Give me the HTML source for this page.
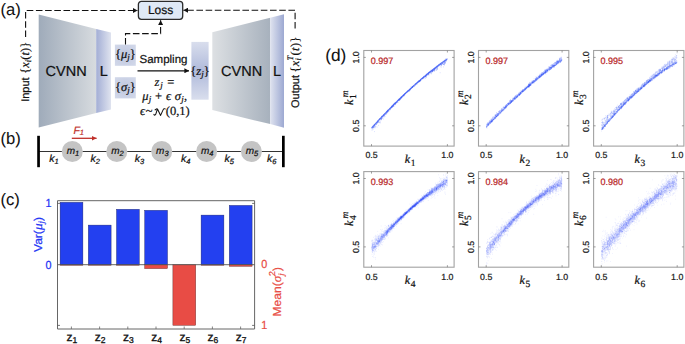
<!DOCTYPE html>
<html><head><meta charset="utf-8"><style>
html,body{margin:0;padding:0;background:#fff;}
svg{display:block;}
text{text-rendering:geometricPrecision;}
</style></head><body>
<svg width="685" height="344" viewBox="0 0 685 344"><g font-family='"Liberation Sans", sans-serif' fill="#111">
<text x="0.4" y="15.2" font-size="16.6" stroke="#111" stroke-width="0.08">(a)</text>
<defs>
<linearGradient id="gL" x1="0" x2="1" y1="0" y2="0"><stop offset="0" stop-color="#9fabba"/><stop offset="1" stop-color="#d7dbdf"/></linearGradient>
<linearGradient id="gR" x1="0" x2="1" y1="0" y2="0"><stop offset="0" stop-color="#dde0e3"/><stop offset="1" stop-color="#a7b1bd"/></linearGradient>
<linearGradient id="lL" x1="0" x2="1" y1="0" y2="0"><stop offset="0" stop-color="#a3aed5"/><stop offset="1" stop-color="#dfe3ef"/></linearGradient>
<linearGradient id="lR" x1="0" x2="1" y1="0" y2="0"><stop offset="0" stop-color="#dfe3ef"/><stop offset="1" stop-color="#9da9d2"/></linearGradient>
<radialGradient id="bx" cx="0.5" cy="0.5" r="0.7"><stop offset="0" stop-color="#bfc7df"/><stop offset="1" stop-color="#d3d9ea"/></radialGradient>
<linearGradient id="zb" x1="0" x2="0" y1="0" y2="1"><stop offset="0" stop-color="#d9deed"/><stop offset="0.5" stop-color="#b0badb"/><stop offset="1" stop-color="#d9deed"/></linearGradient>
<marker id="ah" viewBox="0 0 10 10" refX="10" refY="5" markerWidth="4.6" markerHeight="5" preserveAspectRatio="none" orient="auto" markerUnits="userSpaceOnUse"><path d="M0,0L10,5L0,10z" fill="#111"/></marker>
<marker id="ahr" viewBox="0 0 10 10" refX="10" refY="5" markerWidth="5" markerHeight="5" preserveAspectRatio="none" orient="auto" markerUnits="userSpaceOnUse"><path d="M0,0L10,5L0,10z" fill="#c0302a"/></marker>
</defs>
<polygon points="38.7,14.4 96.2,28.9 96.2,112.9 38.7,127.6" fill="url(#gL)"/>
<polygon points="96.2,28.9 111,32.4 111,109.4 96.2,112.9" fill="url(#lL)"/>
<polygon points="212.3,32.3 270.2,17.7 270.2,124.1 212.3,110.0" fill="url(#gR)"/>
<polygon points="270.2,17.7 284,14.2 284,127.7 270.2,124.1" fill="url(#lR)"/>
<text x="66.1" y="75.9" font-size="14.5" text-anchor="middle" stroke="#111" stroke-width="0.22">CVNN</text>
<text x="103.9" y="76.2" font-size="14.5" text-anchor="middle" stroke="#111" stroke-width="0.22">L</text>
<text x="241.6" y="75.9" font-size="14.5" text-anchor="middle" stroke="#111" stroke-width="0.22">CVNN</text>
<text x="277.1" y="76.2" font-size="14.5" text-anchor="middle" stroke="#111" stroke-width="0.22">L</text>
<rect x="114.9" y="44.6" width="20.9" height="21.2" fill="url(#bx)"/>
<rect x="114.9" y="77.2" width="20.9" height="21.2" fill="url(#bx)"/>
<rect x="191.4" y="41.9" width="17.2" height="57.8" fill="url(#zb)"/>
<text x="125.3" y="58.0" font-size="12.5" text-anchor="middle" font-family='"Liberation Serif", serif' stroke="#111" stroke-width="0.22">{<tspan font-style="italic">μ</tspan><tspan font-style="italic" font-size="9" dy="2.2">j</tspan><tspan dy="-2.2">}</tspan></text>
<text x="125.3" y="90.6" font-size="12.5" text-anchor="middle" font-family='"Liberation Serif", serif' stroke="#111" stroke-width="0.22">{<tspan font-style="italic">σ</tspan><tspan font-style="italic" font-size="9" dy="2.2">j</tspan><tspan dy="-2.2">}</tspan></text>
<text x="200" y="74.8" font-size="12.5" text-anchor="middle" font-family='"Liberation Serif", serif' stroke="#111" stroke-width="0.22">{<tspan font-style="italic">z</tspan><tspan font-style="italic" font-size="9" dy="2.2">j</tspan><tspan dy="-2.2">}</tspan></text>
<text x="163.5" y="62.7" font-size="11.5" text-anchor="middle" stroke="#111" stroke-width="0.22">Sampling</text>
<line x1="137.5" y1="70.8" x2="189" y2="70.8" stroke="#111" stroke-width="1.2" marker-end="url(#ah)"/>
<text x="154.6" y="85.7" font-size="12.5" textLength="19.6" lengthAdjust="spacing" font-family='"Liberation Serif", serif' stroke="#111" stroke-width="0.22"><tspan font-style="italic">z</tspan><tspan font-style="italic" font-size="9" dy="2.2">j</tspan><tspan dy="-2.2"> =</tspan></text>
<text x="142.2" y="99.8" font-size="12.5" textLength="45" lengthAdjust="spacing" font-family='"Liberation Serif", serif' stroke="#111" stroke-width="0.22"><tspan font-style="italic">μ</tspan><tspan font-style="italic" font-size="9" dy="2.2">j</tspan><tspan dy="-2.2"> + </tspan><tspan font-style="italic">ϵ σ</tspan><tspan font-style="italic" font-size="9" dy="2.2">j</tspan><tspan dy="-2.2">,</tspan></text>
<text x="140.0" y="115.4" font-size="12.5" textLength="12.6" lengthAdjust="spacing" font-family='"Liberation Serif", serif' stroke="#111" stroke-width="0.22"><tspan font-style="italic">ϵ</tspan>~</text>
<text x="165.8" y="115.4" font-size="12.5" font-family='"Liberation Serif", serif' stroke="#111" stroke-width="0.22">(0,1)</text>
<path transform="translate(0,0.5)" d="M153.9,113.9 C154.5,115.1 155.5,114.7 155.9,113.4 L157.3,108.8 M155.1,109.4 C155.9,108.3 157.0,108.1 157.6,108.7 L160.6,114.9 L163.2,109.1 C163.6,108.2 164.4,107.9 165.2,108.4" fill="none" stroke="#111" stroke-width="1.05" stroke-linecap="round" stroke-linejoin="round"/>
<rect x="138.4" y="1.3" width="44.3" height="18" rx="3" fill="#dfe9f6" stroke="#2b2b2b" stroke-width="1.3"/>
<text x="160.6" y="14.1" font-size="12" text-anchor="middle" stroke="#111" stroke-width="0.22">Loss</text>
<polyline points="25.6,37 25.6,10.5 137.5,10.5" stroke="#111" stroke-width="1.1" fill="none" stroke-dasharray="6.6 2.6" marker-end="url(#ah)"/>
<polyline points="295.1,28.5 295.1,10.2 183.4,10.2" stroke="#111" stroke-width="1.1" fill="none" stroke-dasharray="6.6 2.6" marker-end="url(#ah)"/>
<polyline points="125.5,44.6 125.5,33.6 160.6,33.6 160.6,20.3" stroke="#111" stroke-width="1.1" fill="none" stroke-dasharray="6.6 2.6" marker-end="url(#ah)"/>
<text transform="translate(28.8,101.8) rotate(-90)" font-size="11" stroke="#111" stroke-width="0.22">Input</text>
<text transform="translate(29.2,73.8) rotate(-90)" font-size="12.3" font-family='"Liberation Serif", serif' textLength="32" lengthAdjust="spacing" stroke="#111" stroke-width="0.22">{<tspan font-style="italic">x</tspan><tspan font-style="italic" font-size="8.5" dy="2">i</tspan><tspan dy="-2">(</tspan><tspan font-style="italic">t</tspan>)}</text>
<text transform="translate(298.7,108.0) rotate(-90)" font-size="11" stroke="#111" stroke-width="0.22">Output</text>
<text transform="translate(299.2,72.6) rotate(-90)" font-size="12.3" font-family='"Liberation Serif", serif' textLength="36" lengthAdjust="spacing" stroke="#111" stroke-width="0.22">{<tspan font-style="italic">x</tspan><tspan font-style="italic" font-size="8.5" dy="2">i</tspan><tspan font-style="italic" font-size="8.5" dx="-3" dy="-8">T</tspan><tspan dy="6">(</tspan><tspan font-style="italic">t</tspan>)}</text>
<text x="0.4" y="144.3" font-size="16.6" stroke="#111" stroke-width="0.08">(b)</text>
<line x1="39" y1="151.5" x2="283" y2="151.5" stroke="#333" stroke-width="1"/>
<rect x="37.2" y="135.8" width="2.7" height="31.4" fill="#000"/>
<rect x="282" y="135.8" width="2.7" height="31.4" fill="#000"/>
<circle cx="72.3" cy="151.5" r="10.5" fill="#c4c4c4"/>
<text x="72.9" y="154.2" font-size="10" font-style="italic" text-anchor="middle" stroke="#111" stroke-width="0.22">m<tspan font-size="7.5" dy="1.5">1</tspan></text>
<circle cx="116.8" cy="151.5" r="10.5" fill="#c4c4c4"/>
<text x="117.4" y="154.2" font-size="10" font-style="italic" text-anchor="middle" stroke="#111" stroke-width="0.22">m<tspan font-size="7.5" dy="1.5">2</tspan></text>
<circle cx="161.7" cy="151.5" r="10.5" fill="#c4c4c4"/>
<text x="162.3" y="154.2" font-size="10" font-style="italic" text-anchor="middle" stroke="#111" stroke-width="0.22">m<tspan font-size="7.5" dy="1.5">3</tspan></text>
<circle cx="206.6" cy="151.5" r="10.5" fill="#c4c4c4"/>
<text x="207.2" y="154.2" font-size="10" font-style="italic" text-anchor="middle" stroke="#111" stroke-width="0.22">m<tspan font-size="7.5" dy="1.5">4</tspan></text>
<circle cx="251.4" cy="151.5" r="10.5" fill="#c4c4c4"/>
<text x="252.0" y="154.2" font-size="10" font-style="italic" text-anchor="middle" stroke="#111" stroke-width="0.22">m<tspan font-size="7.5" dy="1.5">5</tspan></text>
<text x="49.3" y="162" font-size="10.5" font-style="italic" stroke="#111" stroke-width="0.22">k<tspan font-size="7.5" dy="1.5">1</tspan></text>
<text x="90.4" y="162" font-size="10.5" font-style="italic" stroke="#111" stroke-width="0.22">k<tspan font-size="7.5" dy="1.5">2</tspan></text>
<text x="134.7" y="162" font-size="10.5" font-style="italic" stroke="#111" stroke-width="0.22">k<tspan font-size="7.5" dy="1.5">3</tspan></text>
<text x="180.9" y="162" font-size="10.5" font-style="italic" stroke="#111" stroke-width="0.22">k<tspan font-size="7.5" dy="1.5">4</tspan></text>
<text x="224.6" y="162" font-size="10.5" font-style="italic" stroke="#111" stroke-width="0.22">k<tspan font-size="7.5" dy="1.5">5</tspan></text>
<text x="266.9" y="162" font-size="10.5" font-style="italic" stroke="#111" stroke-width="0.22">k<tspan font-size="7.5" dy="1.5">6</tspan></text>
<text x="73.4" y="133.6" font-size="10.5" font-style="italic" fill="#c0302a" stroke="#c0302a" stroke-width="0.22">F<tspan font-size="7.5" dy="1.5">1</tspan></text>
<line x1="71.8" y1="138.3" x2="96.6" y2="138.3" stroke="#c0302a" stroke-width="1.3" marker-end="url(#ahr)"/>
<text x="0.4" y="205.1" font-size="16.6" stroke="#111" stroke-width="0.08">(c)</text>
<rect x="60.1" y="264.7" width="22.8" height="0.5" fill="#e84c45" stroke="#5a2020" stroke-width="0.4"/>
<rect x="60.1" y="202.3" width="22.8" height="62.4" fill="#2340f0" stroke="#1a2060" stroke-width="0.4"/>
<rect x="88.3" y="264.7" width="22.8" height="0.5" fill="#e84c45" stroke="#5a2020" stroke-width="0.4"/>
<rect x="88.3" y="225.1" width="22.8" height="39.6" fill="#2340f0" stroke="#1a2060" stroke-width="0.4"/>
<rect x="116.5" y="264.7" width="22.8" height="0.5" fill="#e84c45" stroke="#5a2020" stroke-width="0.4"/>
<rect x="116.5" y="209.3" width="22.8" height="55.4" fill="#2340f0" stroke="#1a2060" stroke-width="0.4"/>
<rect x="144.7" y="264.7" width="22.8" height="3.9" fill="#e84c45" stroke="#5a2020" stroke-width="0.4"/>
<rect x="144.7" y="210.3" width="22.8" height="54.4" fill="#2340f0" stroke="#1a2060" stroke-width="0.4"/>
<rect x="172.9" y="264.7" width="22.8" height="60.6" fill="#e84c45" stroke="#5a2020" stroke-width="0.4"/>
<rect x="201.1" y="264.7" width="22.8" height="0.5" fill="#e84c45" stroke="#5a2020" stroke-width="0.4"/>
<rect x="201.1" y="215.1" width="22.8" height="49.6" fill="#2340f0" stroke="#1a2060" stroke-width="0.4"/>
<rect x="229.3" y="264.7" width="22.8" height="1.6" fill="#e84c45" stroke="#5a2020" stroke-width="0.4"/>
<rect x="229.3" y="205.4" width="22.8" height="59.3" fill="#2340f0" stroke="#1a2060" stroke-width="0.4"/>
<path d="M57.5,200.7 H254.6 V329 H57.5 Z" fill="none" stroke="#666" stroke-width="1"/>
<line x1="57.5" y1="264.7" x2="254.6" y2="264.7" stroke="#555" stroke-width="0.9"/>
<path d="M57.5,203.4h2.5M254.6,203.4h-2.5M57.5,325.4h2.5M254.6,325.4h-2.5" stroke="#555" stroke-width="0.8"/>
<line x1="71.4" y1="326.5" x2="71.4" y2="329" stroke="#666" stroke-width="0.8"/>
<text x="66.6" y="340.8" font-size="12" stroke="#111" stroke-width="0.32">z<tspan font-size="8.5" dy="2">1</tspan></text>
<line x1="99.6" y1="326.5" x2="99.6" y2="329" stroke="#666" stroke-width="0.8"/>
<text x="94.8" y="340.8" font-size="12" stroke="#111" stroke-width="0.32">z<tspan font-size="8.5" dy="2">2</tspan></text>
<line x1="127.8" y1="326.5" x2="127.8" y2="329" stroke="#666" stroke-width="0.8"/>
<text x="123.0" y="340.8" font-size="12" stroke="#111" stroke-width="0.32">z<tspan font-size="8.5" dy="2">3</tspan></text>
<line x1="156.0" y1="326.5" x2="156.0" y2="329" stroke="#666" stroke-width="0.8"/>
<text x="151.2" y="340.8" font-size="12" stroke="#111" stroke-width="0.32">z<tspan font-size="8.5" dy="2">4</tspan></text>
<line x1="184.2" y1="326.5" x2="184.2" y2="329" stroke="#666" stroke-width="0.8"/>
<text x="179.4" y="340.8" font-size="12" stroke="#111" stroke-width="0.32">z<tspan font-size="8.5" dy="2">5</tspan></text>
<line x1="212.4" y1="326.5" x2="212.4" y2="329" stroke="#666" stroke-width="0.8"/>
<text x="207.6" y="340.8" font-size="12" stroke="#111" stroke-width="0.32">z<tspan font-size="8.5" dy="2">6</tspan></text>
<line x1="240.6" y1="326.5" x2="240.6" y2="329" stroke="#666" stroke-width="0.8"/>
<text x="235.8" y="340.8" font-size="12" stroke="#111" stroke-width="0.32">z<tspan font-size="8.5" dy="2">7</tspan></text>
<text transform="translate(51.5,207.4) scale(1,1.08)" font-size="10.8" fill="#2233f5" text-anchor="end" stroke="#2233f5" stroke-width="0.22">1</text>
<text transform="translate(51.5,269.0) scale(1,1.08)" font-size="10.8" fill="#2233f5" text-anchor="end" stroke="#2233f5" stroke-width="0.22">0</text>
<text transform="translate(261.2,268.0) scale(1,1.08)" font-size="10.8" fill="#e84c45" stroke="#e84c45" stroke-width="0.22">0</text>
<text transform="translate(261.2,329.4) scale(1,1.08)" font-size="10.8" fill="#e84c45" stroke="#e84c45" stroke-width="0.22">1</text>
<text transform="translate(41.7,252) rotate(-90)" font-size="11.5" fill="#2233f5" textLength="35" lengthAdjust="spacingAndGlyphs" stroke="#2233f5" stroke-width="0.22">Var(<tspan font-style="italic" font-family='"Liberation Serif", serif' font-size="12.5">μ</tspan><tspan font-style="italic" font-family='"Liberation Serif", serif' font-size="8.5" dy="2">j</tspan><tspan dy="-2">)</tspan></text>
<text transform="translate(281.1,316.5) rotate(-90)" font-size="11.5" fill="#e84c45" textLength="49.5" lengthAdjust="spacingAndGlyphs" stroke="#e84c45" stroke-width="0.22">Mean(<tspan font-style="italic" font-family='"Liberation Serif", serif' font-size="12.5">σ</tspan><tspan font-style="italic" font-family='"Liberation Serif", serif' font-size="8.5" dy="2.5">j</tspan><tspan font-size="8.5" dx="-2.5" dy="-8.2">2</tspan><tspan dy="5.7">)</tspan></text>
<text x="325.2" y="60.5" font-size="17.3" stroke="#111" stroke-width="0.08">(d)</text>
<rect x="363.8" y="50.5" width="90.3" height="95.6" fill="none" stroke="#a2a2a2" stroke-width="1.1"/>
<path d="M371.5,146.1 v-2 M371.5,50.5 v2 M363.8,125.8 h2 M454.1,125.8 h-2" stroke="#777" stroke-width="0.7"/>
<path d="M447.4,146.1 v-2 M447.4,50.5 v2 M363.8,57.4 h2 M454.1,57.4 h-2" stroke="#777" stroke-width="0.7"/>
<text x="371.5" y="158.4" font-size="8.8" text-anchor="middle" fill="#222" stroke="#222" stroke-width="0.22">0.5</text>
<text x="447.4" y="158.4" font-size="8.8" text-anchor="middle" fill="#222" stroke="#222" stroke-width="0.22">1.0</text>
<text transform="translate(358.8,57.4) rotate(-90)" font-size="8.8" text-anchor="middle" fill="#222" stroke="#222" stroke-width="0.22">1.0</text>
<text transform="translate(358.8,125.8) rotate(-90)" font-size="8.8" text-anchor="middle" fill="#222" stroke="#222" stroke-width="0.22">0.5</text>
<text x="404.8" y="163.2" font-size="12" font-style="italic" font-family='"Liberation Serif", serif' stroke="#111" stroke-width="0.22">k<tspan font-style="normal" font-size="9.5" dx="0.6" dy="2.6">1</tspan></text>
<text transform="translate(352.8,105.0) rotate(-90)" font-size="12" font-style="italic" font-family='"Liberation Serif", serif' stroke="#111" stroke-width="0.22">k<tspan font-style="normal" font-size="9.5" dx="0.8" dy="3.1">1</tspan><tspan font-size="9.5" dx="-3.15" dy="-7.5">m</tspan></text>
<text transform="translate(370.7,63.8) scale(1,1.03)" font-size="9" fill="#b82828" stroke="#b82828" stroke-width="0.22">0.997</text>
<rect x="478.5" y="50.5" width="90.3" height="95.6" fill="none" stroke="#a2a2a2" stroke-width="1.1"/>
<path d="M486.2,146.1 v-2 M486.2,50.5 v2 M478.5,125.8 h2 M568.8,125.8 h-2" stroke="#777" stroke-width="0.7"/>
<path d="M562.1,146.1 v-2 M562.1,50.5 v2 M478.5,57.4 h2 M568.8,57.4 h-2" stroke="#777" stroke-width="0.7"/>
<text x="486.2" y="158.4" font-size="8.8" text-anchor="middle" fill="#222" stroke="#222" stroke-width="0.22">0.5</text>
<text x="562.1" y="158.4" font-size="8.8" text-anchor="middle" fill="#222" stroke="#222" stroke-width="0.22">1.0</text>
<text transform="translate(473.5,57.4) rotate(-90)" font-size="8.8" text-anchor="middle" fill="#222" stroke="#222" stroke-width="0.22">1.0</text>
<text transform="translate(473.5,125.8) rotate(-90)" font-size="8.8" text-anchor="middle" fill="#222" stroke="#222" stroke-width="0.22">0.5</text>
<text x="519.5" y="163.2" font-size="12" font-style="italic" font-family='"Liberation Serif", serif' stroke="#111" stroke-width="0.22">k<tspan font-style="normal" font-size="9.5" dx="0.6" dy="2.6">2</tspan></text>
<text transform="translate(467.5,105.0) rotate(-90)" font-size="12" font-style="italic" font-family='"Liberation Serif", serif' stroke="#111" stroke-width="0.22">k<tspan font-style="normal" font-size="9.5" dx="0.8" dy="3.1">2</tspan><tspan font-size="9.5" dx="-3.15" dy="-7.5">m</tspan></text>
<text transform="translate(485.4,63.8) scale(1,1.03)" font-size="9" fill="#b82828" stroke="#b82828" stroke-width="0.22">0.997</text>
<rect x="593.6" y="50.5" width="90.3" height="95.6" fill="none" stroke="#a2a2a2" stroke-width="1.1"/>
<path d="M601.3,146.1 v-2 M601.3,50.5 v2 M593.6,125.8 h2 M683.9,125.8 h-2" stroke="#777" stroke-width="0.7"/>
<path d="M677.2,146.1 v-2 M677.2,50.5 v2 M593.6,57.4 h2 M683.9,57.4 h-2" stroke="#777" stroke-width="0.7"/>
<text x="601.3" y="158.4" font-size="8.8" text-anchor="middle" fill="#222" stroke="#222" stroke-width="0.22">0.5</text>
<text x="677.2" y="158.4" font-size="8.8" text-anchor="middle" fill="#222" stroke="#222" stroke-width="0.22">1.0</text>
<text transform="translate(588.6,57.4) rotate(-90)" font-size="8.8" text-anchor="middle" fill="#222" stroke="#222" stroke-width="0.22">1.0</text>
<text transform="translate(588.6,125.8) rotate(-90)" font-size="8.8" text-anchor="middle" fill="#222" stroke="#222" stroke-width="0.22">0.5</text>
<text x="634.6" y="163.2" font-size="12" font-style="italic" font-family='"Liberation Serif", serif' stroke="#111" stroke-width="0.22">k<tspan font-style="normal" font-size="9.5" dx="0.6" dy="2.6">3</tspan></text>
<text transform="translate(582.6,105.0) rotate(-90)" font-size="12" font-style="italic" font-family='"Liberation Serif", serif' stroke="#111" stroke-width="0.22">k<tspan font-style="normal" font-size="9.5" dx="0.8" dy="3.1">3</tspan><tspan font-size="9.5" dx="-3.15" dy="-7.5">m</tspan></text>
<text transform="translate(600.5,63.8) scale(1,1.03)" font-size="9" fill="#b82828" stroke="#b82828" stroke-width="0.22">0.995</text>
<rect x="363.8" y="171.6" width="90.3" height="95.6" fill="none" stroke="#a2a2a2" stroke-width="1.1"/>
<path d="M371.5,267.2 v-2 M371.5,171.6 v2 M363.8,246.9 h2 M454.1,246.9 h-2" stroke="#777" stroke-width="0.7"/>
<path d="M447.4,267.2 v-2 M447.4,171.6 v2 M363.8,178.5 h2 M454.1,178.5 h-2" stroke="#777" stroke-width="0.7"/>
<text x="371.5" y="279.5" font-size="8.8" text-anchor="middle" fill="#222" stroke="#222" stroke-width="0.22">0.5</text>
<text x="447.4" y="279.5" font-size="8.8" text-anchor="middle" fill="#222" stroke="#222" stroke-width="0.22">1.0</text>
<text transform="translate(358.8,178.5) rotate(-90)" font-size="8.8" text-anchor="middle" fill="#222" stroke="#222" stroke-width="0.22">1.0</text>
<text transform="translate(358.8,246.9) rotate(-90)" font-size="8.8" text-anchor="middle" fill="#222" stroke="#222" stroke-width="0.22">0.5</text>
<text x="404.8" y="284.3" font-size="12" font-style="italic" font-family='"Liberation Serif", serif' stroke="#111" stroke-width="0.22">k<tspan font-style="normal" font-size="9.5" dx="0.6" dy="2.6">4</tspan></text>
<text transform="translate(352.8,226.1) rotate(-90)" font-size="12" font-style="italic" font-family='"Liberation Serif", serif' stroke="#111" stroke-width="0.22">k<tspan font-style="normal" font-size="9.5" dx="0.8" dy="3.1">4</tspan><tspan font-size="9.5" dx="-3.15" dy="-7.5">m</tspan></text>
<text transform="translate(370.7,184.9) scale(1,1.03)" font-size="9" fill="#b82828" stroke="#b82828" stroke-width="0.22">0.993</text>
<rect x="478.5" y="171.6" width="90.3" height="95.6" fill="none" stroke="#a2a2a2" stroke-width="1.1"/>
<path d="M486.2,267.2 v-2 M486.2,171.6 v2 M478.5,246.9 h2 M568.8,246.9 h-2" stroke="#777" stroke-width="0.7"/>
<path d="M562.1,267.2 v-2 M562.1,171.6 v2 M478.5,178.5 h2 M568.8,178.5 h-2" stroke="#777" stroke-width="0.7"/>
<text x="486.2" y="279.5" font-size="8.8" text-anchor="middle" fill="#222" stroke="#222" stroke-width="0.22">0.5</text>
<text x="562.1" y="279.5" font-size="8.8" text-anchor="middle" fill="#222" stroke="#222" stroke-width="0.22">1.0</text>
<text transform="translate(473.5,178.5) rotate(-90)" font-size="8.8" text-anchor="middle" fill="#222" stroke="#222" stroke-width="0.22">1.0</text>
<text transform="translate(473.5,246.9) rotate(-90)" font-size="8.8" text-anchor="middle" fill="#222" stroke="#222" stroke-width="0.22">0.5</text>
<text x="519.5" y="284.3" font-size="12" font-style="italic" font-family='"Liberation Serif", serif' stroke="#111" stroke-width="0.22">k<tspan font-style="normal" font-size="9.5" dx="0.6" dy="2.6">5</tspan></text>
<text transform="translate(467.5,226.1) rotate(-90)" font-size="12" font-style="italic" font-family='"Liberation Serif", serif' stroke="#111" stroke-width="0.22">k<tspan font-style="normal" font-size="9.5" dx="0.8" dy="3.1">5</tspan><tspan font-size="9.5" dx="-3.15" dy="-7.5">m</tspan></text>
<text transform="translate(485.4,184.9) scale(1,1.03)" font-size="9" fill="#b82828" stroke="#b82828" stroke-width="0.22">0.984</text>
<rect x="593.6" y="171.6" width="90.3" height="95.6" fill="none" stroke="#a2a2a2" stroke-width="1.1"/>
<path d="M601.3,267.2 v-2 M601.3,171.6 v2 M593.6,246.9 h2 M683.9,246.9 h-2" stroke="#777" stroke-width="0.7"/>
<path d="M677.2,267.2 v-2 M677.2,171.6 v2 M593.6,178.5 h2 M683.9,178.5 h-2" stroke="#777" stroke-width="0.7"/>
<text x="601.3" y="279.5" font-size="8.8" text-anchor="middle" fill="#222" stroke="#222" stroke-width="0.22">0.5</text>
<text x="677.2" y="279.5" font-size="8.8" text-anchor="middle" fill="#222" stroke="#222" stroke-width="0.22">1.0</text>
<text transform="translate(588.6,178.5) rotate(-90)" font-size="8.8" text-anchor="middle" fill="#222" stroke="#222" stroke-width="0.22">1.0</text>
<text transform="translate(588.6,246.9) rotate(-90)" font-size="8.8" text-anchor="middle" fill="#222" stroke="#222" stroke-width="0.22">0.5</text>
<text x="634.6" y="284.3" font-size="12" font-style="italic" font-family='"Liberation Serif", serif' stroke="#111" stroke-width="0.22">k<tspan font-style="normal" font-size="9.5" dx="0.6" dy="2.6">6</tspan></text>
<text transform="translate(582.6,226.1) rotate(-90)" font-size="12" font-style="italic" font-family='"Liberation Serif", serif' stroke="#111" stroke-width="0.22">k<tspan font-style="normal" font-size="9.5" dx="0.8" dy="3.1">6</tspan><tspan font-size="9.5" dx="-3.15" dy="-7.5">m</tspan></text>
<text transform="translate(600.5,184.9) scale(1,1.03)" font-size="9" fill="#b82828" stroke="#b82828" stroke-width="0.22">0.980</text>
<path transform="scale(.1)" d="M3716 1283h6m-6 -4h6m-5 23h6m-5 -17h6m-6 -6h6m-5 17h6m-5 -15h6m-5 -6h6m-6 1h6m-1 1h6m-5 -7h6m-6 -2h6m-4 0h6m-6 -1h6m-6 3h6m-5 7h6m-5 13h6m-5 -26h6m-6 -4h6m-5 13h6m-6 1h6m-5 -10h6m-5 10h6m-3 -16h6m-4 9h6m-6 -18h6m-6 67h6m-5 -61h6m-6 22h6m-6 -25h6m-5 4h6m-6 8h6m-5 -1h6m-6 -17h6m-6 6h6m-5 3h6m-4 15h6m-6 -26h6m-4 4h6m-6 30h6m-5 -22h6m-6 -12h6m-5 -1h6m-5 5h6m-4 -12h6m-6 -2h6m-5 33h6m-4 -2h6m-4 -35h6m-3 10h6m-6 -7h6m-6 13h6m-6 -5h6m-4 -13h6m-6 16h6m-5 -10h6m-4 -5h6m-6 -5h6m-4 47h6m-6 -53h6m-6 17h6m-5 -13h6m-5 1h6m-5 2h6m-6 3h6m-5 0h6m-6 -16h6m-5 0h6m-5 12h6m-4 -16h6m-6 5h6m-6 -6h6m-5 8h6m-6 2h6m-5 3h6m-4 3h6m-4 31h6m-5 -34h6m-5 -18h6m-6 15h6m-5 -6h6m-6 -1h6m-3 12h6m-6 -24h6m-6 -1h6m-4 30h6m-5 -30h6m-4 23h6m-5 -32h6m-5 9h6m-5 -2h6m-6 2h6m-5 7h6m-6 -16h6m-5 -2h6m-6 1h6m-4 42h6m-5 -44h6m-5 3h6m-6 1h6m-6 1h6m-5 28h6m-2 -31h6m-5 9h6m-5 -7h6m-6 -7h6m-5 -3h6m-6 8h6m-5 2h6m-6 -8h6m-4 7h6m-6 -4h6m-6 -23h6m-5 8h6m-6 24h6m-6 5h6m-5 -20h6m-6 -11h6m-6 4h6m-5 2h6m-4 -10h6m-6 8h6m-6 0h6m-6 -7h6m-3 19h6m-4 -14h6m-6 13h6m-4 -19h6m-6 0h6m-5 7h6m-6 -6h6m-5 -7h6m-5 -4h6m-6 16h6m-3 -7h6m-5 -8h6m-6 5h6m-5 -7h6m-6 -1h6m-5 39h6m-6 -41h6m-5 12h6m-6 -10h6m-4 2h6m-6 4h6m-6 -4h6m-5 17h6m-6 -19h6m-5 -6h6m-5 9h6m-6 -1h6m-5 -13h6m-6 2h6m-4 8h6m-3 -11h6m-6 25h6m-5 -4h6m-5 -19h6m-6 -3h6m-5 -4h6m-5 4h6m-5 -3h6m-3 10h6m-5 -3h6m-5 -2h6m-4 -10h6m-5 5h6m-6 -12h6m-6 17h6m-5 -2h6m-6 -10h6m-4 -6h6m-5 4h6m-6 -4h6m-6 -2h6m-4 12h6m-5 -19h6m-6 3h6m-6 11h6m-4 -5h6m-6 -9h6m-6 3h6m-4 6h6m-5 -1h6m-5 -13h6m-5 -1h6m-6 8h6m-5 -5h6m-6 2h6m-6 -9h6m-5 8h6m-6 12h6m-6 5h6m-5 -19h6m-5 3h6m-6 -4h6m-5 5h6m-6 -5h6m-6 -12h6m-6 17h6m-5 -9h6m-6 -1h6m-4 -2h6m-5 2h6m-3 12h6m-6 -18h6m-5 12h6m-3 -15h6m-5 -4h6m-5 9h6m-4 0h6m-6 -11h6m-4 12h6m-3 -17h6m-6 10h6m-6 -8h6m-5 3h6m-5 0h6m-3 9h6m-6 -14h6m-5 6h6m-6 1h6m-5 -12h6m-4 1h6m-5 -2h6m-5 -2h6m-4 -12h6m-6 19h6m-6 -10h6m-5 3h6m-6 3h6m-6 -7h6m-4 -9h6m-6 3h6m-6 4h6m-6 7h6m-5 -1h6m-6 -6h6m-5 1h6m-3 2h6m-6 -8h6m-6 -4h6m-5 5h6m-5 6h6m-6 -9h6m-6 7h6m-4 -6h6m-6 7h6m-6 -6h6m-5 -5h6m-6 8h6m-5 -10h6m-6 5h6m-5 -3h6m-5 -8h6m-5 14h6m-5 -14h6m-6 7h6m-5 -9h6m-6 5h6m-6 0h6m-6 -5h6m-5 9h6m-6 0h6m-5 7h6m-6 -23h6m-6 19h6m-6 -10h6m-6 1h6m-1 -2h6m-6 -11h6m-6 11h6m-5 -5h6m-5 16h6m-4 -25h6m-6 -3h6m-6 8h6m-4 -6h6m-6 10h6m-5 -3h6m-5 -12h6m-4 18h6m-6 -8h6m-5 1h6m-5 0h6m-5 -3h6m-6 -2h6m-6 -7h6m-5 2h6m-6 4h6m-5 1h6m-5 2h6m-6 5h6m-4 -15h6m-6 6h6m-6 -7h6m-5 0h6m-5 5h6m-2 -4h6m-6 1h6m-6 -2h6m-4 -1h6m-6 -2h6m-6 1h6m-4 -7h6m-5 4h6m-6 -7h6m-3 -1h6m-6 2h6m-5 2h6m-6 -12h6m-5 18h6m-5 -3h6m-6 -11h6m-5 6h6m-2 -10h6m-6 3h6m-5 15h6m-5 -21h6m-5 3h6m-5 -3h6m-4 -1h6m-5 -5h6m-5 9h6m-6 -5h6m-5 -6h6m-6 13h6m-6 -9h6m-5 -8h6m-5 12h6m-6 -5h6m-6 -6h6m-4 3h6m-5 2h6m-5 -9h6m-6 10h6m-6 -3h6m-6 3h6m-5 6h6m-6 -5h6m-5 -2h6m-6 0h6m-5 -8h6m-6 -3h6m-3 10h6m-6 -13h6m-6 4h6m-5 10h6m-3 -6h6m-6 0h6m-6 -1h6m-6 -2h6m-4 -3h6m-6 2h6m-6 -13h6m-4 8h6m-6 4h6m-6 -5h6m-6 1h6m-6 -1h6m-5 -2h6m-6 -9h6m-4 14h6m-6 -9h6m-6 -5h6m-5 5h6m-5 0h6m-6 -2h6m-5 1h6m-6 5h6m-5 -10h6m-5 -1h6m-6 8h6m-4 -8h6m-5 7h6m-6 1h6m-5 -3h6m-5 -9h6m-4 1h6m-5 0h6m-6 -5h6m-5 9h6m-2 -11h6m-6 0h6m-5 -5h6m-5 8h6m-4 -3h6m-6 0h6m-5 -1h6m-6 -9h6m-6 7h6m-5 1h6m-5 -4h6m-6 1h6m-6 2h6m-5 -5h6m-6 2h6m-6 2h6m-4 7h6m-4 -14h6m-5 1h6m-6 4h6m-5 3h6m-6 -11h6m-6 3h6m-5 -3h6m-5 -7h6m-5 9h6m-6 -8h6m-5 7h6m-5 -7h6m-5 8h6m-5 -9h6m-5 -3h6m-5 1h6m-5 -2h6m-6 1h6m-5 -2h6m-5 8h6m-5 -6h6m-5 -1h6m-4 -2h6m-4 -3h6m-6 1h6m-5 -6h6m-5 3h6m-5 -2h6m-4 0h6m-6 0h6m-4 -2h6m-5 -1h6m-5 -3h6m-4 -7h6m-6 8h6m-5 -7h6m-6 8h6m-5 -6h6m-4 5h6m-6 -3h6m-5 -3h6m-6 -4h6m-5 9h6m-3 -8h6m-6 -4h6m-5 3h6m-5 -4h6m-6 10h6m-6 -1h6m-5 -8h6m-5 -1h6m-2 -2h6m-6 6h6m-4 -8h6m-5 -2h6m-6 8h6m-5 -8h6m-6 5h6m-6 -6h6m-5 2h6m-5 -3h6m-5 -4h6m-6 21h6m-5 -23h6m-6 7h6m-4 -1h6m-4 6h6m-5 -17h6m-6 6h6m-5 -1h6m-6 -2h6m-5 1h6m-6 3h6m-5 -1h6m-5 -2h6m-5 6h6m-5 -28h6m-4 10h6m-5 4h6m-5 3h6m-5 -2h6m-6 3h6m-6 -1h6m-3 -8h6m-6 -4h6m-5 3h6m-5 -3h6m-5 -3h6m-5 -4h6m-4 0h6m-5 8h6m-6 4h6m-5 -10h6m-5 3h6m-6 2h6m-5 -6h6m-6 5h6m-6 0h6m-5 -4h6m-6 1h6m-6 1h6m-6 1h6m-6 0h6m-2 -12h6m-5 5h6m-3 -2h6m-5 2h6m-5 4h6m-6 -13h6m-4 1h6m-5 5h6m-5 -1h6m-6 -2h6m-6 5h6m-6 -12h6m0 7h6m-3 -24h6m-5 19h6m-6 -6h6m-5 3h6m-6 -2h6m-4 -5h6m-6 -5h6m-5 11h6m-5 -8h6m-4 1h6m-5 -4h6m-4 1h6m-5 4h6m-6 -8h6m-4 4h6m-4 -2h6m-6 3h6m-5 -6h6m-5 -2h6m-5 -5h6m-6 8h6m-4 -11h6m-5 4h6m-5 -3h6m-5 -8h6m-6 11h6m-5 12h6m-6 -19h6m-4 7h6m-5 -7h6m-5 4h6m-5 -1h6m-6 1h6m-4 -9h6m-3 5h6m-5 -14h6m-6 12h6m-5 -4h6m-6 1h6m-5 -1h6m-5 -9h6m-5 4h6m-6 2h6m-6 0h6m-3 8h6m-5 -8h6m-6 0h6m-6 0h6m-6 -2h6m-6 4h6m-5 1h6m-4 -5h6m-4 1h6m-6 -6h6m-5 1h6m-6 3h6m-5 -4h6m-6 -2h6m-6 6h6m-5 -9h6m-6 10h6m-4 -10h6m-6 0h6m-5 7h6m-5 -7h6m-5 0h6m-6 -6h6m-5 4h6m-5 0h6m-5 -14h6m-5 17h6m-3 -13h6m-5 1h6m-3 -1h6m-5 2h6m-6 -2h6m-2 -3h6m-5 -3h6m-5 9h6m-6 -6h6m-5 0h6m-6 -2h6m-5 -5h6m-6 2h6m-6 5h6m-3 -11h6m-5 5h6m-4 4h6m-6 -7h6m-5 -3h6m-5 9h6m-5 -19h6m-6 8h6m-5 4h6m-6 4h6m-4 -6h6m-6 15h6m-5 -17h6m-6 -3h6m-6 7h6m-4 -7h6m-4 1h6m-1 -8h6m-6 6h6m-5 0h6m-5 -3h6m-5 -2h6m-6 11h6m-4 -7h6m-6 -1h6m-6 -6h6m-6 25h6m-4 -22h6m-6 -1h6m-5 2h6m-5 -4h6m-6 -8h6m-4 6h6m-6 -3h6m-6 9h6m-6 -10h6m-6 1h6m-6 6h6m-3 8h6m-5 -18h6m-6 23h6m-6 -22h6m-5 -2h6m-6 -4h6m-6 10h6m-4 -6h6m-5 -9h6m-5 4h6m-5 6h6m-6 2h6m-5 -15h6m-5 9h6m-4 -4h6m-4 2h6m-5 -4h6m-6 10h6m-3 -9h6m-6 6h6m-4 -5h6m-5 -18h6m-6 21h6m-6 -10h6m-4 4h6m-6 -2h6m-5 -2h6m-6 -3h6m-6 8h6m-5 -7h6m-6 -4h6m-6 11h6m-5 -16h6m-6 28h6m-5 -23h6m-6 14h6m-5 -14h6m-5 -2h6m-6 -5h6m-4 6h6m-6 0h6m-2 -1h6m-6 -8h6m-6 7h6m-5 1h6m-5 -10h6m-6 5h6m-4 -3h6m-5 -16h6m-5 13h6m-6 14h6m-5 -7h6m-5 6h6m-5 -12h6m-4 1h6m-4 -1h6m-5 21h6m-6 -25h6m-6 5h6m-5 18h6m-6 -24h6m-4 11h6m-6 -11h6m-6 -4h6m-6 -5h6m-5 9h6m-5 13h6m-4 -17h6m-4 -1h6m-5 -9h6m-6 15h6m-5 -10h6m-6 15h6m-5 -4h6m-6 -12h6m-5 4h6m-6 13h6m-5 -6h6m-6 2h6m-6 -6h6m-6 2h6m-6 -2h6m-5 -3h6m-6 4h6m-6 -6h6m-3 -2h6m-5 2h6m-6 -1h6m-5 -2h6m-6 0h6m-2 -4h6m-5 4h6m-6 -10h6m-5 8h6m-6 5h6m-6 5h6m-6 2h6m-5 -19h6m-5 -3h6m-5 18h6m-5 -13h6m-6 5h6m-6 0h6m-6 0h6m-5 -11h6m-6 6h6m-6 -2h6m-4 -5h6m-6 25h6m-6 -13h6m-4 -14h6m-6 5h6m-5 2h6m-5 -8h6m-6 23h6m-6 -4h6m-5 -20h6m-6 4h6m-6 3h6m-5 -10h6m-5 0h6m-6 9h6m-5 -4h6m-3 -7h6m-5 -1h6m-4 11h6m-6 -9h6m-4 12h6m-5 -20h6m-5 33h6m-5 -31h6m-6 -11h6m-6 17h6m-4 -9h6m-5 9h6m-5 21h6m-6 -25h6m-6 4h6m-6 3h6m-5 -12h6m-6 -3h6m-6 28h6m-5 -33h6m-4 27h6m-5 -10h6m-6 -15h6m-6 19h6m-5 -14h6m-5 -1h6m-6 -9h6m-5 5h6m-6 30h6m-6 -18h6m-5 -13h6m-5 17h6m-4 -15h6m-2 -8h6m-4 -9h6m-6 6h6m-6 11h6m-4 -15h6m-6 11h6m-6 -9h6m-5 -1h6m-4 -3h6m-6 2h6m-6 5h6m-4 -3h6m-6 -1h6m0 3h6m-5 -11h6m-5 84h6m-6 -64h6m-5 -24h6m-6 5h6m-4 -1h6m-3 -5h6m-6 7h6m-5 -4h6m-5 6h6m-6 3h6m-6 -9h6m-5 6h6m-5 26h6m-6 -34h6m-5 20h6m-4 -21h6m-6 18h6m-4 -6h6m-6 -8h6m-5 2h6m-6 -14h6m-5 17h6m-6 -6h6m-4 -7h6m-6 1h6m-5 -3h6m-5 1h6m-5 9h6m-6 -10h6m-6 2h6m-5 -4h6m-6 -5h6m-3 3h6m-5 8h6m-3 -14h6m-6 21h6m-5 -22h6m-6 3h6m-5 22h6m-6 -26h6m-6 -4h6m-5 16h6m-5 -13h6m-5 50h6m-5 -25h6m-6 -16h6m-5 14h6m-4 -25h6m-5 28h6m-6 -6h6m-5 -3h6m-5 -4h6m-5 -16h6m-6 12h6m-5 -8h6m-6 -9h6m-6 36h6m-5 -27h6m-6 30h6m-6 -20h6m-5 -28h6m-6 20h6m-6 -6h6m-6 -1h6m-5 -8h6m-4 24h6m-5 -10h6m-5 -17h6m-6 1h6m-6 6h6m-6 23h6m-6 -6h6m-5 -8h6m-6 6h6m-5 -21h6m-6 12h6m-4 -6h6m-4 -2h6m-6 -22h6m-5 17h6m-4 -2h6m-4 1h6m-5 -3h6m-6 -11h6m-3 13h6m-6 11h6m-5 -12h6m-4 -7h6m-4 -2h6m-6 -5h6m-6 3h6" stroke="#3050f5" stroke-width="6" stroke-opacity="0.45" fill="none"/>
<polyline points="371.6,127.8 373.5,125.7 375.5,123.6 377.4,121.5 379.3,119.4 381.2,117.3 383.2,115.3 385.1,113.3 387.0,111.3 389.0,109.3 390.9,107.3 392.8,105.4 394.7,103.5 396.7,101.6 398.6,99.7 400.5,97.8 402.5,96.0 404.4,94.1 406.3,92.3 408.2,90.6 410.2,88.8 412.1,87.1 414.0,85.3 415.9,83.6 417.9,82.0 419.8,80.3 421.7,78.7 423.7,77.0 425.6,75.4 427.5,73.8 429.4,72.3 431.4,70.7 433.3,69.2 435.2,67.7 437.2,66.2 439.1,64.8 441.0,63.3 442.9,61.9 444.9,60.5 446.8,59.1" fill="none" stroke="#3a5af5" stroke-width="1.1" stroke-opacity="0.75"/>
<path transform="scale(.1)" d="M4861 1249h6m-5 22h6m-6 3h6m-5 -22h6m-6 19h6m-6 -4h6m-6 -3h6m-6 1h6m-5 1h6m-5 -25h6m-4 40h6m-6 -31h6m-6 8h6m-5 -17h6m-5 27h6m-6 -16h6m-6 -1h6m-4 8h6m-6 -19h6m-6 20h6m-5 -26h6m-5 18h6m-6 -13h6m-6 25h6m-6 -16h6m-5 -23h6m-6 29h6m-4 -11h6m-6 -4h6m-6 4h6m-4 7h6m-6 -2h6m-6 -6h6m-6 2h6m-5 1h6m-5 -9h6m-5 14h6m-5 6h6m-6 -2h6m-6 -9h6m-6 -2h6m-5 11h6m-6 -25h6m-6 17h6m-5 -11h6m-6 3h6m-6 -17h6m-5 13h6m-6 -2h6m-5 15h6m-6 -1h6m-5 -20h6m-6 8h6m-5 5h6m-5 6h6m-5 -22h6m-6 -18h6m-6 13h6m-5 15h6m-5 -17h6m-6 12h6m-5 2h6m-6 -18h6m-6 16h6m-6 10h6m-5 -6h6m-6 -8h6m-5 4h6m-3 -10h6m-5 16h6m-6 -25h6m-4 23h6m-6 -22h6m-5 8h6m-6 18h6m-6 -9h6m-6 -2h6m-5 -7h6m-6 12h6m-6 -7h6m-5 -8h6m-6 14h6m-5 -30h6m-5 25h6m-6 -4h6m-6 -4h6m-6 -5h6m-5 -6h6m-6 -6h6m-5 18h6m-6 -1h6m-5 -31h6m-6 36h6m-6 -6h6m-5 -3h6m-6 -18h6m-5 21h6m-5 -6h6m-5 10h6m-6 -5h6m-6 -3h6m-6 5h6m-6 9h6m-6 -7h6m-5 -2h6m-6 -15h6m-5 7h6m-6 -8h6m-6 2h6m-6 4h6m-6 -9h6m-6 13h6m-5 4h6m-5 5h6m-6 -1h6m-5 -9h6m-6 -12h6m-6 16h6m-6 -12h6m-5 15h6m-6 -7h6m-6 -2h6m-6 -6h6m-5 1h6m-5 9h6m-6 -9h6m-6 -32h6m-5 38h6m-6 -28h6m-5 0h6m-6 25h6m-5 -9h6m-6 10h6m-6 -18h6m-5 20h6m-6 -7h6m-5 7h6m-5 -13h6m-6 -6h6m-6 -10h6m-5 13h6m-5 0h6m-4 2h6m-5 0h6m-5 3h6m-5 -29h6m-6 33h6m-6 -8h6m-6 5h6m-6 -3h6m-5 -8h6m-5 8h6m-6 -7h6m-6 -19h6m-6 9h6m-6 0h6m-4 16h6m-5 -12h6m-6 -3h6m-5 9h6m-6 -2h6m-5 -10h6m-4 -2h6m-5 15h6m-6 -11h6m-6 -3h6m-6 8h6m-5 0h6m-6 4h6m-5 -38h6m-6 13h6m-5 -2h6m-6 27h6m-6 -18h6m-5 -9h6m-6 10h6m-5 5h6m-5 3h6m-6 -9h6m-6 11h6m-5 -22h6m-5 21h6m-6 -25h6m-6 20h6m-6 -29h6m-6 36h6m-6 -18h6m-5 16h6m-5 -23h6m-6 16h6m-5 -16h6m-6 5h6m-6 23h6m-5 -7h6m-5 -22h6m-6 2h6m-6 10h6m-5 -19h6m-6 -4h6m-6 12h6m-6 18h6m-5 -30h6m-6 20h6m-5 3h6m-6 -1h6m-6 1h6m-6 -2h6m-5 0h6m-6 -15h6m-5 15h6m-6 -33h6m-6 31h6m-6 -36h6m-5 35h6m-4 2h6m-6 3h6m-5 -15h6m-6 10h6m-6 3h6m-6 -2h6m-5 -4h6m-6 -19h6m-6 5h6m-4 12h6m-6 -10h6m-6 12h6m-4 -5h6m-6 -2h6m-6 -14h6m-5 -3h6m-6 8h6m-5 14h6m-5 -2h6m-6 -11h6m-6 4h6m-6 -14h6m-5 20h6m-6 -21h6m-5 24h6m-6 -5h6m-5 -1h6m-5 0h6m-6 1h6m-6 1h6m-6 -4h6m-5 -9h6m-6 6h6m-6 7h6m-5 -37h6m-5 24h6m-6 3h6m-5 -26h6m-5 25h6m-6 -2h6m-6 -4h6m-5 -1h6m-6 7h6m-5 -17h6m-6 16h6m-5 -3h6m-6 -2h6m-5 -10h6m-6 -7h6m-5 18h6m-4 -7h6m-5 13h6m-6 -18h6m-5 9h6m-6 -26h6m-6 30h6m-5 -16h6m-6 7h6m-5 -17h6m-5 9h6m-5 7h6m-6 -16h6m-6 1h6m-5 -3h6m-6 5h6m-5 22h6m-5 -14h6m-5 -4h6m-6 12h6m-6 0h6m-6 -5h6m-5 -1h6m-6 3h6m-5 0h6m-5 -19h6m-3 1h6m-6 -11h6m-6 33h6m-5 -7h6m-6 -14h6m-5 8h6m-6 -10h6m-5 -5h6m-6 2h6m-5 5h6m-5 9h6m-6 -8h6m-6 1h6m-6 -19h6m-5 25h6m-6 -22h6m-6 -10h6m-5 29h6m-6 -3h6m-4 -27h6m-5 23h6m-6 -14h6m-6 18h6m-5 -10h6m-6 -2h6m-5 9h6m-6 -4h6m-5 -2h6m-6 -5h6m-5 1h6m-6 7h6m-6 -23h6m-5 28h6m-6 -16h6m-5 4h6m-5 -10h6m-5 13h6m-5 4h6m-4 -34h6m-6 28h6m-6 -2h6m-6 2h6m-4 6h6m-6 -28h6m-5 16h6m-6 5h6m-5 -11h6m-6 7h6m-5 -2h6m-6 -16h6m-4 3h6m-6 15h6m-5 -4h6m-6 -26h6m-5 37h6m-5 -29h6m-6 7h6m-5 1h6m-6 -10h6m-5 22h6m-6 -25h6m-5 9h6m-6 -3h6m-5 8h6m-6 -1h6m-4 -10h6m-6 19h6m-6 -16h6m-5 8h6m-6 4h6m-5 3h6m-5 -9h6m-6 2h6m-6 -3h6m-5 -5h6m-5 -20h6m-5 26h6m-6 -7h6m-6 -3h6m-5 -5h6m-6 0h6m-5 8h6m-6 2h6m-6 7h6m-5 -4h6m-6 -18h6m-5 14h6m-5 -7h6m-6 -3h6m-6 -2h6m-5 13h6m-6 -20h6m-6 18h6m-5 -7h6m-6 1h6m-6 -7h6m-6 19h6m-5 -26h6m-6 20h6m-6 -14h6m-6 19h6m-6 -29h6m-6 13h6m-4 4h6m-5 -3h6m-6 6h6m-6 -19h6m-5 12h6m-6 -15h6m-5 24h6m-5 -4h6m-6 -5h6m-6 -10h6m-6 15h6m-4 -9h6m-6 2h6m-6 -11h6m-6 1h6m-6 -3h6m-5 18h6m-6 -19h6m-5 5h6m-5 5h6m-4 -4h6m-6 -2h6m-5 -16h6m-6 21h6m-5 -3h6m-5 -14h6m-6 10h6m-5 11h6m-5 -7h6m-6 -15h6m-6 6h6m-5 -3h6m-6 -8h6m-4 1h6m-6 3h6m-4 12h6m-5 -5h6m-6 -10h6m-5 7h6m-6 -15h6m-6 13h6m-5 6h6m-6 -18h6m-5 11h6m-6 -3h6m-5 7h6m-6 -7h6m-6 10h6m-6 -8h6m-5 10h6m-6 1h6m-6 -4h6m-6 -9h6m-6 11h6m-5 -10h6m-4 -3h6m-5 -11h6m-6 22h6m-5 -10h6m-6 -17h6m-5 15h6m-5 -5h6m-6 -15h6m-5 18h6m-5 3h6m-6 -6h6m-6 -21h6m-5 8h6m-5 20h6m-6 1h6m-6 1h6m-5 -4h6m-6 4h6m-6 -30h6m-6 29h6m-5 -8h6m-6 -15h6m-5 15h6m-6 7h6m-6 -12h6m-4 2h6m-6 -13h6m-6 15h6m-6 -15h6m-5 25h6m-6 -19h6m-5 -22h6m-6 13h6m-6 13h6m-6 1h6m-6 1h6m-5 4h6m-6 -7h6m-6 8h6m-6 -19h6m-6 13h6m-5 -21h6m-6 7h6m-4 12h6m-5 5h6m-5 -11h6m-6 -3h6m-6 14h6m-5 -9h6m-5 2h6m-6 4h6m-6 -15h6m-5 18h6m-6 -11h6m-6 -9h6m-5 5h6m-6 12h6m-6 -4h6m-6 -8h6m-6 2h6m-6 2h6m-6 6h6m-5 -2h6m-5 -7h6m-6 3h6m-6 -1h6m-5 4h6m-6 -10h6m-6 5h6m-4 -2h6m-6 4h6m-6 -5h6m-6 -4h6m-4 -18h6m-6 17h6m-5 3h6m-6 1h6m-6 -17h6m-6 8h6m-4 15h6m-5 -17h6m-6 2h6m-6 -18h6m-6 25h6m-4 0h6m-6 9h6m-6 -16h6m-5 5h6m-5 -1h6m-6 -3h6m-6 3h6m-5 -19h6m-6 12h6m-5 -5h6m-6 -12h6m-4 21h6m-6 -20h6m-5 8h6m-6 -1h6m-5 22h6m-6 -20h6m-4 -4h6m-6 6h6m-5 -1h6m-6 8h6m-5 -7h6m-5 -3h6m-6 -5h6m-5 11h6m-6 -22h6m-6 20h6m-6 -15h6m-5 1h6m-6 4h6m-6 5h6m-5 -10h6m-6 4h6m-6 4h6m-6 0h6m-5 2h6m-6 -20h6m-5 25h6m-6 -16h6m-5 6h6m-5 -13h6m-6 21h6m-5 -5h6m-6 6h6m-6 -23h6m-6 9h6m-5 -19h6m-5 28h6m-6 6h6m-6 -3h6m-3 -22h6m-6 -9h6m-6 12h6m-6 -5h6m-5 14h6m-6 5h6m-6 -9h6m-6 6h6m-5 2h6m-5 -26h6m-6 6h6m-5 16h6m-6 -2h6m-5 -2h6m-6 -5h6m-5 12h6m-6 -4h6m-6 -20h6m-5 15h6m-6 -13h6m-4 17h6m-6 -5h6m-6 -9h6m-6 8h6m-6 -24h6m-5 17h6m-6 5h6m-5 6h6m-5 -9h6m-6 4h6m-5 5h6m-6 -13h6m-5 3h6m-6 11h6m-6 -6h6m-5 -2h6m-5 -17h6m-6 6h6m-6 -2h6m-5 12h6m-6 -7h6m-5 0h6m-6 6h6m-6 2h6m-5 -3h6m-5 0h6m-6 1h6m-6 -9h6m-5 3h6m-6 -9h6m-5 16h6m-6 -14h6m-5 15h6m-6 -15h6m-6 -8h6m-4 2h6m-6 8h6m-3 7h6m-5 -11h6m-6 0h6m-5 3h6m-6 -13h6m-5 4h6m-6 -4h6m-6 -8h6m-5 9h6m-5 8h6m-6 4h6m-6 -23h6m-5 12h6m-6 9h6m-6 -9h6m-5 12h6m-6 -5h6m-6 4h6m-6 -9h6m-5 1h6m-6 -11h6m-5 10h6m-6 0h6m-5 9h6m-6 -6h6m-5 4h6m-6 -21h6m-6 9h6m-5 4h6m-6 -2h6m-6 3h6m-5 -4h6m-5 -15h6m-6 24h6m-5 -30h6m-6 21h6m-6 -2h6m-6 4h6m-5 1h6m-6 -3h6m-6 -13h6m-5 4h6m-5 8h6m-6 3h6m-6 -14h6m-5 4h6m-6 2h6m-5 4h6m-6 -9h6m-6 -1h6m-6 2h6m-5 7h6m-6 4h6m-6 -5h6m-5 -9h6m-5 -5h6m-6 1h6m-6 -13h6m-5 18h6m-6 -4h6m-5 2h6m-6 5h6m-6 1h6m-6 0h6m-4 -10h6m-5 -11h6m-6 16h6m-6 -11h6m-5 10h6m-5 8h6m-6 -1h6m-3 -16h6m-5 -8h6m-6 3h6m-6 6h6m-5 0h6m-6 -10h6m-6 8h6m-5 -9h6m-6 11h6m-6 4h6m-6 -7h6m-5 2h6m-5 2h6m-6 2h6m-5 -7h6m-6 0h6m-5 2h6m-6 -8h6m-5 6h6m-6 -14h6m-5 16h6m-6 -8h6m-6 -2h6m-6 7h6m-6 -14h6m-6 9h6m-5 -7h6m-6 14h6m-6 -10h6m-5 -7h6m-6 3h6m-5 11h6m-5 5h6m-5 -6h6m-5 -15h6m-6 17h6m-5 1h6m-6 -18h6m-6 8h6m-6 10h6m-5 -9h6m-6 -6h6m-4 4h6m-6 7h6m-5 -4h6m-6 -11h6m-5 8h6m-6 3h6m-6 3h6m-5 -14h6m-5 11h6m-5 -13h6m-5 12h6m-6 -7h6m-5 -5h6m-6 0h6m-5 -11h6m-5 21h6m-6 -8h6m-4 10h6m-6 -12h6m-6 -2h6m-5 9h6m-6 1h6m-6 0h6m-6 -13h6m-5 -6h6m-6 8h6m-5 5h6m-5 -23h6m-6 7h6m-6 13h6m-5 0h6m-6 -5h6m-6 0h6m-5 4h6m-6 -11h6m-6 -10h6m-6 17h6m-5 10h6m-6 -2h6m-5 -10h6m-6 3h6m-4 -1h6m-5 3h6m-6 -3h6m-6 -7h6m-6 5h6m-6 -1h6m-5 2h6m-5 10h6m-5 -23h6m-5 10h6m-6 -7h6m-5 -3h6m-6 5h6m-6 -8h6m-6 3h6m-5 8h6m-6 0h6m-5 -2h6m-6 1h6m-6 -3h6m-5 -2h6m-6 6h6m-4 -2h6m-6 -13h6m-5 -4h6m-6 16h6m-4 -4h6m-5 5h6m-5 -9h6m-6 -7h6m-6 6h6m-5 0h6m-6 -2h6m-6 -6h6m-5 2h6m-6 -5h6m-4 15h6m-5 -6h6m-6 5h6m-6 -1h6m-5 -7h6m-6 2h6m-5 -8h6m-5 14h6m-5 -12h6m-6 2h6m-6 3h6m-5 0h6m-6 4h6m-6 -5h6m-5 -1h6m-6 -5h6m-6 -3h6m-6 -14h6m-6 6h6m-6 17h6m-6 -15h6m-5 13h6m-6 -5h6m-6 9h6m-5 1h6m-6 -1h6m-5 1h6m-6 -20h6m-6 4h6m-6 -10h6m-5 13h6m-6 -6h6m-6 6h6m-6 10h6m-5 -8h6m-5 -12h6m-6 26h6m-6 -26h6m-6 16h6m-6 -18h6m-6 30h6m-5 -12h6m-6 -2h6m-6 -22h6m-6 5h6m-6 16h6m-5 5h6m-6 -7h6m-6 -12h6m-6 17h6m-5 1h6m-6 -5h6m-6 -2h6m-6 -14h6m-6 14h6m-5 2h6m-5 -4h6m-6 14h6m-5 -43h6m-6 28h6m-5 1h6m-6 -3h6m-6 -5h6m-6 12h6m-5 2h6m-6 -8h6m-6 -2h6m-6 -11h6m-6 15h6m-5 -13h6m-6 -11h6m-5 13h6m-6 4h6m-6 5h6m-6 -3h6m-6 7h6m-6 -13h6m-6 5h6m-5 9h6m-6 -26h6m-6 18h6m-6 -4h6m-5 -4h6m-6 14h6m-5 -3h6m-6 -8h6m-4 12h6m-6 -2h6m-6 0h6m-5 -17h6m-6 5h6m-6 -12h6m-5 9h6m-6 5h6m-6 4h6m-5 -2h6m-5 6h6m-6 -19h6m-5 6h6m-5 12h6m-6 -5h6m-6 -22h6m-5 10h6m-5 14h6m-4 -29h6m-6 20h6m-4 -3h6m-6 -3h6m-5 -21h6m-5 18h6m-6 8h6m-6 -14h6m-5 3h6m-6 1h6m-6 5h6m-6 -3h6m-6 -4h6m-5 1h6m-4 7h6m-5 -4h6m-5 -13h6m-6 15h6m-6 -4h6m-6 -2h6m-5 -4h6m-6 -9h6m-6 13h6m-6 2h6m-5 -9h6m-6 -8h6m-5 19h6m-5 -2h6m-6 -7h6m-6 3h6m-6 -5h6m-6 -6h6m-5 7h6m-5 6h6m-5 -7h6m-6 12h6m-6 -20h6m-5 8h6m-6 6h6m-6 5h6m-6 -6h6m-5 -17h6m-5 5h6m-6 6h6m-6 -9h6m-5 17h6m-6 -5h6m-5 -16h6m-5 12h6m-6 -3h6m-5 7h6m-5 -5h6m-6 -6h6m-5 10h6m-6 12h6m-6 -24h6m-6 -1h6m-6 -18h6m-4 27h6m-5 -1h6m-5 7h6m-6 -12h6m-6 -2h6m-5 11h6m-6 -15h6m-6 15h6m-6 -9h6m-5 -5h6m-5 12h6m-4 -1h6m-6 -7h6m-5 -4h6m-5 11h6m-6 -23h6m-6 7h6m-4 13h6m-6 -15h6m-5 7h6m-6 -16h6m-6 10h6m-5 0h6m-6 -4h6m-6 4h6m-5 -1h6m-6 8h6m-5 6h6m-6 -9h6m-5 1h6m-6 -22h6m-6 6h6m-6 22h6m-6 -23h6m-5 -1h6m-6 15h6m-6 -32h6m-6 27h6m-5 -4h6m-5 10h6m-5 -15h6m-5 16h6m-6 -26h6m-6 -2h6m-5 31h6m-6 -7h6m-6 3h6m-5 -6h6m-6 -13h6m-5 4h6m-6 11h6m-6 -6h6m-5 -3h6m-6 7h6m-6 -14h6m-5 14h6m-6 -21h6m-6 20h6m-5 -7h6m-6 2h6m-5 9h6m-6 1h6m-5 -18h6m-4 12h6m-6 -12h6m-6 8h6m-5 -6h6m-6 -1h6m-5 6h6m-5 -7h6m-6 8h6m-6 -11h6m-4 5h6m-6 -3h6m-5 6h6m-6 -26h6m-5 19h6m-6 -13h6m-4 14h6m-6 -8h6m-4 19h6m-5 -9h6m-6 -14h6m-6 16h6m-6 -15h6m-5 6h6m-5 1h6m-6 -8h6m-5 15h6m-6 -21h6m-5 2h6m-5 4h6m-6 0h6m-6 6h6m-6 -6h6m-5 6h6m-6 5h6m-6 -21h6m-4 15h6m-6 -13h6m-5 17h6m-6 -10h6m-6 1h6m-5 3h6m-6 6h6m-6 -6h6m-5 3h6m-5 -26h6m-6 8h6m-6 -5h6m-6 7h6m-5 4h6m-6 11h6m-6 -19h6m-6 19h6m-6 -7h6m-5 -10h6m-6 10h6m-5 -26h6m-6 13h6m-6 18h6m-6 -6h6m-6 -1h6m-6 -1h6m-5 -1h6m-6 5h6m-6 -3h6m-6 8h6m-5 -6h6m-5 -9h6m-5 -9h6m-5 19h6m-5 -1h6m-6 -7h6m-6 -7h6m-5 14h6m-6 -13h6m-5 -14h6m-4 14h6m-6 -1h6m-6 -9h6m-5 1h6m-6 15h6m-6 4h6m-6 -8h6m-6 1h6m-5 -5h6m-6 -21h6m-6 28h6m-6 -6h6m-5 9h6m-6 -25h6m-6 15h6m-5 -7h6m-5 7h6m-6 13h6m-5 -13h6m-6 -2h6m-5 1h6m-6 -3h6m-6 -8h6m-6 10h6m-6 -23h6m-5 17h6m-6 10h6m-6 -4h6m-5 -6h6m-6 -6h6m-6 10h6m-5 3h6m-6 -3h6m-5 -6h6m-5 8h6m-6 3h6m-6 -13h6m-6 11h6m-5 -7h6m-6 -8h6m-3 17h6m-6 -6h6m-6 -20h6m-6 1h6m-5 15h6m-6 2h6m-6 -6h6m-6 -9h6m-5 8h6m-6 10h6m-6 -4h6m-5 -15h6m-5 11h6m-5 -6h6m-6 15h6m-5 -5h6m-6 -6h6m-5 9h6m-6 -6h6m-6 5h6m-5 -24h6m-6 13h6m-6 -1h6m-5 4h6m-6 1h6m-6 -1h6m-6 -1h6m-5 2h6m-5 -20h6m-6 12h6m-5 -14h6m-6 19h6m-6 -2h6m-5 -8h6m-5 4h6m-6 4h6m-5 -9h6m-6 7h6m-6 -2h6m-5 3h6m-5 -23h6m-5 16h6m-6 15h6m-6 -7h6m-5 -18h6m-5 -4h6m-6 12h6m-5 -22h6m-6 23h6m-5 3h6m-6 3h6m-6 -1h6m-5 -25h6m-6 23h6m-6 8h6m-5 -18h6m-6 -8h6m-6 19h6m-5 1h6m-6 -22h6m-6 -11h6m-5 24h6m-6 2h6m-6 -4h6m-5 8h6m-6 0h6m-6 2h6m-6 0h6m-6 -5h6m-5 -2h6m-6 5h6m-5 -13h6m-6 2h6m-6 0h6m-6 3h6m-6 -16h6m-5 6h6m-6 20h6m-6 -27h6m-6 25h6m-5 -10h6m-6 -4h6m-6 -5h6m-6 14h6m-5 -6h6m-6 25h6m-5 -36h6m-6 4h6m-5 7h6m-5 10h6m-6 -14h6m-6 8h6m-5 -15h6m-6 19h6m-4 -2h6m-5 -2h6m-6 -28h6m-6 28h6m-5 -6h6m-6 -17h6m-6 14h6m-6 -14h6m-6 9h6m-4 4h6m-6 -7h6m-6 6h6m-6 0h6m-6 -10h6m-4 -5h6m-6 13h6m-6 1h6m-6 12h6m-6 -17h6m-4 0h6m-6 -10h6m-6 28h6m-5 -4h6m-6 -12h6m-5 -20h6m-6 21h6m-5 -4h6m-6 -1h6m-5 6h6m-6 -4h6m-6 11h6m-6 -9h6m-5 -4h6m-6 10h6m-6 -5h6m-5 9h6m-6 -19h6m-5 2h6m-6 9h6m-5 -7h6m-5 8h6m-5 -20h6m-5 -3h6m-5 4h6m-6 -21h6m-5 28h6m-6 -4h6m-6 5h6m-3 -21h6m-4 -1h6m-6 23h6m-6 -6h6m-5 -9h6m-6 13h6m-6 3h6m-6 -25h6m-6 23h6m-6 4h6m-5 -11h6m-6 -24h6m-6 36h6m-6 -24h6m-5 8h6m-6 5h6m-6 3h6m-6 6h6m-5 -21h6m-4 9h6m-6 -14h6m-5 19h6m-5 -9h6m-6 1h6m-5 -9h6m-5 -3h6m-6 3h6m-6 21h6m-6 -11h6m-5 1h6m-6 -16h6m-5 24h6m-6 1h6m-5 0h6m-6 -8h6m-6 -13h6m-4 13h6m-5 -8h6m-6 -7h6m-6 4h6m-6 -2h6m-5 10h6m-5 -29h6m-6 16h6m-5 16h6m-6 5h6m-6 -14h6m-6 -7h6m-5 -18h6m-6 22h6m-6 -21h6m-6 23h6m-6 4h6m-6 -4h6m-6 1h6m-6 4h6m-5 -30h6m-6 34h6m-4 -15h6m-6 9h6m-5 -7h6m-6 9h6m-5 -23h6m-6 27h6m-5 -20h6m-6 4h6m-6 11h6m-5 -34h6m-6 24h6m-5 7h6m-5 -7h6m-6 5h6m-6 2h6m-5 -24h6m-6 -10h6m-5 25h6m-6 -6h6m-6 11h6m-4 -18h6m-5 -12h6m-6 22h6m-6 -8h6m-6 -8h6m-5 4h6m-6 -3h6m-6 24h6m-5 -14h6m-6 3h6m-6 -6h6m-5 5h6m-6 4h6m-5 -1h6m-5 0h6m-6 -8h6m-5 5h6m-6 3h6m-5 -12h6m-5 12h6m-6 -14h6m-5 16h6m-5 -11h6m-6 1h6m-5 11h6m-6 -11h6m-5 -20h6m-6 18h6m-6 -19h6m-6 28h6m-5 -12h6m-6 -4h6m-6 6h6m-6 6h6m-5 -8h6m-6 19h6m-5 1h6m-6 -22h6m-5 0h6m-6 6h6m-6 13h6m-6 -26h6m-6 10h6m-6 11h6m-6 -6h6m-5 -12h6m-6 10h6m-5 -2h6m-6 4h6m-5 2h6m-6 -2h6m-5 -24h6m-5 23h6m-6 0h6m-5 -20h6m-6 15h6m-4 2h6m-6 0h6m-6 -29h6m-6 23h6m-5 4h6m-6 -24h6m-6 -2h6m-5 18h6m-6 12h6m-6 -25h6m-6 -8h6m-5 12h6m-6 10h6m-5 4h6m-6 3h6m-5 1h6m-6 -2h6m-5 -24h6m-6 9h6m-4 16h6m-6 -4h6m-4 -27h6m-5 3h6m-6 14h6m-5 -11h6m-5 11h6m-6 -3h6m-6 3h6m-6 -1h6m-5 -22h6m-6 28h6m-6 -3h6m-5 -2h6m-5 12h6m-6 -12h6m-5 0h6m-6 4h6m-6 -20h6m-6 -16h6m-5 20h6m-6 -9h6m-5 11h6m-6 16h6m-6 3h6m-6 -12h6m-6 -14h6m-5 10h6m-6 -13h6m-6 21h6m-5 -21h6m-5 -6h6m-5 0h6m-6 7h6m-6 10h6m-4 2h6m-6 8h6m-5 -26h6m-6 16h6m-6 -13h6m-6 -8h6m-6 27h6m-6 -2h6m-5 -19h6m-6 0h6m-6 17h6m-6 -23h6m-5 18h6m-6 -5h6m-6 5h6m-5 8h6m-6 -10h6m-6 -23h6m-5 21h6m-5 -12h6m-6 7h6m-5 4h6m-6 5h6m-5 1h6m-6 -5h6m-5 -11h6m-6 25h6m-5 -14h6m-6 -10h6m-5 -5h6m-6 22h6m-6 -17h6m-5 9h6m-6 9h6m-5 -9h6m-6 -10h6m-5 9h6m-6 -3h6m-5 -1h6m-5 -8h6m-6 15h6m-6 -2h6m-6 -6h6m-4 -24h6m-6 25h6m-6 -10h6m-6 -1h6m-5 15h6m-5 -36h6m-5 9h6m-6 14h6m-6 20h6m-5 -36h6m-6 10h6m-5 11h6m-6 -14h6m-6 -9h6m-5 19h6m-5 -14h6m-6 21h6m-5 -4h6m-6 -34h6m-6 11h6m-5 19h6m-6 -4h6m-6 8h6m-5 3h6m-6 -6h6m-6 4h6m-6 -31h6m-5 41h6m-6 -15h6m-6 -15h6m-5 23h6m-5 -4h6m-6 -1h6m-6 12h6m-5 -34h6m-5 35h6m-5 -24h6m-6 12h6m-5 -8h6m-6 -7h6m-6 -17h6m-6 20h6m-6 -16h6m-4 -14h6m-5 12h6m-4 -6h6m-5 22h6m-5 6h6m-6 -4h6m-6 6h6m-6 -19h6m-5 6h6m-6 18h6m-6 -1h6m-6 -1h6m-5 -3h6m-5 -7h6m-6 4h6m-5 -10h6" stroke="#3050f5" stroke-width="6" stroke-opacity="0.42" fill="none"/>
<path transform="scale(.1)" d="M6012 1276h6m-5 -49h6m-6 24h6m-6 -50h6m-5 109h6m-6 -15h6m-6 -38h6m-6 38h6m-5 -48h6m-6 33h6m-6 11h6m-6 -3h6m-5 5h6m-5 -68h6m-6 64h6m-4 -2h6m-6 -14h6m-6 -47h6m-6 45h6m-6 -77h6m-6 54h6m-6 42h6m-6 -5h6m-5 -2h6m-6 -64h6m-6 70h6m-6 -70h6m-6 50h6m-5 -3h6m-5 -29h6m-6 -36h6m-6 59h6m-6 33h6m-6 -1h6m-6 0h6m-6 -16h6m-5 -86h6m-6 97h6m-6 3h6m-5 -36h6m-6 -24h6m-6 61h6m-5 -6h6m-6 -58h6m-6 48h6m-6 9h6m-5 -30h6m-6 24h6m-6 1h6m-6 3h6m-5 -2h6m-6 -58h6m-6 21h6m-6 45h6m-6 -6h6m-6 -2h6m-5 -5h6m-6 1h6m-6 0h6m-5 14h6m-6 -8h6m-6 -1h6m-6 -47h6m-6 19h6m-5 10h6m-6 12h6m-5 -2h6m-6 -9h6m-5 10h6m-5 -84h6m-5 71h6m-6 9h6m-5 -25h6m-6 25h6m-6 -22h6m-6 -65h6m-6 60h6m-6 -17h6m-6 21h6m-5 20h6m-6 -37h6m-5 39h6m-6 -3h6m-6 -45h6m-5 42h6m-5 -1h6m-6 -16h6m-5 -45h6m-6 57h6m-6 1h6m-6 6h6m-5 -3h6m-6 -8h6m-6 -66h6m-6 1h6m-6 93h6m-6 -98h6m-5 76h6m-5 -6h6m-6 12h6m-6 -10h6m-6 1h6m-6 -25h6m-6 28h6m-5 0h6m-5 -8h6m-6 -9h6m-5 6h6m-6 -64h6m-5 -9h6m-6 52h6m-6 25h6m-6 -1h6m-5 -7h6m-6 9h6m-6 13h6m-6 -11h6m-6 4h6m-6 3h6m-5 -10h6m-6 -3h6m-6 -29h6m-6 7h6m-6 25h6m-6 -76h6m-5 85h6m-6 -36h6m-6 -14h6m-5 53h6m-5 -19h6m-6 -88h6m-6 53h6m-5 52h6m-6 -23h6m-5 -2h6m-6 18h6m-5 -11h6m-6 -2h6m-6 -67h6m-6 28h6m-6 43h6m-5 -44h6m-6 38h6m-5 -3h6m-5 -50h6m-6 26h6m-5 27h6m-6 -6h6m-4 2h6m-6 -10h6m-6 -13h6m-6 24h6m-5 7h6m-6 0h6m-5 -4h6m-6 -47h6m-5 47h6m-6 -68h6m-5 65h6m-6 -71h6m-6 48h6m-6 9h6m-6 -25h6m-5 28h6m-6 -2h6m-6 -17h6m-6 24h6m-6 -4h6m-6 -5h6m-5 -35h6m-6 -3h6m-6 49h6m-5 -28h6m-6 -37h6m-6 -13h6m-6 47h6m-6 -13h6m-5 20h6m-6 22h6m-6 5h6m-6 -23h6m-5 21h6m-6 -9h6m-5 -67h6m-6 12h6m-6 62h6m-6 -8h6m-5 -50h6m-6 53h6m-6 -6h6m-6 -1h6m-6 -48h6m-6 -12h6m-5 17h6m-6 37h6m-6 12h6m-5 -7h6m-6 0h6m-6 -1h6m-6 6h6m-6 -29h6m-6 -18h6m-6 -14h6m-6 17h6m-5 38h6m-6 -12h6m-6 -53h6m-6 82h6m-6 -66h6m-6 -13h6m-5 22h6m-6 18h6m-6 0h6m-6 19h6m-5 5h6m-6 -69h6m-6 7h6m-5 55h6m-5 -25h6m-6 -17h6m-4 42h6m-6 2h6m-6 -3h6m-6 5h6m-5 -5h6m-6 -1h6m-6 0h6m-6 -6h6m-5 -11h6m-5 5h6m-6 11h6m-5 -15h6m-6 10h6m-6 -53h6m-5 61h6m-6 -4h6m-6 -3h6m-4 -1h6m-6 -68h6m-6 5h6m-6 65h6m-6 5h6m-6 2h6m-5 -25h6m-6 2h6m-6 16h6m-6 -11h6m-5 -10h6m-6 15h6m-6 -7h6m-6 11h6m-6 2h6m-3 -2h6m-6 1h6m-5 -56h6m-4 52h6m-6 -18h6m-5 11h6m-6 -46h6m-6 35h6m-5 17h6m-6 -5h6m-5 -37h6m-6 36h6m-6 -30h6m-6 22h6m-6 5h6m-5 0h6m-6 -55h6m-6 -1h6m-6 62h6m-6 -1h6m-6 -7h6m-3 -6h6m-6 -8h6m-6 -21h6m-6 -17h6m-5 43h6m-5 -18h6m-5 -31h6m-5 48h6m-6 -37h6m-6 31h6m-5 -34h6m-6 -23h6m-6 60h6m-6 -51h6m-6 60h6m-6 -26h6m-6 27h6m-5 -64h6m-6 37h6m-6 -1h6m-6 28h6m-6 -10h6m-5 6h6m-6 -73h6m-6 11h6m-5 62h6m-6 -24h6m-4 24h6m-6 -64h6m-6 55h6m-6 -39h6m-5 43h6m-6 5h6m-6 -10h6m-5 -49h6m-6 62h6m-6 -21h6m-5 6h6m-6 -15h6m-6 16h6m-6 8h6m-6 -9h6m-5 -1h6m-5 0h6m-5 2h6m-6 6h6m-6 -38h6m-6 -17h6m-6 11h6m-5 37h6m-6 -1h6m-6 -14h6m-6 17h6m-5 2h6m-6 -5h6m-6 -16h6m-6 12h6m-5 6h6m-6 -14h6m-6 -1h6m-5 15h6m-6 -3h6m-5 -5h6m-6 0h6m-5 8h6m-6 -60h6m-6 56h6m-6 -4h6m-6 -31h6m-5 31h6m-6 -30h6m-6 -3h6m-5 39h6m-6 -3h6m-6 -46h6m-6 27h6m-6 13h6m-5 -6h6m-5 -17h6m-5 -34h6m-5 44h6m-6 -6h6m-6 -7h6m-6 14h6m-6 12h6m-6 3h6m-6 -3h6m-6 -3h6m-5 -37h6m-6 18h6m-6 -19h6m-6 32h6m-6 -19h6m-6 -20h6m-6 52h6m-5 -63h6m-6 25h6m-6 30h6m-6 0h6m-5 5h6m-6 0h6m-5 -46h6m-6 35h6m-5 -40h6m-6 38h6m-5 1h6m-6 -4h6m-6 -5h6m-6 7h6m-5 -7h6m-6 -5h6m-6 -6h6m-5 -32h6m-6 17h6m-6 0h6m-5 15h6m-6 -30h6m-6 34h6m-5 -49h6m-6 32h6m-6 15h6m-5 14h6m-6 4h6m-6 -10h6m-5 -21h6m-6 28h6m-6 2h6m-6 -4h6m-6 4h6m-5 -27h6m-6 27h6m-6 -2h6m-6 -39h6m-6 31h6m-5 10h6m-6 -7h6m-6 2h6m-6 -2h6m-6 -27h6m-6 13h6m-5 10h6m-6 -6h6m-6 21h6m-5 -48h6m-6 33h6m-6 -33h6m-5 11h6m-6 16h6m-6 5h6m-6 8h6m-6 -12h6m-5 4h6m-6 -46h6m-6 45h6m-5 -19h6m-6 -17h6m-5 -5h6m-6 50h6m-5 -16h6m-6 -55h6m-6 63h6m-6 1h6m-5 -9h6m-6 1h6m-6 3h6m-4 -20h6m-5 23h6m-5 -41h6m-5 32h6m-6 -53h6m-6 59h6m-6 -3h6m-6 2h6m-6 -43h6m-5 41h6m-6 -46h6m-6 29h6m-6 22h6m-6 -37h6m-5 -26h6m-6 47h6m-5 -2h6m-6 5h6m-6 -35h6m-5 -15h6m-5 9h6m-6 38h6m-6 -25h6m-5 25h6m-5 -1h6m-6 2h6m-5 -3h6m-6 -45h6m-6 50h6m-6 -10h6m-6 1h6m-5 -16h6m-6 -35h6m-6 13h6m-6 37h6m-5 -20h6m-6 -4h6m-6 -6h6m-6 -7h6m-4 29h6m-6 15h6m-6 -2h6m-6 2h6m-6 2h6m-5 -16h6m-6 3h6m-6 -3h6m-5 -13h6m-6 24h6m-6 1h6m-5 -5h6m-5 -2h6m-5 -15h6m-6 -6h6m-6 -39h6m-5 42h6m-6 8h6m-5 8h6m-6 -31h6m-6 -8h6m-6 9h6m-5 15h6m-6 12h6m-6 0h6m-6 0h6m-5 -7h6m-5 -30h6m-6 -6h6m-6 14h6m-5 29h6m-6 -3h6m-5 6h6m-6 -40h6m-6 19h6m-5 14h6m-6 -40h6m-5 11h6m-6 24h6m-6 -29h6m-5 30h6m-6 -7h6m-6 11h6m-5 -6h6m-6 -25h6m-6 -6h6m-5 34h6m-5 -11h6m-6 -13h6m-6 22h6m-6 -1h6m-6 -32h6m-5 34h6m-6 -5h6m-6 -18h6m-6 -11h6m-5 22h6m-6 10h6m-6 -43h6m-6 5h6m-6 12h6m-6 33h6m-6 -21h6m-6 8h6m-5 -35h6m-6 39h6m-5 -40h6m-6 40h6m-5 -20h6m-6 6h6m-5 15h6m-6 -5h6m-5 4h6m-6 -36h6m-6 17h6m-5 13h6m-5 2h6m-5 -6h6m-5 -4h6m-6 -1h6m-6 5h6m-6 2h6m-4 -45h6m-6 3h6m-5 3h6m-6 15h6m-5 -23h6m-5 45h6m-6 -31h6m-6 -15h6m-6 2h6m-6 -6h6m-6 40h6m-5 0h6m-6 2h6m-6 -6h6m-6 3h6m-6 15h6m-6 -6h6m-5 -17h6m-6 16h6m-6 2h6m-6 -40h6m-6 4h6m-6 34h6m-5 -11h6m-6 -10h6m-6 -17h6m-6 17h6m-6 9h6m-6 9h6m-5 -41h6m-6 5h6m-6 48h6m-5 -8h6m-6 -10h6m-6 -3h6m-5 14h6m-6 -5h6m-6 -1h6m-6 -35h6m-6 27h6m-6 -17h6m-6 26h6m-5 -9h6m-6 -1h6m-6 -27h6m-6 23h6m-6 -28h6m-5 7h6m-6 32h6m-6 -12h6m-6 -24h6m-5 -13h6m-6 24h6m-6 19h6m-6 -5h6m-6 7h6m-5 -35h6m-6 44h6m-5 -25h6m-6 4h6m-6 19h6m-6 -10h6m-5 -1h6m-6 4h6m-6 4h6m-5 -1h6m-6 -12h6m-6 -23h6m-6 24h6m-5 -29h6m-6 14h6m-5 19h6m-6 -2h6m-6 -8h6m-6 -28h6m-6 20h6m-4 19h6m-6 -8h6m-5 -5h6m-6 -33h6m-6 43h6m-6 -13h6m-6 13h6m-5 4h6m-4 -5h6m-6 -4h6m-6 -21h6m-5 19h6m-6 -36h6m-5 38h6m-6 -24h6m-6 13h6m-6 0h6m-6 -2h6m-5 15h6m-6 -14h6m-6 5h6m-5 2h6m-6 -14h6m-6 -24h6m-6 3h6m-6 28h6m-5 -18h6m-6 16h6m-6 5h6m-6 -33h6m-6 33h6m-5 -15h6m-5 10h6m-6 -18h6m-6 25h6m-5 -24h6m-6 27h6m-6 -5h6m-6 -10h6m-5 11h6m-6 -23h6m-6 -1h6m-5 13h6m-6 3h6m-6 7h6m-5 -34h6m-6 28h6m-5 -11h6m-6 11h6m-6 -2h6m-5 -36h6m-6 25h6m-6 9h6m-6 -11h6m-6 -3h6m-6 9h6m-5 -3h6m-6 16h6m-6 -36h6m-5 11h6m-6 -17h6m-6 9h6m-5 -11h6m-6 39h6m-6 -8h6m-6 -19h6m-5 16h6m-6 0h6m-5 -29h6m-6 34h6m-6 0h6m-6 5h6m-5 3h6m-5 -1h6m-6 -19h6m-6 1h6m-6 -1h6m-6 8h6m-5 5h6m-6 2h6m-5 -3h6m-6 -2h6m-6 3h6m-6 -3h6m-5 -5h6m-6 -35h6m-5 26h6m-6 19h6m-5 -6h6m-6 3h6m-6 -39h6m-5 33h6m-6 -10h6m-6 20h6m-5 -4h6m-5 -7h6m-6 -10h6m-6 -24h6m-6 29h6m-6 2h6m-5 -21h6m-6 0h6m-6 -15h6m-6 33h6m-5 -6h6m-5 14h6m-6 -9h6m-6 -6h6m-6 -18h6m-6 18h6m-6 7h6m-5 0h6m-5 -22h6m-6 27h6m-6 -31h6m-6 22h6m-5 -3h6m-5 2h6m-6 -26h6m-5 -8h6m-6 31h6m-6 0h6m-6 -20h6m-6 -14h6m-6 23h6m-5 -1h6m-5 15h6m-6 -4h6m-6 4h6m-5 -16h6m-6 26h6m-5 -50h6m-6 42h6m-6 -27h6m-6 15h6m-4 -5h6m-5 -24h6m-6 4h6m-5 -2h6m-5 28h6m-5 -4h6m-6 0h6m-5 -16h6m-6 -3h6m-6 24h6m-6 -22h6m-6 15h6m-6 -31h6m-5 9h6m-6 15h6m-5 -21h6m-6 24h6m-5 10h6m-6 -16h6m-6 -9h6m-5 -4h6m-6 8h6m-6 6h6m-6 -14h6m-5 -9h6m-6 33h6m-6 2h6m-6 1h6m-6 1h6m-6 -4h6m-5 -20h6m-6 20h6m-6 4h6m-6 -14h6m-6 4h6m-5 4h6m-5 1h6m-6 -10h6m-6 10h6m-6 -18h6m-5 6h6m-6 13h6m-5 -33h6m-6 33h6m-6 -14h6m-6 0h6m-6 9h6m-5 -7h6m-6 6h6m-6 9h6m-6 -12h6m-5 -11h6m-6 -5h6m-5 15h6m-6 1h6m-5 -15h6m-6 25h6m-6 -4h6m-5 -7h6m-6 -31h6m-6 30h6m-5 -1h6m-6 -3h6m-6 7h6m-5 -7h6m-6 -27h6m-6 35h6m-6 -2h6m-5 -5h6m-6 -20h6m-5 8h6m-6 -8h6m-5 17h6m-6 4h6m-6 -23h6m-5 -3h6m-6 10h6m-6 8h6m-6 9h6m-6 -15h6m-5 8h6m-6 -1h6m-5 -6h6m-6 3h6m-6 11h6m-5 -18h6m-6 2h6m-6 -1h6m-5 -5h6m-6 -25h6m-6 32h6m-6 -16h6m-6 22h6m-6 -22h6m-5 8h6m-6 6h6m-6 -13h6m-5 5h6m-5 -16h6m-6 36h6m-6 -4h6m-5 -12h6m-5 -1h6m-6 0h6m-5 -12h6m-6 21h6m-6 5h6m-5 -9h6m-6 -2h6m-6 -3h6m-5 5h6m-6 -14h6m-6 17h6m-6 -14h6m-5 17h6m-6 -20h6m-6 -1h6m-4 7h6m-6 5h6m-6 -5h6m-6 11h6m-5 -38h6m-6 13h6m-6 23h6m-5 4h6m-5 -13h6m-6 3h6m-6 -22h6m-5 11h6m-6 4h6m-5 -12h6m-6 29h6m-6 -7h6m-6 -4h6m-6 -21h6m-6 22h6m-6 -1h6m-6 1h6m-5 5h6m-6 -8h6m-6 -24h6m-5 20h6m-6 9h6m-5 -32h6m-6 29h6m-6 -4h6m-5 0h6m-6 0h6m-6 -6h6m-6 -9h6m-5 14h6m-6 4h6m-6 -33h6m-5 6h6m-6 19h6m-6 -9h6m-6 17h6m-6 -1h6m-5 -14h6m-5 15h6m-5 -14h6m-6 13h6m-6 1h6m-6 -3h6m-5 -15h6m-6 -3h6m-6 15h6m-5 -24h6m-5 10h6m-6 12h6m-6 -23h6m-5 25h6m-6 -9h6m-6 -14h6m-6 -4h6m-6 26h6m-5 -32h6m-5 16h6m-6 9h6m-5 -4h6m-5 -37h6m-6 3h6m-6 49h6m-5 -12h6m-6 -15h6m-6 -2h6m-6 -12h6m-5 29h6m-6 -3h6m-6 -9h6m-6 15h6m-5 -13h6m-6 -6h6m-6 13h6m-5 3h6m-6 1h6m-6 3h6m-6 -6h6m-5 -3h6m-6 -30h6m-5 11h6m-6 18h6m-5 -19h6m-6 23h6m-4 -31h6m-6 8h6m-6 12h6m-6 2h6m-5 0h6m-6 -15h6m-6 9h6m-6 -2h6m-6 7h6m-5 7h6m-6 -5h6m-6 -8h6m-6 14h6m-5 -28h6m-6 -2h6m-5 18h6m-6 -15h6m-6 4h6m-6 12h6m-6 -24h6m-6 18h6m-5 14h6m-6 2h6m-5 -22h6m-6 10h6m-5 -16h6m-6 19h6m-6 -2h6m-5 2h6m-6 -23h6m-6 16h6m-6 17h6m-5 -40h6m-6 21h6m-6 -25h6m-6 26h6m-6 12h6m-4 -10h6m-6 1h6m-6 -26h6m-6 25h6m-6 -1h6m-6 -7h6m-6 -11h6m-4 -17h6m-6 10h6m-6 2h6m-6 20h6m-6 -9h6m-5 -15h6m-6 3h6m-5 -6h6m-6 4h6m-5 23h6m-6 1h6m-5 1h6m-6 -12h6m-6 9h6m-5 -15h6m-6 1h6m-6 16h6m-6 -26h6m-5 13h6m-5 -13h6m-5 6h6m-6 20h6m-5 -2h6m-6 -34h6m-6 23h6m-6 11h6m-5 -13h6m-6 12h6m-5 -14h6m-6 14h6m-5 1h6m-6 -4h6m-6 -7h6m-6 -10h6m-6 -4h6m-5 19h6m-6 -2h6m-6 -3h6m-6 -24h6m-5 -8h6m-5 26h6m-6 -23h6m-5 33h6m-6 -15h6m-6 -7h6m-6 25h6m-6 -12h6m-5 0h6m-5 8h6m-6 -11h6m-5 6h6m-6 3h6m-6 -2h6m-6 9h6m-6 -12h6m-5 1h6m-6 7h6m-6 -24h6m-6 -17h6m-6 34h6m-5 -9h6m-6 -1h6m-5 -10h6m-6 5h6m-6 15h6m-6 -9h6m-5 -1h6m-6 9h6m-5 -19h6m-6 21h6m-6 -29h6m-5 4h6m-5 -8h6m-6 33h6m-6 -5h6m-6 3h6m-5 -1h6m-6 -24h6m-5 6h6m-6 -3h6m-6 19h6m-4 0h6m-6 -9h6m-6 -22h6m-6 12h6m-5 17h6m-6 3h6m-6 -10h6m-6 4h6m-6 3h6m-6 -13h6m-5 17h6m-6 -35h6m-6 31h6m-6 -18h6m-6 -6h6m-6 6h6m-6 10h6m-5 -22h6m-5 10h6m-6 16h6m-6 -16h6m-6 17h6m-5 -14h6m-6 13h6m-6 0h6m-5 3h6m-6 6h6m-6 -15h6m-6 6h6m-6 1h6m-5 -14h6m-5 8h6m-6 -17h6m-6 11h6m-5 3h6m-5 -2h6m-5 -14h6m-6 -9h6m-5 19h6m-4 -1h6m-6 4h6m-6 -7h6m-6 -6h6m-5 13h6m-6 0h6m-5 5h6m-5 2h6m-6 -12h6m-6 -15h6m-6 18h6m-5 -2h6m-5 -23h6m-5 23h6m-6 -7h6m-6 5h6m-5 7h6m-6 -14h6m-5 -9h6m-5 20h6m-6 -17h6m-6 12h6m-5 1h6m-6 -3h6m-6 -7h6m-6 9h6m-6 -9h6m-5 8h6m-6 -8h6m-6 -13h6m-6 23h6m-6 -14h6m-6 11h6m-5 -8h6m-6 0h6m-6 -23h6m-6 28h6m-6 4h6m-6 4h6m-5 -8h6m-6 1h6m-6 3h6m-5 -29h6m-6 15h6m-5 11h6m-6 0h6m-5 -8h6m-6 -11h6m-5 -4h6m-6 -14h6m-6 35h6m-6 -4h6m-6 6h6m-6 -12h6m-5 9h6m-6 0h6m-5 -14h6m-6 -7h6m-5 25h6m-5 -34h6m-6 20h6m-6 0h6m-5 10h6m-6 -23h6m-6 15h6m-6 7h6m-5 -4h6m-6 -2h6m-6 -16h6m-6 -12h6m-5 34h6m-6 -14h6m-4 -19h6m-6 28h6m-4 -33h6m-5 26h6m-6 4h6m-6 -19h6m-5 11h6m-6 -24h6m-6 21h6m-5 -11h6m-6 -16h6m-6 25h6m-6 -20h6m-5 11h6m-6 20h6m-6 -9h6m-6 -2h6m-5 4h6m-5 -3h6m-6 2h6m-6 8h6m-6 -8h6m-5 5h6m-6 -18h6m-6 -15h6m-6 22h6m-5 5h6m-6 1h6m-6 -11h6m-5 15h6m-6 -6h6m-5 -16h6m-6 20h6m-5 -8h6m-6 -4h6m-6 10h6m-5 -3h6m-6 -1h6m-4 9h6m-6 -18h6m-6 9h6m-6 -22h6m-6 24h6m-6 -9h6m-6 1h6m-6 5h6m-5 10h6m-6 -12h6m-6 7h6m-6 3h6m-5 -39h6m-6 40h6m-6 -11h6m-6 4h6m-5 -6h6m-6 -8h6m-6 18h6m-6 -15h6m-6 -17h6m-5 3h6m-6 17h6m-6 -18h6m-6 -2h6m-5 24h6m-6 -8h6m-6 3h6m-6 -5h6m-6 3h6m-6 -24h6m-5 9h6m-6 13h6m-5 4h6m-6 -18h6m-6 18h6m-6 9h6m-5 -14h6m-5 5h6m-6 5h6m-6 -13h6m-5 9h6m-6 -21h6m-5 27h6m-6 -11h6m-6 -2h6m-6 8h6m-6 -24h6m-5 31h6m-5 -30h6m-6 8h6m-6 3h6m-5 -16h6m-6 25h6m-5 -3h6m-5 0h6m-6 -7h6m-5 -25h6m-6 25h6m-6 7h6m-6 -2h6m-5 -13h6m-6 13h6m-6 2h6m-6 -8h6m-5 -10h6m-6 11h6m-5 -14h6m-5 -17h6m-6 39h6m-5 -28h6m-6 22h6m-5 -29h6m-6 29h6m-5 2h6m-6 1h6m-5 -12h6m-6 0h6m-6 -21h6m-6 21h6m-6 -6h6m-6 -7h6m-6 -13h6m-5 35h6m-5 -8h6m-6 0h6m-6 5h6m-6 -18h6m-6 14h6m-5 -30h6m-5 17h6m-6 -7h6m-6 -2h6m-6 -1h6m-5 18h6m-6 -6h6m-6 9h6m-6 -6h6m-6 -5h6m-5 6h6m-6 3h6m-5 2h6m-6 -25h6m-6 24h6m-5 3h6m-6 -30h6m-5 3h6m-5 18h6m-6 -19h6m-5 18h6m-6 6h6m-6 5h6m-5 -21h6m-6 4h6m-6 4h6m-5 -1h6m-6 5h6m-5 -32h6m-6 35h6m-6 -34h6m-5 20h6m-6 3h6m-6 25h6m-6 -40h6m-6 27h6m-6 -36h6m-6 27h6m-5 0h6m-6 3h6m-6 -23h6m-6 18h6m-5 4h6m-6 -6h6m-5 -3h6m-5 13h6m-6 -14h6m-5 -2h6m-6 13h6m-6 3h6m-6 -12h6m-6 1h6m-5 -3h6m-6 -11h6m-6 22h6m-6 -28h6m-5 27h6m-6 -2h6m-6 0h6m-6 -8h6m-6 12h6m-5 -11h6m-6 -6h6m-6 13h6m-6 -6h6m-5 1h6m-6 0h6m-6 4h6m-6 -10h6m-3 4h6m-6 -35h6m-6 34h6m-6 -2h6m-5 -23h6m-6 12h6m-6 -20h6m-5 22h6m-6 -1h6m-6 3h6m-5 17h6m-6 -12h6m-6 0h6m-5 -12h6m-6 13h6m-5 2h6m-6 -7h6m-6 -2h6m-6 1h6m-6 -1h6m-6 4h6m-6 12h6m-5 -10h6m-6 -11h6m-6 11h6m-6 0h6m-6 3h6m-6 6h6m-5 -13h6m-6 -6h6m-6 -27h6m-6 20h6m-5 12h6m-6 0h6m-6 -6h6m-5 4h6m-6 6h6m-6 1h6m-6 -11h6m-5 -6h6m-6 19h6m-6 -11h6m-5 4h6m-6 2h6m-6 -4h6m-5 11h6m-6 -2h6m-5 -24h6m-6 24h6m-6 -5h6m-6 2h6m-6 -40h6m-4 15h6m-5 15h6m-6 -11h6m-6 3h6m-5 -7h6m-6 7h6m-6 -32h6m-5 21h6m-6 10h6m-6 9h6m-6 12h6m-6 -15h6m-5 3h6m-6 -16h6m-5 19h6m-6 -18h6m-5 14h6m-5 8h6m-6 -36h6m-5 29h6m-6 9h6m-6 -39h6m-6 21h6m-5 -24h6m-6 21h6m-6 4h6m-5 14h6m-6 -13h6m-6 9h6m-5 -8h6m-6 -3h6m-6 -18h6m-5 -15h6m-5 23h6m-6 -29h6m-6 42h6m-5 5h6m-6 -8h6m-5 3h6m-6 -2h6m-6 -7h6m-5 21h6m-6 -33h6m-6 0h6m-5 7h6m-6 9h6m-5 -19h6m-6 -18h6m-6 12h6m-6 11h6m-6 7h6m-5 -26h6m-6 33h6m-5 14h6m-2 -27h6m-5 15h6m-6 -7h6m-5 1h6m-6 8h6m-6 -13h6m-6 4h6m-5 4h6m-6 -8h6m-5 -33h6m-6 3h6m-6 34h6m-5 -42h6m-6 34h6m-5 4h6m-6 -12h6m-6 -4h6m-6 -5h6m-6 16h6m-6 -9h6m-5 16h6m-6 -29h6m-6 22h6m-5 -17h6m-6 26h6m-6 -18h6m-5 -17h6m-6 29h6m-6 9h6m-6 -20h6m-5 -24h6m-6 28h6m-6 -11h6m-5 -5h6m-6 -12h6m-6 49h6m-6 -13h6m-6 4h6m-5 -28h6m-4 0h6m-6 19h6m-5 2h6m-6 -6h6m-6 4h6m-6 1h6m-6 5h6m-5 -10h6m-6 0h6m-6 -5h6m-6 -14h6m-5 -17h6m-6 31h6m-4 -10h6m-6 21h6m-6 -7h6m-5 5h6m-6 -10h6m-6 19h6m-5 -22h6m-6 -25h6m-6 34h6m-6 3h6m-5 -16h6m-6 15h6m-6 -7h6m-5 -12h6m-6 -27h6m-6 35h6m-6 -4h6m-6 -16h6m-5 6h6m-6 27h6m-6 -27h6m-6 7h6m-5 13h6m-6 -12h6m-5 20h6m-5 -50h6m-6 32h6m-6 5h6m-6 -4h6m-6 10h6m-6 -47h6m-6 37h6m-6 -19h6m-6 20h6m-5 5h6m-6 3h6m-5 -6h6m-6 -35h6m-6 34h6m-6 -7h6m-5 11h6m-6 9h6m-5 -45h6m-6 28h6m-6 1h6m-5 2h6m-6 4h6m-6 -5h6m-6 1h6m-5 -4h6m-6 -5h6m-6 -2h6m-6 13h6m-5 -2h6m-6 7h6m-6 -46h6m-5 30h6m-5 11h6m-6 3h6m-6 -7h6m-6 -39h6m-4 37h6m-6 -5h6m-5 -13h6m-6 13h6m-6 12h6m-6 0h6m-6 -10h6m-6 4h6m-5 -35h6m-6 24h6m-6 -19h6m-6 28h6m-6 -20h6m-5 14h6m-6 6h6m-6 -31h6m-5 16h6m-6 28h6m-6 -31h6m-5 27h6m-5 -9h6m-6 3h6m-6 1h6m-5 -4h6m-5 -14h6m-6 4h6m-6 7h6m-6 0h6m-5 4h6m-6 -40h6m-6 38h6m-5 -1h6m-6 -41h6m-5 32h6m-5 14h6m-6 -9h6m-6 -4h6m-6 -3h6m-5 11h6m-6 -9h6m-6 -24h6m-5 7h6m-6 28h6m-6 -16h6m-5 5h6m-6 3h6m-6 -8h6m-5 -4h6m-6 -27h6m-6 31h6m-6 0h6m-6 13h6m-6 -7h6m-5 8h6m-5 -43h6m-5 23h6m-6 3h6m-5 -38h6m-6 1h6m-6 24h6m-5 15h6m-6 -40h6m-6 48h6m-5 -23h6m-6 -9h6m-5 24h6m-6 -21h6m-6 22h6m-6 -27h6m-5 42h6m-6 -13h6m-6 -32h6m-6 35h6m-5 -24h6m-6 20h6m-6 -1h6m-6 -4h6m-5 2h6m-6 -26h6m-6 28h6m-6 -35h6m-5 37h6m-6 3h6m-5 -9h6m-6 0h6m-6 -6h6m-6 0h6m-6 -1h6m-6 -23h6m-5 -11h6m-6 33h6m-6 -28h6m-6 29h6m-6 -16h6m-5 -16h6m-6 47h6m-6 -29h6m-5 15h6m-5 -33h6m-6 18h6m-6 -4h6m-6 29h6m-6 -11h6m-5 -13h6m-5 11h6m-6 0h6m-5 3h6m-6 -21h6m-6 1h6m-6 -8h6m-6 -3h6m-5 34h6m-6 -1h6m-6 -10h6m-5 -20h6m-6 4h6m-5 7h6m-6 -10h6m-5 33h6m-5 -3h6m-6 -2h6m-6 -2h6m-6 4h6m-5 -20h6m-6 11h6m-5 6h6m-6 5h6m-6 -4h6m-6 -42h6m-5 29h6m-5 9h6m-5 5h6m-6 -23h6m-6 -20h6m-6 -14h6m-5 47h6m-6 -2h6m-6 -1h6m-6 14h6m-6 -8h6m-5 6h6m-5 4h6m-5 -10h6m-6 -5h6m-6 10h6m-6 -7h6m-6 -41h6m-6 35h6m-6 13h6m-5 -18h6m-6 4h6m-6 15h6m-5 -12h6m-6 -10h6m-6 0h6m-5 14h6m-6 -24h6m-6 18h6m-6 -9h6m-6 -22h6m-6 4h6m-5 17h6m-5 4h6m-6 -15h6m-6 -28h6m-5 27h6m-6 0h6m-5 31h6m-6 -16h6m-5 -32h6m-6 32h6m-6 15h6m-6 -12h6m-6 12h6m-5 -30h6m-6 14h6m-6 3h6m-6 -29h6m-6 9h6m-5 -13h6m-6 44h6m-6 -15h6m-6 -3h6m-6 16h6m-4 -35h6m-6 20h6m-5 0h6m-6 7h6m-4 -34h6m-5 41h6m-6 -42h6m-6 18h6m-5 -5h6m-5 -20h6m-5 31h6m-6 10h6m-6 -38h6m-6 32h6m-5 -43h6m-6 21h6m-6 28h6m-5 -44h6m-6 30h6m-6 8h6m-6 4h6m-5 -13h6m-6 -26h6m-6 4h6m-6 -19h6m-5 38h6m-6 22h6m-6 -21h6m-5 2h6m-6 20h6m-6 -11h6m-5 -1h6m-6 -5h6m-6 -11h6m-6 -13h6m-6 30h6m-6 -2h6m-6 -42h6m-6 42h6m-5 8h6m-6 -6h6m-6 -6h6m-6 -4h6m-5 7h6m-6 -55h6m-6 5h6m-6 27h6m-6 20h6m-5 -33h6m-6 42h6m-6 0h6m-6 -8h6m-5 -6h6m-6 2h6m-6 -7h6m-6 6h6m-6 4h6m-4 -4h6m-5 -28h6m-6 31h6m-5 -47h6m-6 36h6m-6 8h6m-4 -30h6m-6 2h6m-5 -11h6m-6 -11h6m-6 58h6m-5 -8h6m-6 -35h6m-5 5h6m-6 6h6m-5 19h6m-6 7h6m-6 -40h6m-5 36h6m-6 -6h6m-6 10h6m-6 -4h6m-5 -3h6m-5 10h6m-6 -10h6m-6 1h6m-5 -5h6m-6 3h6m-6 9h6m-5 -10h6m-6 10h6m-6 -17h6m-5 16h6m-6 -10h6m-5 -5h6m-6 0h6m-6 -35h6m-5 30h6m-6 5h6m-6 7h6m-5 -27h6m-6 23h6m-6 -36h6m-6 51h6m-5 -2h6m-6 -52h6m-6 46h6m-6 -10h6m-5 -20h6m-6 9h6m-5 -14h6m-6 24h6m-5 12h6m-6 -2h6m-6 -11h6m-6 -6h6m-6 -19h6m-5 29h6m-6 -1h6m-5 -48h6m-6 56h6m-6 -44h6m-6 25h6m-6 -46h6m-6 71h6m-5 -10h6m-6 5h6m-5 -45h6m-6 19h6m-6 15h6m-6 4h6m-6 -47h6m-6 37h6m-5 8h6m-6 2h6m-6 -13h6m-6 16h6m-5 -7h6m-5 -23h6m-6 -36h6m-6 60h6m-5 -13h6m-6 -26h6m-5 49h6m-6 -10h6m-6 -10h6m-6 -3h6m-6 -33h6m-5 -6h6m-6 18h6m-4 37h6m-6 1h6m-5 -16h6m-6 -38h6m-6 55h6m-6 -40h6m-6 34h6m-5 -16h6m-5 10h6m-6 4h6m-5 -8h6m-6 1h6m-5 -9h6m-6 -42h6m-6 46h6m-6 -29h6m-5 43h6m-6 -18h6m-6 18h6m-5 -14h6m-6 -2h6m-6 0h6m-5 -39h6m-6 16h6m-6 -27h6m-5 55h6m-5 -36h6m-6 20h6m-6 11h6m-6 11h6m-5 -26h6m-6 25h6m-6 -60h6m-6 30h6m-5 16h6m-5 -4h6m-6 19h6m-6 -48h6m-6 9h6m-6 49h6m-6 -26h6m-5 -40h6m-5 8h6m-6 41h6m-6 -50h6m-6 28h6m-6 9h6m-6 -16h6m-5 31h6m-6 13h6m-6 -71h6m-6 55h6m-5 -19h6m-6 -9h6m-6 25h6m-6 -39h6m-5 40h6m-6 13h6m-6 0h6m-5 -27h6m-6 11h6m-6 -5h6m-6 2h6m-5 1h6m-6 5h6m-2 -28h6m-6 22h6m-6 -34h6m-5 41h6m-6 -46h6m-6 20h6m-6 30h6m-5 -11h6m-6 -55h6m-6 59h6m-6 -7h6m-5 0h6m-6 1h6m-6 -43h6m-5 49h6m-6 -9h6m-5 9h6m-6 -53h6m-5 12h6m-6 -29h6m-6 53h6m-4 -10h6m-6 -10h6m-6 26h6m-6 -52h6m-5 51h6m-6 -35h6m-6 41h6m-6 -56h6m-6 63h6m-5 -44h6m-5 42h6m-6 -7h6m-6 -29h6m-5 33h6m-6 -3h6m-6 -33h6m-6 11h6m-6 17h6m-4 13h6m-6 -41h6m-6 45h6m-5 -69h6m-6 -3h6m-6 20h6m-5 17h6m-6 -5h6m-6 -2h6m-6 -26h6m-6 48h6m-5 -40h6m-6 30h6m-6 30h6m-5 -13h6m-6 -51h6m-6 -20h6m-5 81h6m-6 -16h6m-6 -31h6m-6 29h6m-6 -8h6m-5 9h6m-6 -52h6m-6 51h6m-5 -5h6m-6 18h6m-6 3h6m-6 -15h6m-6 -30h6m-6 33h6m-5 -21h6m-5 15h6m-6 -54h6m-6 50h6m-6 -61h6m-6 61h6m-5 1h6m-6 1h6m-5 3h6m-6 8h6m-6 -53h6m-6 48h6m-5 -64h6m-6 65h6m-6 -48h6m-6 43h6m-3 -2h6m-6 -3h6m-5 -49h6m-6 -9h6m-6 60h6m-5 -5h6m-6 6h6m-6 -10h6m-6 16h6m-6 -28h6m-5 6h6m-6 22h6m-5 -23h6m-6 19h6m-6 -46h6m-5 32h6m-6 5h6m-6 24h6m-6 -67h6m-5 35h6m-5 -43h6m-6 63h6m-6 -17h6m-6 -27h6m-6 7h6m-5 -21h6m-6 51h6m-6 7h6m-6 -10h6m-5 -1h6m-5 10h6m-5 -45h6m-5 25h6m-6 14h6m-6 -45h6m-6 -23h6m-5 40h6m-6 5h6m-5 10h6m-6 -13h6m-6 -13h6m-6 -36h6m-5 61h6m-6 9h6m-6 -21h6m-6 19h6m-5 3h6m-5 -10h6m-6 -32h6m-6 44h6m-5 0h6m-5 -2h6m-6 -7h6m-6 -80h6m-5 85h6m-6 -59h6m-6 17h6m-6 -20h6m-6 33h6m-5 26h6m-5 -3h6m-6 11h6m-6 -3h6m-6 0h6m-6 -44h6m-6 24h6m-5 13h6m-6 -32h6m-5 22h6m-6 16h6m-5 -25h6m-5 18h6m-6 -7h6m-5 6h6m-6 -49h6m-5 51h6m-6 -50h6m-6 52h6m-6 -67h6m-4 43h6m-6 20h6m-6 -67h6m-6 73h6m-5 0h6m-6 -50h6m-5 -27h6m-6 3h6m-6 65h6m-5 -14h6m-5 -32h6m-5 -44h6m-6 86h6m-6 8h6" stroke="#3050f5" stroke-width="6" stroke-opacity="0.33" fill="none"/>
<path transform="scale(.1)" d="M3714 2476h6m-5 5h6m-6 -18h6m-6 -14h6m-6 32h6m-6 -78h6m-6 69h6m-5 21h6m-6 -81h6m-6 81h6m-6 -20h6m-5 44h6m-6 -46h6m-6 72h6m-6 -127h6m-6 22h6m-6 -6h6m-6 29h6m-5 30h6m-6 -33h6m-6 23h6m-6 -74h6m-6 97h6m-6 -6h6m-5 -19h6m-6 6h6m-6 28h6m-6 -31h6m-6 -47h6m-6 55h6m-5 -65h6m-6 140h6m-6 -117h6m-5 16h6m-6 -9h6m-6 0h6m-5 13h6m-6 -22h6m-6 -4h6m-6 15h6m-6 28h6m-6 -81h6m-6 122h6m-6 -68h6m-6 64h6m-5 -74h6m-6 23h6m-6 -14h6m-6 -16h6m-6 64h6m-6 -31h6m-6 -2h6m-6 25h6m-5 -34h6m-6 38h6m-6 6h6m-6 -39h6m-6 -67h6m-5 42h6m-6 24h6m-6 27h6m-6 -50h6m-6 -6h6m-6 44h6m-5 23h6m-6 -64h6m-6 52h6m-6 9h6m-6 -83h6m-5 96h6m-6 -88h6m-6 95h6m-5 -27h6m-6 13h6m-6 -33h6m-5 8h6m-6 -19h6m-5 8h6m-6 -26h6m-6 52h6m-6 -64h6m-6 38h6m-6 9h6m-6 25h6m-5 -3h6m-6 -38h6m-6 0h6m-6 95h6m-6 -121h6m-6 16h6m-6 84h6m-6 -59h6m-5 -12h6m-6 -22h6m-5 35h6m-6 -107h6m-6 75h6m-5 35h6m-6 -54h6m-6 -7h6m-5 2h6m-6 -16h6m-6 71h6m-5 3h6m-6 -43h6m-6 43h6m-6 92h6m-6 -103h6m-6 17h6m-6 15h6m-5 -42h6m-6 -14h6m-6 3h6m-6 23h6m-6 -27h6m-6 24h6m-6 13h6m-5 -17h6m-6 -18h6m-6 62h6m-6 -114h6m-6 71h6m-5 0h6m-6 -17h6m-6 23h6m-5 -4h6m-6 49h6m-6 -84h6m-6 36h6m-6 -24h6m-6 -12h6m-6 23h6m-5 51h6m-6 -19h6m-6 -12h6m-6 -12h6m-6 65h6m-6 -59h6m-6 3h6m-5 -49h6m-6 0h6m-6 19h6m-6 -52h6m-5 73h6m-6 -2h6m-6 -30h6m-5 15h6m-6 14h6m-6 -25h6m-6 105h6m-5 -128h6m-6 48h6m-6 1h6m-6 28h6m-6 -27h6m-6 -40h6m-6 -3h6m-6 60h6m-6 10h6m-5 -53h6m-6 13h6m-6 23h6m-6 -93h6m-5 23h6m-6 -41h6m-5 92h6m-5 60h6m-6 -39h6m-6 -11h6m-5 -103h6m-6 12h6m-6 89h6m-6 28h6m-6 -47h6m-6 -44h6m-6 99h6m-6 -72h6m-6 164h6m-6 -204h6m-6 81h6m-5 4h6m-6 -71h6m-6 60h6m-6 -9h6m-6 -4h6m-6 -60h6m-6 45h6m-6 67h6m-5 -38h6m-6 -39h6m-6 151h6m-6 -96h6m-6 -126h6m-6 63h6m-6 12h6m-5 65h6m-6 -26h6m-6 -79h6m-5 86h6m-6 -4h6m-5 -1h6m-6 -7h6m-6 -50h6m-6 40h6m-6 -18h6m-5 -39h6m-6 71h6m-6 -7h6m-6 -50h6m-6 41h6m-6 -3h6m-6 55h6m-5 -42h6m-6 -34h6m-5 28h6m-6 -52h6m-6 85h6m-6 -50h6m-6 1h6m-6 -45h6m-5 7h6m-6 26h6m-6 19h6m-6 -86h6m-6 107h6m-5 -26h6m-6 32h6m-6 -37h6m-6 -41h6m-5 12h6m-6 23h6m-6 35h6m-6 -35h6m-6 8h6m-6 -15h6m-6 -18h6m-6 81h6m-5 30h6m-6 -48h6m-5 -59h6m-6 32h6m-6 44h6m-6 -38h6m-5 -68h6m-6 -11h6m-6 30h6m-6 -13h6m-5 6h6m-6 80h6m-5 -37h6m-6 -41h6m-6 46h6m-6 -12h6m-5 4h6m-6 4h6m-6 9h6m-5 -14h6m-6 8h6m-6 16h6m-6 -16h6m-6 -33h6m-5 18h6m-6 5h6m-5 36h6m-6 -27h6m-6 3h6m-6 -33h6m-6 60h6m-6 -20h6m-5 -40h6m-6 -2h6m-6 1h6m-6 40h6m-5 -25h6m-6 23h6m-6 -33h6m-6 6h6m-5 20h6m-6 -20h6m-6 2h6m-6 9h6m-6 -32h6m-6 37h6m-6 -17h6m-6 -25h6m-5 -17h6m-6 34h6m-6 -39h6m-6 -20h6m-6 85h6m-5 -119h6m-5 106h6m-6 3h6m-6 -39h6m-6 -22h6m-6 80h6m-5 -32h6m-6 -21h6m-5 14h6m-6 13h6m-6 31h6m-6 -36h6m-6 7h6m-6 36h6m-6 -76h6m-5 7h6m-6 44h6m-6 -45h6m-6 69h6m-6 17h6m-6 -19h6m-5 -16h6m-6 -82h6m-6 17h6m-6 15h6m-6 29h6m-5 -4h6m-6 -40h6m-6 59h6m-6 -49h6m-6 48h6m-6 14h6m-6 -13h6m-5 -10h6m-6 -26h6m-6 25h6m-6 -10h6m-6 31h6m-6 -20h6m-6 44h6m-5 -59h6m-6 18h6m-6 -31h6m-6 102h6m-5 -56h6m-6 14h6m-5 -46h6m-6 12h6m-6 -58h6m-6 64h6m-6 -4h6m-6 -12h6m-6 20h6m-6 -32h6m-6 20h6m-6 -34h6m-5 24h6m-6 25h6m-6 -66h6m-6 5h6m-6 70h6m-6 -51h6m-6 10h6m-6 14h6m-5 -7h6m-6 -38h6m-6 35h6m-6 1h6m-6 -13h6m-5 -13h6m-6 37h6m-6 17h6m-6 -28h6m-6 -40h6m-6 77h6m-6 -21h6m-6 1h6m-5 -9h6m-6 -1h6m-6 42h6m-6 -38h6m-5 -28h6m-6 -29h6m-6 52h6m-5 42h6m-6 -112h6m-6 76h6m-6 -8h6m-6 -53h6m-6 45h6m-6 18h6m-5 -3h6m-6 1h6m-6 -27h6m-5 9h6m-6 11h6m-5 -28h6m-6 38h6m-6 -6h6m-6 -7h6m-6 44h6m-5 -19h6m-6 -64h6m-6 59h6m-6 -12h6m-5 -14h6m-6 12h6m-6 12h6m-6 -22h6m-6 -7h6m-6 0h6m-5 15h6m-6 19h6m-6 -53h6m-5 20h6m-6 21h6m-6 -34h6m-6 31h6m-6 -65h6m-5 60h6m-6 53h6m-6 -54h6m-6 -4h6m-6 -17h6m-6 9h6m-5 -44h6m-5 70h6m-6 20h6m-6 -50h6m-6 -31h6m-6 20h6m-5 9h6m-6 39h6m-5 -54h6m-6 -78h6m-5 140h6m-6 -24h6m-6 -17h6m-6 -10h6m-6 0h6m-5 -5h6m-6 7h6m-6 9h6m-6 -17h6m-6 0h6m-6 20h6m-6 -36h6m-5 23h6m-6 -18h6m-6 -1h6m-6 -2h6m-6 -28h6m-6 32h6m-6 5h6m-6 -42h6m-6 69h6m-6 22h6m-5 -20h6m-6 2h6m-5 15h6m-6 -8h6m-6 -12h6m-6 6h6m-6 -146h6m-5 111h6m-6 -22h6m-6 29h6m-6 -39h6m-5 -21h6m-6 63h6m-6 27h6m-6 -12h6m-6 1h6m-6 14h6m-5 -44h6m-6 10h6m-6 -6h6m-6 15h6m-6 8h6m-6 -6h6m-6 -25h6m-6 -2h6m-6 1h6m-6 -60h6m-6 138h6m-5 -43h6m-6 -17h6m-6 7h6m-6 -44h6m-5 20h6m-6 4h6m-6 -23h6m-6 46h6m-5 -24h6m-6 45h6m-6 -49h6m-6 29h6m-6 8h6m-5 -47h6m-6 -2h6m-6 -11h6m-6 13h6m-6 94h6m-6 -87h6m-5 17h6m-6 49h6m-6 -62h6m-6 16h6m-6 -12h6m-5 -13h6m-6 21h6m-5 -5h6m-6 -7h6m-6 11h6m-6 10h6m-6 -25h6m-6 19h6m-6 -27h6m-5 39h6m-6 -2h6m-5 -21h6m-6 -9h6m-6 -65h6m-6 78h6m-6 -24h6m-6 60h6m-6 42h6m-6 -112h6m-6 57h6m-5 -48h6m-6 46h6m-6 -6h6m-6 -41h6m-5 53h6m-6 -7h6m-6 -20h6m-5 11h6m-6 -2h6m-6 -17h6m-5 -50h6m-6 58h6m-6 -13h6m-6 3h6m-5 12h6m-6 -33h6m-6 18h6m-6 5h6m-6 60h6m-6 -46h6m-5 -9h6m-6 -26h6m-6 25h6m-6 27h6m-5 -56h6m-6 36h6m-6 -1h6m-6 -20h6m-6 1h6m-5 26h6m-6 14h6m-5 -1h6m-6 -21h6m-6 -10h6m-6 -14h6m-6 22h6m-5 -12h6m-6 -10h6m-6 32h6m-6 -26h6m-6 5h6m-6 -10h6m-5 -7h6m-6 16h6m-6 58h6m-6 -58h6m-6 -11h6m-5 -32h6m-6 50h6m-5 -16h6m-6 -8h6m-6 49h6m-5 -29h6m-6 -1h6m-5 -19h6m-6 11h6m-6 2h6m-6 21h6m-6 -52h6m-6 56h6m-6 -42h6m-5 29h6m-6 7h6m-6 -43h6m-6 -5h6m-6 54h6m-5 -5h6m-6 -31h6m-6 14h6m-6 -7h6m-5 -39h6m-6 35h6m-6 9h6m-6 -5h6m-6 -5h6m-5 -5h6m-6 -32h6m-6 56h6m-5 -22h6m-6 11h6m-6 -5h6m-5 49h6m-6 -24h6m-6 -11h6m-5 -10h6m-6 27h6m-6 -19h6m-6 2h6m-6 -11h6m-5 -16h6m-6 -5h6m-6 32h6m-6 1h6m-5 -25h6m-6 -9h6m-6 8h6m-5 25h6m-6 -61h6m-6 60h6m-6 11h6m-6 -90h6m-6 106h6m-6 -69h6m-6 0h6m-6 17h6m-5 21h6m-6 -30h6m-6 20h6m-5 47h6m-6 -20h6m-5 -19h6m-6 -37h6m-6 -13h6m-6 24h6m-6 -74h6m-6 126h6m-5 -30h6m-6 -6h6m-5 -16h6m-6 57h6m-6 -56h6m-5 -18h6m-6 40h6m-6 -23h6m-6 0h6m-6 -11h6m-4 -9h6m-6 21h6m-6 -28h6m-6 25h6m-6 22h6m-6 -42h6m-5 29h6m-6 -2h6m-6 15h6m-6 -25h6m-6 -3h6m-5 26h6m-6 5h6m-6 -5h6m-6 10h6m-5 -3h6m-6 -32h6m-6 -44h6m-6 51h6m-6 13h6m-6 -1h6m-5 -28h6m-6 18h6m-5 33h6m-6 -35h6m-6 8h6m-6 4h6m-6 -25h6m-6 3h6m-6 26h6m-5 10h6m-6 -10h6m-6 -42h6m-6 34h6m-6 -66h6m-5 64h6m-6 -31h6m-6 12h6m-6 49h6m-5 -44h6m-6 -16h6m-6 33h6m-6 -13h6m-6 8h6m-6 19h6m-5 -50h6m-6 32h6m-6 -5h6m-6 3h6m-6 -18h6m-6 31h6m-6 -10h6m-6 -18h6m-6 12h6m-6 15h6m-6 -15h6m-5 18h6m-6 6h6m-6 -26h6m-6 -6h6m-6 19h6m-6 -1h6m-6 -21h6m-6 9h6m-6 22h6m-6 -19h6m-5 13h6m-6 -25h6m-6 -31h6m-6 28h6m-6 7h6m-6 -4h6m-6 -9h6m-5 2h6m-6 -45h6m-6 51h6m-6 -9h6m-6 6h6m-6 5h6m-6 10h6m-5 20h6m-6 -4h6m-5 -4h6m-6 -55h6m-6 13h6m-5 3h6m-6 -4h6m-6 32h6m-6 24h6m-6 -25h6m-6 35h6m-5 -43h6m-6 37h6m-6 -38h6m-5 25h6m-6 -35h6m-6 3h6m-6 -16h6m-6 22h6m-6 11h6m-5 -14h6m-6 -5h6m-6 42h6m-6 -33h6m-6 -22h6m-6 12h6m-6 0h6m-6 -37h6m-5 43h6m-6 1h6m-6 2h6m-6 20h6m-6 -19h6m-6 4h6m-6 -27h6m-6 11h6m-6 -8h6m-5 6h6m-6 24h6m-6 3h6m-6 -18h6m-6 7h6m-6 -1h6m-6 8h6m-6 -6h6m-6 -1h6m-6 -20h6m-5 23h6m-6 9h6m-6 -12h6m-6 14h6m-6 -32h6m-6 4h6m-6 -22h6m-6 50h6m-6 -14h6m-6 1h6m-5 -23h6m-6 3h6m-6 23h6m-5 -5h6m-6 -16h6m-6 2h6m-5 5h6m-6 3h6m-6 27h6m-6 -9h6m-5 -19h6m-6 -10h6m-6 -22h6m-6 29h6m-6 -5h6m-6 47h6m-6 -52h6m-6 -3h6m-5 -12h6m-6 -32h6m-6 66h6m-6 -62h6m-6 120h6m-6 -47h6m-5 -13h6m-6 3h6m-6 -3h6m-6 -48h6m-6 18h6m-6 13h6m-6 1h6m-6 2h6m-5 -10h6m-6 22h6m-5 -24h6m-6 -39h6m-6 39h6m-6 -35h6m-6 49h6m-6 8h6m-6 -23h6m-5 10h6m-6 -35h6m-5 43h6m-6 18h6m-6 -73h6m-6 32h6m-6 -23h6m-6 44h6m-6 -9h6m-5 16h6m-5 -10h6m-6 9h6m-6 -30h6m-6 29h6m-6 -31h6m-6 7h6m-6 6h6m-5 20h6m-6 -24h6m-6 -1h6m-6 2h6m-5 3h6m-6 -12h6m-6 35h6m-6 -25h6m-6 19h6m-6 -14h6m-6 0h6m-6 -1h6m-5 -6h6m-6 35h6m-6 -6h6m-6 -22h6m-5 -36h6m-6 11h6m-6 19h6m-6 -7h6m-5 26h6m-6 -35h6m-6 14h6m-6 0h6m-5 -5h6m-6 -1h6m-6 13h6m-6 -9h6m-6 8h6m-5 9h6m-6 -18h6m-6 20h6m-6 -8h6m-5 14h6m-6 -14h6m-5 -22h6m-6 13h6m-6 18h6m-6 -41h6m-6 20h6m-5 -11h6m-6 13h6m-6 -14h6m-5 32h6m-6 -14h6m-6 -10h6m-6 42h6m-6 -73h6m-5 19h6m-6 11h6m-6 14h6m-6 -17h6m-6 36h6m-6 -35h6m-6 43h6m-5 -33h6m-6 -2h6m-6 -13h6m-6 21h6m-6 -12h6m-5 9h6m-6 3h6m-6 1h6m-5 -17h6m-6 18h6m-5 -22h6m-6 -11h6m-6 34h6m-6 -34h6m-6 15h6m-5 18h6m-6 -23h6m-6 26h6m-6 3h6m-6 -45h6m-6 24h6m-5 -2h6m-6 6h6m-6 -12h6m-6 3h6m-6 -12h6m-5 13h6m-6 -34h6m-6 46h6m-6 -3h6m-6 -31h6m-6 19h6m-5 15h6m-6 -19h6m-6 6h6m-6 -6h6m-6 18h6m-6 -34h6m-6 44h6m-6 -20h6m-6 26h6m-6 -11h6m-5 -20h6m-6 42h6m-6 -33h6m-6 -23h6m-5 5h6m-6 3h6m-6 -24h6m-6 0h6m-6 36h6m-5 -10h6m-6 20h6m-6 -20h6m-6 5h6m-6 -43h6m-6 44h6m-5 -3h6m-6 13h6m-6 -9h6m-6 -12h6m-6 36h6m-6 -16h6m-6 -33h6m-5 39h6m-6 -19h6m-6 -11h6m-6 25h6m-6 0h6m-6 11h6m-6 -16h6m-5 -25h6m-6 27h6m-6 4h6m-6 3h6m-6 -22h6m-5 27h6m-6 -15h6m-6 -18h6m-6 -1h6m-6 19h6m-6 -31h6m-6 7h6m-6 13h6m-6 -3h6m-5 15h6m-6 -31h6m-6 14h6m-6 -14h6m-6 0h6m-6 33h6m-5 -30h6m-6 -20h6m-6 43h6m-6 12h6m-6 -38h6m-5 27h6m-6 -2h6m-6 -29h6m-6 22h6m-6 7h6m-6 -18h6m-6 9h6m-6 -1h6m-5 -1h6m-6 7h6m-6 -33h6m-6 36h6m-6 -14h6m-6 -12h6m-5 16h6m-6 -5h6m-6 24h6m-6 -31h6m-5 17h6m-6 11h6m-6 -17h6m-6 -9h6m-5 -41h6m-6 65h6m-6 11h6m-6 -31h6m-5 50h6m-6 -36h6m-6 15h6m-6 -17h6m-6 4h6m-5 -4h6m-6 -17h6m-6 7h6m-6 5h6m-6 -4h6m-5 5h6m-6 8h6m-6 15h6m-6 -4h6m-6 -27h6m-6 5h6m-5 -9h6m-6 8h6m-6 -26h6m-6 33h6m-6 -14h6m-5 8h6m-6 -15h6m-6 27h6m-6 -21h6m-6 1h6m-6 0h6m-6 8h6m-5 -1h6m-6 -19h6m-6 10h6m-6 -1h6m-6 5h6m-5 -4h6m-6 -2h6m-6 -6h6m-6 20h6m-6 9h6m-6 -23h6m-6 24h6m-5 -13h6m-6 8h6m-6 -22h6m-6 13h6m-6 6h6m-6 -9h6m-5 -5h6m-6 19h6m-6 -17h6m-6 5h6m-6 -18h6m-5 3h6m-6 -6h6m-6 18h6m-6 10h6m-5 -44h6m-6 32h6m-6 7h6m-6 -17h6m-6 30h6m-6 -13h6m-5 -19h6m-6 23h6m-6 -3h6m-6 -21h6m-6 22h6m-6 -31h6m-6 30h6m-6 -56h6m-6 54h6m-6 3h6m-5 17h6m-6 -28h6m-6 -11h6m-6 3h6m-6 21h6m-6 -23h6m-6 -20h6m-5 61h6m-6 -26h6m-6 -27h6m-6 18h6m-6 16h6m-6 -8h6m-6 6h6m-5 -11h6m-6 -14h6m-5 5h6m-6 13h6m-6 -20h6m-6 1h6m-5 30h6m-6 -25h6m-6 -2h6m-5 -3h6m-6 13h6m-6 -6h6m-6 21h6m-6 -21h6m-6 3h6m-5 -6h6m-6 9h6m-6 -5h6m-6 41h6m-5 -23h6m-6 -21h6m-6 9h6m-6 0h6m-6 -6h6m-6 -1h6m-6 12h6m-5 -17h6m-6 1h6m-6 15h6m-6 -23h6m-5 35h6m-6 -3h6m-6 -25h6m-6 -4h6m-6 10h6m-6 -13h6m-6 10h6m-6 6h6m-6 -2h6m-5 4h6m-6 -7h6m-6 21h6m-5 -12h6m-6 -14h6m-6 -11h6m-6 16h6m-6 -3h6m-5 -7h6m-6 28h6m-6 -46h6m-6 8h6m-6 22h6m-6 -6h6m-5 13h6m-6 -22h6m-5 -7h6m-5 10h6m-6 3h6m-6 -36h6m-6 38h6m-5 15h6m-6 -15h6m-6 12h6m-6 -26h6m-6 4h6m-6 -15h6m-6 40h6m-5 -16h6m-6 2h6m-6 -11h6m-5 -3h6m-6 4h6m-6 20h6m-5 -33h6m-6 21h6m-6 -11h6m-6 -6h6m-5 13h6m-6 -8h6m-6 14h6m-6 -5h6m-6 -16h6m-6 21h6m-6 -9h6m-6 -3h6m-5 -11h6m-6 12h6m-6 -2h6m-5 -3h6m-6 6h6m-5 5h6m-6 -3h6m-6 -3h6m-6 -11h6m-6 -13h6m-6 13h6m-6 19h6m-5 -30h6m-6 10h6m-6 11h6m-6 -9h6m-6 7h6m-6 -6h6m-6 3h6m-5 16h6m-6 1h6m-6 -9h6m-6 -19h6m-6 -13h6m-5 51h6m-6 -16h6m-6 -7h6m-6 17h6m-5 -22h6m-6 -16h6m-5 22h6m-6 37h6m-6 -41h6m-6 -8h6m-6 -2h6m-4 12h6m-6 -4h6m-6 -5h6m-6 26h6m-6 -40h6m-5 41h6m-6 -40h6m-6 29h6m-6 0h6m-6 -16h6m-6 -7h6m-6 20h6m-6 -4h6m-5 -14h6m-6 -5h6m-6 32h6m-6 -7h6m-6 -8h6m-6 -3h6m-6 2h6m-5 -1h6m-6 -3h6m-6 -2h6m-5 0h6m-6 -25h6m-6 -15h6m-5 52h6m-6 -6h6m-6 -12h6m-6 16h6m-5 -20h6m-6 9h6m-6 -10h6m-6 5h6m-6 8h6m-6 0h6m-6 3h6m-6 -31h6m-5 36h6m-6 -13h6m-6 -13h6m-6 9h6m-6 2h6m-6 7h6m-6 -12h6m-5 8h6m-6 2h6m-5 -5h6m-6 5h6m-6 23h6m-6 -14h6m-6 -32h6m-5 37h6m-6 -11h6m-6 10h6m-6 -36h6m-6 23h6m-6 -2h6m-6 -2h6m-6 0h6m-5 -4h6m-6 -16h6m-6 26h6m-6 -34h6m-5 21h6m-6 35h6m-6 -26h6m-6 -13h6m-5 1h6m-6 17h6m-6 -2h6m-6 -19h6m-6 3h6m-5 -7h6m-6 -11h6m-6 38h6m-6 -12h6m-6 -7h6m-6 2h6m-6 4h6m-6 -24h6m-6 13h6m-5 -11h6m-6 22h6m-6 6h6m-6 -12h6m-5 11h6m-6 2h6m-6 -19h6m-6 23h6m-6 -6h6m-6 -24h6m-6 1h6m-6 20h6m-5 -15h6m-6 6h6m-6 -10h6m-6 18h6m-6 -13h6m-6 11h6m-5 -2h6m-6 -13h6m-6 0h6m-6 15h6m-6 -25h6m-5 9h6m-6 14h6m-6 12h6m-6 1h6m-6 -20h6m-6 -22h6m-4 16h6m-6 -1h6m-6 16h6m-6 -6h6m-6 3h6m-6 7h6m-6 -11h6m-6 2h6m-6 8h6m-6 25h6m-5 -39h6m-6 0h6m-5 -4h6m-6 6h6m-6 0h6m-6 -13h6m-6 -8h6m-5 24h6m-6 0h6m-6 -5h6m-6 8h6m-6 -12h6m-5 7h6m-6 -3h6m-6 4h6m-6 -12h6m-5 17h6m-6 -26h6m-6 -3h6m-5 12h6m-6 23h6m-6 -11h6m-6 -1h6m-6 1h6m-5 -27h6m-6 30h6m-6 -11h6m-6 1h6m-6 23h6m-6 -18h6m-6 -8h6m-6 -4h6m-6 3h6m-5 17h6m-6 -11h6m-6 -7h6m-5 5h6m-6 8h6m-6 -18h6m-6 2h6m-6 10h6m-6 -21h6m-5 17h6m-6 2h6m-6 5h6m-6 -2h6m-6 -3h6m-5 4h6m-6 3h6m-6 -20h6m-6 18h6m-6 -7h6m-6 -4h6m-6 1h6m-5 -8h6m-6 -1h6m-6 7h6m-5 6h6m-6 5h6m-6 -15h6m-6 -4h6m-6 7h6m-6 -17h6m-5 4h6m-6 17h6m-6 -2h6m-6 20h6m-6 -22h6m-6 9h6m-6 -21h6m-5 -6h6m-6 15h6m-6 -4h6m-6 14h6m-6 -7h6m-6 11h6m-6 -15h6m-6 -17h6m-5 -3h6m-6 31h6m-6 -14h6m-6 -7h6m-6 6h6m-6 9h6m-6 -2h6m-5 13h6m-6 -9h6m-6 -3h6m-6 -12h6m-5 9h6m-6 5h6m-6 -1h6m-6 -4h6m-6 -11h6m-5 13h6m-6 -3h6m-6 -1h6m-6 -11h6m-6 4h6m-6 7h6m-5 4h6m-6 1h6m-6 -3h6m-6 -21h6m-6 21h6m-6 -2h6m-6 -15h6m-6 8h6m-5 35h6m-6 -33h6m-6 20h6m-6 -20h6m-5 -14h6m-6 20h6m-6 -19h6m-6 6h6m-6 9h6m-5 7h6m-6 -6h6m-6 -5h6m-6 17h6m-5 -24h6m-6 -1h6m-6 5h6m-6 12h6m-6 1h6m-6 -10h6m-6 64h6m-6 -61h6m-6 -4h6m-6 18h6m-6 -14h6m-6 10h6m-6 -11h6m-5 22h6m-6 -8h6m-6 13h6m-6 -27h6m-6 9h6m-6 -15h6m-6 -9h6m-6 12h6m-6 3h6m-6 -4h6m-5 -17h6m-6 39h6m-6 -4h6m-5 -10h6m-6 -16h6m-6 29h6m-6 -22h6m-6 3h6m-6 8h6m-5 -13h6m-6 2h6m-6 6h6m-6 13h6m-5 -24h6m-6 9h6m-6 -12h6m-6 2h6m-6 9h6m-6 -3h6m-6 -5h6m-6 25h6m-5 -18h6m-6 -2h6m-6 17h6m-6 -16h6m-6 9h6m-6 -6h6m-6 -2h6m-5 7h6m-6 9h6m-6 -20h6m-6 5h6m-6 2h6m-6 -6h6m-6 0h6m-5 -18h6m-6 19h6m-6 -5h6m-5 -8h6m-6 13h6m-6 0h6m-6 -1h6m-6 1h6m-6 -6h6m-6 16h6m-6 -10h6m-6 -9h6m-5 4h6m-6 13h6m-6 -9h6m-6 5h6m-5 -4h6m-6 7h6m-6 0h6m-6 -14h6m-6 3h6m-6 -3h6m-5 20h6m-6 -23h6m-6 7h6m-6 13h6m-5 -14h6m-6 -2h6m-5 2h6m-6 -15h6m-6 19h6m-6 11h6m-6 -4h6m-6 -18h6m-6 7h6m-6 -2h6m-6 1h6m-6 9h6m-5 -30h6m-6 20h6m-6 -6h6m-6 4h6m-3 8h6m-6 -8h6m-6 2h6m-6 -14h6m-6 7h6m-6 0h6m-6 1h6m-5 0h6m-6 -9h6m-6 13h6m-5 6h6m-6 3h6m-6 -15h6m-6 -2h6m-6 -9h6m-6 5h6m-6 8h6m-5 -6h6m-6 19h6m-6 -18h6m-6 -13h6m-6 -1h6m-5 28h6m-6 10h6m-6 -39h6m-5 10h6m-6 9h6m-6 1h6m-6 13h6m-6 -37h6m-6 21h6m-6 -18h6m-5 25h6m-6 -9h6m-6 19h6m-6 -6h6m-5 -3h6m-6 -15h6m-6 10h6m-6 23h6m-6 -37h6m-6 18h6m-6 -13h6m-5 28h6m-6 -22h6m-6 -10h6m-6 9h6m-6 2h6m-6 -2h6m-5 4h6m-6 -10h6m-6 18h6m-6 -22h6m-5 0h6m-6 3h6m-6 11h6m-6 -7h6m-6 3h6m-6 -2h6m-6 7h6m-6 -17h6m-5 8h6m-6 5h6m-5 -2h6m-6 -5h6m-6 15h6m-6 -9h6m-6 -4h6m-5 0h6m-6 -1h6m-6 -7h6m-6 10h6m-5 -3h6m-6 2h6m-6 -7h6m-5 -7h6m-6 11h6m-5 -2h6m-6 25h6m-6 -22h6m-6 -8h6m-6 9h6m-6 -7h6m-6 2h6m-5 -1h6m-6 2h6m-6 -5h6m-6 4h6m-6 -21h6m-5 6h6m-6 24h6m-6 -19h6m-6 17h6m-6 -24h6m-6 6h6m-6 4h6m-6 8h6m-5 -11h6m-6 -11h6m-6 21h6m-6 23h6m-6 -45h6m-6 10h6m-6 13h6m-5 -14h6m-6 14h6m-6 -4h6m-6 -1h6m-6 11h6m-5 -4h6m-6 -10h6m-6 -6h6m-6 12h6m-6 -15h6m-6 -2h6m-5 17h6m-6 5h6m-6 -15h6m-6 10h6m-6 -4h6m-6 0h6m-6 -10h6m-5 1h6m-6 4h6m-6 -8h6m-5 10h6m-6 5h6m-6 0h6m-6 -20h6m-6 17h6m-6 -8h6m-6 10h6m-6 -8h6m-5 4h6m-6 9h6m-6 -11h6m-6 13h6m-6 -19h6m-5 4h6m-6 -2h6m-6 7h6m-6 -1h6m-6 -1h6m-6 15h6m-6 -15h6m-6 -6h6m-5 -4h6m-6 6h6m-6 5h6m-6 -8h6m-6 5h6m-6 -1h6m-5 0h6m-6 12h6m-6 -22h6m-6 3h6m-6 13h6m-6 -9h6m-5 9h6m-6 -4h6m-6 -22h6m-6 27h6m-6 -7h6m-6 3h6m-6 4h6m-5 -5h6m-6 -33h6m-6 27h6m-5 9h6m-6 -21h6m-6 6h6m-6 13h6m-6 3h6m-5 -7h6m-6 3h6m-6 -11h6m-6 10h6m-6 3h6m-6 -7h6m-6 -6h6m-6 0h6m-5 -2h6m-6 14h6m-6 -6h6m-6 -7h6m-5 6h6m-6 3h6m-6 -9h6m-6 0h6m-6 -2h6m-6 5h6m-5 2h6m-6 1h6m-6 1h6m-6 -5h6m-6 1h6m-6 8h6m-6 -8h6m-6 -15h6m-6 19h6m-6 -9h6m-6 12h6m-4 6h6m-6 -6h6m-6 4h6m-6 -16h6m-6 -8h6m-6 4h6m-6 9h6m-6 7h6m-5 1h6m-6 -1h6m-6 -4h6m-5 -4h6m-6 -1h6m-5 -2h6m-6 -1h6m-5 2h6m-6 -4h6m-6 1h6m-6 3h6m-6 0h6m-6 -25h6m-6 36h6m-6 -17h6m-5 13h6m-6 -14h6m-6 5h6m-6 7h6m-6 -13h6m-6 3h6m-6 -4h6m-5 1h6m-6 8h6m-6 -5h6m-6 13h6m-6 -17h6m-6 6h6m-6 -9h6m-6 9h6m-6 -6h6m-5 -1h6m-6 7h6m-6 2h6m-5 -3h6m-6 -1h6m-6 1h6m-6 1h6m-5 2h6m-6 3h6m-6 -8h6m-6 -10h6m-6 33h6m-5 -37h6m-6 23h6m-6 -19h6m-5 11h6m-6 -7h6m-5 6h6m-6 -8h6m-5 -15h6m-6 34h6m-6 -24h6m-6 12h6m-5 -10h6m-6 -3h6m-6 28h6m-4 -23h6m-6 9h6m-6 -18h6m-6 -1h6m-5 10h6m-6 4h6m-6 -5h6m-6 5h6m-6 -1h6m-6 -3h6m-6 -12h6m-5 12h6m-6 14h6m-6 -17h6m-6 18h6m-5 -10h6m-6 -10h6m-6 -1h6m-6 -3h6m-5 12h6m-6 -9h6m-6 -1h6m-6 -14h6m-5 14h6m-6 21h6m-6 -13h6m-6 0h6m-6 -9h6m-6 20h6m-6 -20h6m-5 5h6m-5 -2h6m-6 -1h6m-6 1h6m-6 14h6m-6 -23h6m-6 18h6m-5 -3h6m-6 -22h6m-6 16h6m-6 4h6m-6 8h6m-5 -12h6m-6 -3h6m-6 -4h6m-6 -1h6m-5 -2h6m-6 -8h6m-5 5h6m-6 15h6m-6 6h6m-6 -9h6m-6 -2h6m-6 8h6m-6 -9h6m-6 4h6m-5 3h6m-6 4h6m-6 -20h6m-6 27h6m-5 -15h6m-6 11h6m-6 -20h6m-6 23h6m-6 -26h6m-5 24h6m-6 -1h6m-6 -15h6m-6 0h6m-6 -10h6m-6 11h6m-5 2h6m-6 0h6m-6 -2h6m-6 3h6m-6 -1h6m-6 25h6m-6 -30h6m-5 -8h6m-6 3h6m-6 2h6m-6 3h6m-6 -12h6m-6 5h6m-5 -48h6m-6 55h6m-6 -10h6m-6 -12h6m-5 16h6m-6 -1h6m-6 -10h6m-6 6h6m-5 6h6m-6 0h6m-6 -2h6m-5 6h6m-6 -1h6m-6 -8h6m-6 8h6m-6 20h6m-5 -22h6m-6 -7h6m-6 13h6m-6 -12h6m-5 10h6m-6 -9h6m-6 5h6m-6 -2h6m-5 -5h6m-6 -2h6m-6 5h6m-6 7h6m-6 -1h6m-6 -3h6m-6 -16h6m-6 7h6m-6 3h6m-6 17h6m-6 -17h6m-5 4h6m-6 -4h6m-6 -11h6m-6 17h6m-6 11h6m-6 -8h6m-5 11h6m-6 -15h6m-6 7h6m-6 -17h6m-5 0h6m-6 12h6m-6 -11h6m-6 0h6m-6 6h6m-6 -2h6m-6 -2h6m-6 -22h6m-6 23h6m-6 8h6m-5 4h6m-6 -24h6m-6 21h6m-6 -17h6m-6 15h6m-6 -9h6m-6 -5h6m-6 17h6m-5 -5h6m-6 -5h6m-6 -1h6m-6 -9h6m-6 7h6m-6 1h6m-6 1h6m-5 10h6m-6 -5h6m-6 -11h6m-6 24h6m-6 -9h6m-6 2h6m-5 -21h6m-6 4h6m-6 -9h6m-6 -9h6m-5 21h6m-6 6h6m-6 3h6m-6 -9h6m-6 2h6m-6 11h6m-5 -21h6m-6 7h6m-6 -12h6m-6 3h6m-5 11h6m-6 -4h6m-6 10h6m-6 -6h6m-5 18h6m-5 -15h6m-6 0h6m-6 -39h6m-6 26h6m-6 18h6m-5 -17h6m-6 13h6m-6 -3h6m-6 -18h6m-5 28h6m-6 -18h6m-6 2h6m-5 0h6m-6 2h6m-6 -9h6m-6 5h6m-6 15h6m-6 -13h6m-6 9h6m-6 7h6m-5 -22h6m-6 -5h6m-6 17h6m-6 -28h6m-6 22h6m-6 11h6m-6 -4h6m-6 -17h6m-5 6h6m-6 -1h6m-6 0h6m-6 -11h6m-6 -4h6m-6 39h6m-6 -14h6m-6 9h6m-6 -21h6m-5 13h6m-6 -16h6m-6 10h6m-6 4h6m-5 -10h6m-6 2h6m-6 0h6m-6 2h6m-6 15h6m-6 -20h6m-5 6h6m-6 -16h6m-6 8h6m-6 0h6m-6 -8h6m-5 17h6m-6 -3h6m-6 -9h6m-6 8h6m-6 -36h6m-5 32h6m-6 1h6m-6 4h6m-6 -7h6m-5 -12h6m-6 22h6m-5 -14h6m-6 6h6m-6 -11h6m-6 1h6m-6 5h6m-6 -6h6m-6 9h6m-6 -3h6m-6 6h6m-5 9h6m-6 -15h6m-6 6h6m-6 10h6m-6 -19h6m-6 6h6m-5 3h6m-6 -4h6m-6 1h6m-6 2h6m-6 -11h6m-6 16h6m-6 -23h6m-6 16h6m-6 10h6m-5 -8h6m-6 -7h6m-6 5h6m-5 1h6m-6 -3h6m-6 3h6m-6 -12h6m-5 10h6m-6 -19h6m-6 -8h6m-6 23h6m-6 -1h6m-6 -2h6m-5 -11h6m-6 3h6m-5 15h6m-6 -4h6m-6 13h6m-6 -15h6m-6 10h6m-5 -9h6m-6 -8h6m-6 13h6m-6 -4h6m-6 4h6m-6 -4h6m-6 6h6m-5 -3h6m-6 -5h6m-6 -9h6m-6 6h6m-6 15h6m-6 -5h6m-6 7h6m-5 -26h6m-6 10h6m-6 11h6m-6 -10h6m-6 5h6m-6 -5h6m-6 -7h6m-6 6h6m-5 9h6m-6 7h6m-6 -14h6m-6 0h6m-5 -12h6m-6 9h6m-6 -26h6m-5 28h6m-6 10h6m-6 5h6m-6 -11h6m-6 -8h6m-5 10h6m-6 -3h6m-6 1h6m-6 -4h6m-6 7h6m-6 -7h6m-5 -1h6m-6 -3h6m-6 -3h6m-6 -8h6m-6 17h6m-6 -21h6m-6 15h6m-5 -1h6m-6 8h6m-6 -3h6m-6 -2h6m-6 -10h6m-6 6h6m-6 10h6m-6 -30h6m-6 34h6m-5 1h6m-6 -17h6m-6 6h6m-6 -8h6m-5 6h6m-6 -9h6m-6 17h6m-6 1h6m-6 -9h6m-6 14h6m-6 -3h6m-6 -3h6m-5 -14h6m-6 14h6m-6 -3h6m-6 -9h6m-6 -1h6m-6 5h6m-5 -1h6m-6 7h6m-6 -12h6m-6 11h6m-6 -29h6m-5 33h6m-6 -17h6m-6 -7h6m-6 4h6m-5 -2h6m-6 -7h6m-6 12h6m-6 -4h6m-6 13h6m-6 -5h6m-5 0h6m-6 -4h6m-6 6h6m-6 -10h6m-6 7h6m-6 -28h6m-6 38h6m-6 -19h6m-6 8h6m-6 12h6m-5 3h6m-6 -5h6m-6 -16h6m-5 8h6m-6 7h6m-6 -25h6m-6 7h6m-5 29h6m-6 -15h6m-6 -16h6m-6 30h6m-6 -16h6m-6 -2h6m-5 9h6m-6 -9h6m-6 2h6m-5 5h6m-6 7h6m-6 -6h6m-6 5h6m-6 -32h6m-6 21h6m-6 7h6m-6 -9h6m-6 -8h6m-6 7h6m-6 -6h6m-6 -1h6m-5 -2h6m-6 -2h6m-6 6h6m-6 10h6m-5 -15h6m-6 8h6m-6 -6h6m-6 -7h6m-6 16h6m-6 -7h6m-5 2h6m-6 3h6m-6 1h6m-6 -7h6m-6 12h6m-6 -2h6m-5 -11h6m-6 -14h6m-6 15h6m-6 -2h6m-6 -21h6m-6 28h6m-6 -5h6m-6 -2h6m-6 10h6m-6 -13h6m-5 34h6m-6 -34h6m-6 -10h6m-6 13h6m-6 9h6m-6 -1h6m-6 -8h6m-5 9h6m-6 -12h6m-6 4h6m-6 -3h6m-5 7h6m-6 3h6m-6 -19h6m-6 11h6m-5 5h6m-6 0h6m-6 -15h6m-6 -10h6m-5 35h6m-6 -4h6m-6 -26h6m-5 20h6m-6 -2h6m-6 -6h6m-6 -24h6m-6 30h6m-6 -13h6m-6 10h6m-6 0h6m-5 -3h6m-6 -10h6m-6 8h6m-6 -6h6m-6 19h6m-6 -16h6m-5 11h6m-6 -23h6m-6 10h6m-6 9h6m-6 -6h6m-6 -19h6m-6 14h6m-5 -2h6m-6 5h6m-6 3h6m-6 -4h6m-6 -1h6m-6 20h6m-6 -20h6m-5 0h6m-6 11h6m-5 12h6m-6 -13h6m-6 -5h6m-6 -10h6m-6 4h6m-5 6h6m-6 6h6m-6 -15h6m-6 12h6m-6 4h6m-6 0h6m-5 -4h6m-6 -1h6m-6 -15h6m-5 -27h6m-6 33h6m-5 9h6m-6 -15h6m-6 11h6m-6 -8h6m-5 10h6m-6 -10h6m-6 5h6m-6 6h6m-6 26h6m-6 -39h6m-6 9h6m-6 4h6m-5 0h6m-6 -2h6m-6 -3h6m-5 -12h6m-6 15h6m-6 5h6m-5 -17h6m-6 6h6m-6 6h6m-6 -1h6m-6 1h6m-6 -7h6m-5 -4h6m-6 15h6m-6 -22h6m-6 -1h6m-6 12h6m-6 28h6m-5 -21h6m-6 47h6m-6 -51h6m-5 -8h6m-6 6h6m-6 14h6m-6 -12h6m-6 2h6m-5 -25h6m-6 23h6m-6 0h6m-6 -34h6m-6 26h6m-5 11h6m-6 -17h6m-6 24h6m-4 -19h6m-6 4h6m-5 -17h6m-6 17h6m-6 -9h6m-6 -19h6m-6 16h6m-6 14h6m-6 -21h6m-5 29h6m-6 -17h6m-6 -1h6m-6 2h6m-6 -6h6m-5 -4h6m-6 23h6m-6 -15h6m-6 5h6m-6 -2h6m-6 -3h6m-5 28h6m-6 -25h6m-6 -11h6m-5 10h6m-6 0h6m-5 -2h6m-6 -2h6m-6 -3h6m-6 0h6m-6 0h6m-6 1h6m-5 5h6m-6 6h6m-6 -15h6m-6 6h6m-5 9h6m-6 -10h6m-6 -20h6m-6 16h6m-6 -5h6m-5 10h6m-6 6h6m-6 -26h6m-5 8h6m-6 21h6m-6 -20h6m-6 6h6m-5 19h6m-6 -11h6m-6 -7h6m-6 -6h6m-5 0h6m-6 15h6m-6 -12h6m-5 2h6m-6 -2h6m-6 11h6m-5 6h6m-6 -12h6m-6 0h6m-6 -4h6m-6 14h6m-5 -20h6m-6 1h6m-6 1h6m-6 4h6m-5 5h6m-6 -5h6m-6 -15h6m-6 5h6m-6 -1h6m-6 10h6m-6 13h6m-6 -16h6m-5 -3h6m-6 14h6m-6 -9h6m-5 -19h6m-6 23h6m-6 -22h6m-5 14h6m-6 6h6m-6 -8h6m-6 3h6m-6 0h6m-6 3h6m-5 -14h6m-6 5h6m-6 6h6m-6 -7h6m-5 10h6m-5 1h6m-6 -7h6m-6 27h6m-6 -34h6m-6 22h6m-6 -17h6m-5 0h6m-6 1h6m-6 20h6m-6 -15h6m-6 3h6m-6 -8h6m-6 -6h6m-6 -2h6m-5 10h6m-6 3h6m-6 -7h6m-6 13h6m-6 11h6m-6 -30h6m-6 -1h6m-5 10h6m-6 1h6m-6 2h6m-6 -7h6m-6 22h6m-6 -33h6m-6 6h6m-5 -2h6m-6 32h6m-6 -10h6m-5 -3h6m-6 -8h6m-6 -9h6m-5 5h6m-6 -38h6m-6 51h6m-5 -1h6m-6 -10h6m-6 -9h6m-6 -9h6m-6 24h6m-6 5h6m-5 -15h6m-6 2h6m-6 -3h6m-6 4h6m-6 -12h6m-6 15h6m-5 3h6m-6 -9h6m-6 5h6m-6 -2h6m-6 1h6m-6 -24h6m-5 31h6m-6 -27h6m-5 17h6m-6 -2h6m-6 2h6m-6 -20h6m-6 21h6m-6 -12h6m-6 15h6m-6 1h6m-6 4h6m-6 -17h6m-6 7h6m-6 -6h6m-5 18h6m-6 -19h6m-6 6h6m-6 -2h6m-6 5h6m-5 -4h6m-6 -7h6m-5 2h6m-6 -21h6m-6 23h6m-6 -7h6m-6 14h6m-5 -13h6m-6 0h6m-6 10h6m-6 5h6m-6 -1h6m-6 -21h6m-5 34h6m-6 -27h6m-6 2h6m-6 14h6m-6 -11h6m-6 -12h6m-6 6h6m-5 8h6m-6 -11h6m-6 8h6m-5 -2h6m-6 -16h6m-6 17h6m-6 -5h6m-6 29h6m-6 -19h6m-6 2h6m-6 0h6m-6 -5h6m-5 -14h6m-6 23h6m-6 -31h6m-6 24h6m-6 -17h6m-5 32h6m-6 -33h6m-6 3h6m-6 8h6m-6 1h6m-6 14h6m-6 -10h6m-5 29h6m-6 -29h6m-6 -13h6m-6 18h6m-6 7h6m-5 -14h6m-6 -13h6m-6 20h6m-6 3h6m-5 -8h6m-6 -8h6m-6 -20h6m-6 15h6m-5 5h6m-6 1h6m-6 1h6m-6 -5h6m-6 -2h6m-6 16h6m-6 -3h6m-5 -8h6m-6 0h6m-6 3h6m-6 -17h6m-6 25h6m-6 -1h6m-6 -1h6m-6 24h6m-5 -46h6m-6 16h6m-6 -9h6m-6 2h6m-6 9h6m-6 -4h6m-5 5h6m-6 -6h6m-6 -23h6m-5 33h6m-6 -8h6m-6 10h6m-6 -9h6m-6 -27h6m-6 37h6m-6 -29h6m-6 27h6m-6 -14h6m-6 -31h6m-5 27h6m-6 3h6m-6 14h6m-6 -8h6m-5 2h6m-6 5h6m-6 -18h6m-6 19h6m-6 -15h6m-5 -7h6m-6 26h6m-6 -14h6m-6 28h6m-6 -48h6m-5 25h6m-6 -19h6m-5 13h6m-6 -15h6m-6 4h6m-6 17h6m-6 -6h6m-6 -13h6m-6 -5h6m-6 28h6m-5 -23h6m-6 3h6m-6 -10h6m-6 4h6m-6 30h6m-6 -20h6m-6 -40h6m-5 25h6m-6 8h6m-6 -12h6m-5 9h6m-6 15h6m-6 3h6m-6 -30h6m-6 26h6m-6 8h6m-6 -20h6m-5 -12h6m-6 20h6m-6 -11h6m-6 21h6m-6 -6h6m-6 -8h6m-5 2h6m-6 -5h6m-5 8h6m-6 -2h6m-6 -11h6m-6 8h6m-6 17h6m-6 -22h6m-5 5h6m-6 -6h6m-6 -6h6m-6 25h6m-6 -7h6m-5 -17h6m-5 5h6m-6 10h6m-6 19h6m-6 -16h6m-6 -15h6m-6 22h6m-6 -16h6m-5 14h6m-6 -15h6m-6 6h6m-6 22h6m-6 -13h6m-5 -30h6m-6 1h6m-6 10h6m-5 -16h6m-6 19h6m-6 13h6m-6 -14h6m-6 4h6m-5 4h6m-6 -31h6m-6 32h6m-6 -17h6m-6 7h6m-6 -7h6m-6 3h6m-5 -4h6m-6 16h6m-6 2h6m-5 -55h6m-6 33h6m-6 28h6m-5 -23h6m-6 11h6m-6 4h6m-6 -11h6m-6 3h6m-6 -6h6m-6 1h6m-5 13h6m-6 4h6m-6 -23h6m-6 9h6m-5 -8h6m-6 4h6m-6 -13h6m-6 34h6m-6 -15h6m-6 7h6m-5 15h6m-6 -21h6m-6 4h6m-6 -12h6m-6 7h6m-5 -6h6m-5 -13h6m-6 14h6m-6 -18h6m-5 12h6m-6 7h6m-6 -2h6m-6 14h6m-6 -19h6m-6 -11h6m-6 26h6m-6 4h6m-6 -18h6m-5 -9h6m-6 -5h6m-6 3h6m-5 24h6m-6 -10h6m-6 -6h6m-6 21h6m-6 -16h6m-5 2h6m-6 -4h6m-6 29h6m-6 -22h6m-6 -2h6m-6 8h6m-6 -19h6m-6 8h6m-6 4h6m-5 -4h6m-6 3h6m-6 -3h6m-6 36h6m-6 -33h6m-5 -3h6m-6 -16h6m-6 5h6m-6 4h6m-6 13h6m-6 13h6m-6 -13h6m-6 -7h6m-6 -10h6m-5 13h6m-6 1h6m-6 7h6m-6 -8h6m-6 -14h6m-6 -10h6m-6 18h6m-6 -10h6m-5 29h6m-6 -23h6m-6 -1h6m-6 20h6m-6 -9h6m-6 -3h6m-6 6h6m-5 -15h6m-6 16h6m-6 -9h6m-5 5h6m-6 -15h6m-6 12h6m-6 6h6m-6 -18h6m-5 24h6m-5 -30h6m-6 48h6m-6 -56h6m-6 31h6m-6 -5h6m-5 -26h6m-6 37h6m-6 -35h6m-6 36h6m-6 0h6m-6 -19h6m-5 9h6m-6 -15h6m-6 8h6m-6 15h6m-6 -33h6m-6 23h6m-6 16h6m-6 -24h6m-5 -20h6m-6 29h6m-5 -28h6m-6 38h6m-6 -8h6m-6 -29h6m-6 36h6m-5 -25h6m-6 -40h6m-6 59h6m-5 5h6m-6 -15h6m-6 -3h6m-6 -16h6m-6 22h6m-6 -2h6m-6 -16h6m-6 25h6m-6 -12h6m-5 -1h6m-6 2h6m-6 4h6m-6 54h6m-6 -55h6m-5 27h6m-6 -15h6m-6 -1h6m-6 -16h6m-5 5h6m-5 -4h6m-6 13h6m-6 -20h6m-6 34h6m-6 -36h6m-6 23h6m-5 -10h6m-6 -13h6m-6 7h6m-6 6h6m-6 8h6m-5 -32h6m-6 26h6m-6 -26h6m-6 12h6m-6 0h6m-6 5h6m-5 1h6m-6 -13h6m-6 -6h6m-6 12h6m-6 -7h6m-5 9h6m-6 6h6m-6 7h6m-5 -9h6m-6 2h6m-6 -43h6m-6 26h6m-6 0h6m-5 21h6m-6 -7h6m-6 14h6m-6 -11h6m-5 -1h6m-6 -17h6m-6 -1h6m-6 22h6m-6 -28h6m-5 -19h6m-6 20h6m-6 22h6m-6 -5h6m-6 -6h6m-6 -4h6m-6 22h6m-6 -6h6m-5 -17h6m-6 -9h6m-6 0h6m-5 9h6m-6 4h6m-6 -18h6m-6 27h6m-6 -42h6m-6 50h6m-5 -27h6m-6 -2h6m-6 28h6m-6 -23h6m-6 17h6m-5 -10h6m-6 -12h6m-6 6h6m-6 10h6m-6 2h6m-6 23h6m-6 -24h6m-6 -3h6m-6 18h6m-5 -18h6m-6 -26h6m-6 49h6m-5 -28h6m-6 10h6m-6 -30h6m-6 25h6m-6 -9h6m-6 21h6m-6 5h6m-5 -20h6m-6 7h6m-6 -26h6m-6 15h6m-6 -6h6m-6 -23h6m-5 28h6m-6 18h6m-6 -19h6m-6 22h6m-6 -10h6m-5 -10h6m-6 -14h6m-6 20h6m-6 -18h6m-6 7h6m-6 3h6m-6 19h6m-5 -25h6m-6 41h6m-6 -16h6m-6 -27h6m-6 -10h6m-5 14h6m-6 21h6m-6 13h6m-6 -6h6m-5 -46h6m-6 20h6m-6 3h6m-6 0h6m-6 -5h6m-5 12h6m-6 8h6m-5 1h6m-6 -13h6m-5 3h6m-6 -18h6m-6 28h6m-6 -27h6m-6 1h6m-6 23h6m-5 0h6m-6 -5h6m-6 8h6m-6 -61h6m-6 54h6m-6 5h6m-6 16h6m-5 -1h6m-6 -29h6m-6 -5h6m-6 -11h6m-6 14h6m-6 17h6m-6 0h6m-5 -24h6m-6 8h6m-6 60h6m-6 -55h6m-5 7h6m-6 -34h6m-6 33h6m-5 -3h6m-6 -20h6m-6 33h6m-6 -35h6m-6 -11h6m-6 -10h6m-5 -7h6m-6 36h6m-6 8h6m-6 -13h6m-6 38h6m-6 -43h6m-5 24h6m-6 -11h6m-6 17h6m-6 -34h6m-6 25h6m-6 8h6m-6 -11h6m-6 -29h6m-5 11h6m-6 -1h6m-6 -2h6m-6 16h6m-6 -26h6m-6 26h6m-6 -24h6m-6 70h6m-5 -62h6m-6 19h6m-6 -5h6m-6 -33h6m-6 62h6m-5 -47h6m-6 35h6m-6 -9h6m-6 7h6m-6 -16h6m-5 -7h6m-6 -24h6m-6 45h6m-6 -3h6m-6 -9h6m-5 -27h6m-6 36h6m-6 -10h6m-6 2h6m-6 -12h6m-6 9h6m-6 -34h6m-6 28h6m-6 16h6m-5 -15h6m-6 -1h6m-6 0h6m-6 -14h6m-6 17h6m-6 1h6m-6 -24h6m-6 24h6m-5 5h6m-6 35h6m-6 -49h6m-6 5h6m-6 4h6m-6 59h6m-6 -41h6m-6 -9h6m-6 -9h6m-5 -23h6m-6 42h6m-5 -13h6m-6 -32h6m-6 22h6m-6 10h6m-6 8h6m-6 -29h6m-5 47h6m-6 -36h6m-6 35h6m-6 -35h6m-6 -22h6m-6 4h6m-6 17h6m-6 17h6m-6 -23h6m-6 20h6m-5 -1h6m-6 -14h6m-6 -29h6m-6 40h6m-6 -9h6m-6 -22h6m-6 -4h6m-5 14h6m-6 1h6m-5 9h6m-6 3h6m-6 4h6m-5 -10h6m-6 -3h6m-6 21h6m-6 -26h6m-6 46h6m-5 -19h6m-6 5h6m-6 -3h6m-6 -3h6m-6 -8h6m-6 11h6m-6 -32h6m-5 10h6m-6 -4h6m-6 -4h6m-5 22h6m-6 -10h6m-6 19h6m-6 -51h6m-6 62h6m-6 -52h6m-5 21h6m-5 32h6m-6 -40h6m-6 19h6m-5 3h6m-6 -1h6m-5 -32h6m-6 4h6m-5 16h6m-6 7h6m-6 -23h6m-6 4h6m-5 14h6m-6 -32h6m-6 27h6m-5 -15h6m-6 22h6m-6 -14h6m-6 -15h6m-5 82h6m-6 -85h6m-6 10h6m-5 18h6m-6 -28h6m-6 11h6m-6 33h6m-6 -32h6m-6 7h6m-5 -12h6m-6 -7h6m-6 9h6m-6 35h6m-5 -55h6m-6 13h6m-6 -11h6m-6 27h6m-6 7h6m-6 -2h6m-5 17h6m-6 -35h6m-6 29h6m-6 -26h6m-6 -3h6m-6 34h6m-5 -25h6m-6 12h6m-6 -30h6m-6 -1h6m-6 66h6m-6 -37h6m-6 46h6m-6 -52h6m-5 -9h6m-6 -23h6m-6 53h6m-5 -6h6m-5 36h6m-6 -85h6m-6 42h6m-5 -9h6m-6 7h6m-6 -14h6m-6 4h6m-6 -11h6m-6 15h6m-6 -24h6m-6 1h6m-5 13h6m-6 12h6m-6 2h6m-6 79h6m-5 -79h6m-6 -5h6m-6 -15h6m-6 17h6m-6 35h6m-6 -39h6m-5 -20h6m-6 49h6m-5 -43h6m-6 27h6m-6 -66h6m-6 62h6m-6 12h6m-6 -39h6m-5 33h6m-6 -33h6m-6 19h6m-6 40h6m-6 -51h6m-5 -17h6m-6 -11h6m-6 42h6m-5 -8h6m-6 21h6m-6 -18h6m-6 -63h6m-6 33h6m-5 2h6m-6 41h6m-5 -21h6m-6 -8h6m-6 7h6m-5 31h6m-6 -42h6m-6 20h6m-6 -15h6m-6 -10h6m-6 11h6m-6 34h6m-5 -23h6m-6 -21h6m-6 13h6m-6 -5h6m-6 39h6m-5 -44h6m-6 52h6m-5 -24h6m-6 -18h6m-6 10h6m-6 -9h6m-6 -17h6m-6 17h6m-5 -7h6m-6 31h6m-6 -7h6m-6 -50h6m-6 47h6m-6 -24h6m-6 10h6m-6 28h6m-6 -43h6m-5 22h6m-6 14h6m-6 -18h6m-6 4h6m-6 1h6m-6 -29h6m-5 21h6m-6 16h6m-6 -41h6m-6 36h6m-6 -23h6m-6 28h6m-6 -15h6m-6 -35h6m-6 32h6m-6 17h6m-5 -42h6m-6 35h6m-6 -6h6m-6 12h6m-6 -22h6m-6 15h6m-5 -23h6m-6 -22h6m-6 50h6m-6 -16h6m-6 3h6m-6 13h6m-6 -13h6m-5 -38h6m-6 39h6m-6 -7h6m-6 22h6m-6 -41h6m-6 28h6m-5 -10h6m-6 10h6m-6 -1h6m-6 -8h6m-6 -29h6m-6 42h6m-6 -4h6m-5 12h6m-6 -52h6m-6 28h6m-6 9h6m-5 -29h6m-6 9h6m-6 23h6m-6 -16h6m-6 13h6m-6 13h6m-6 29h6m-5 8h6m-6 -76h6m-6 48h6m-6 -41h6m-6 -35h6m-6 49h6m-6 -25h6m-5 46h6m-5 -36h6m-6 -19h6m-6 33h6m-6 -20h6m-6 -8h6m-6 46h6m-6 -20h6m-5 36h6m-6 -70h6m-6 42h6m-6 -3h6m-6 14h6m-6 -24h6m-6 0h6m-6 5h6m-5 -35h6m-6 34h6m-6 -10h6m-5 32h6m-6 -31h6m-5 -13h6m-6 34h6m-5 -7h6m-6 -1h6m-6 -6h6m-6 -7h6m-6 90h6m-6 -79h6m-5 -7h6m-6 -6h6m-5 9h6m-6 -52h6m-6 62h6m-6 -23h6m-6 35h6m-5 -9h6m-6 -32h6m-6 6h6m-6 -13h6m-5 28h6m-6 10h6m-6 -35h6m-6 -5h6m-6 20h6m-6 -117h6m-5 133h6m-6 -14h6m-6 -1h6m-6 34h6m-5 -60h6m-6 1h6m-6 69h6m-6 -57h6m-6 36h6m-5 -34h6m-6 30h6m-6 -31h6m-6 10h6m-5 -16h6m-6 31h6m-6 19h6m-5 -32h6m-6 53h6m-6 -29h6m-6 -2h6m-6 -18h6m-5 29h6m-6 -32h6m-6 -16h6m-6 21h6m-6 -6h6m-6 7h6m-5 -7h6m-6 -4h6m-6 4h6m-6 23h6m-6 -44h6m-6 33h6m-5 -8h6m-6 -38h6m-6 20h6m-6 41h6m-6 26h6m-5 -49h6m-6 -28h6m-6 26h6m-6 -7h6m-6 -1h6m-6 -25h6m-5 28h6m-5 27h6m-6 -13h6m-6 -23h6m-6 19h6m-6 -98h6m-6 73h6m-5 -36h6m-6 25h6m-5 28h6m-6 -8h6m-6 15h6m-5 -58h6m-6 36h6m-6 49h6m-5 -23h6m-6 -16h6m-6 -17h6m-6 11h6m-6 -3h6m-6 18h6m-6 22h6m-6 -43h6m-5 4h6m-6 2h6m-6 17h6m-6 -34h6m-6 12h6m-5 -60h6m-6 72h6m-6 17h6m-6 -27h6m-5 14h6m-6 -9h6m-6 2h6m-6 -9h6m-6 -2h6m-6 41h6m-6 -9h6m-5 -36h6m-6 29h6m-6 -23h6m-6 -13h6m-6 43h6m-6 -7h6m-6 -51h6m-5 33h6m-6 -13h6m-6 -39h6m-6 46h6m-6 15h6m-6 -12h6m-6 7h6m-6 50h6m-6 -53h6m-5 5h6m-6 1h6m-6 -27h6m-5 26h6m-6 54h6m-6 -70h6m-6 4h6m-6 32h6m-6 12h6m-5 -33h6m-6 5h6m-6 -19h6m-6 20h6m-5 -9h6m-6 -68h6m-6 88h6m-6 -11h6m-6 -16h6m-5 6h6m-6 13h6m-6 -31h6m-6 -2h6m-6 31h6m-6 -19h6m-5 41h6m-6 -27h6m-6 8h6m-6 -39h6m-5 27h6m-6 -27h6m-6 6h6m-5 -5h6m-6 1h6m-6 -7h6m-6 40h6m-5 -13h6m-6 3h6m-6 8h6m-5 -6h6m-6 35h6m-6 9h6m-6 -48h6m-6 -7h6m-6 48h6m-6 -44h6m-6 10h6m-5 -9h6m-6 5h6m-6 -46h6m-6 43h6m-6 -39h6m-5 32h6m-6 -12h6m-6 -14h6m-5 62h6m-6 -93h6m-6 49h6m-6 5h6m-6 -33h6m-6 51h6m-5 -47h6m-6 13h6m-5 26h6m-6 -5h6m-5 -7h6m-6 38h6m-6 -52h6m-6 32h6m-5 -10h6m-6 -4h6m-6 51h6m-6 -55h6m-5 37h6m-6 -33h6m-6 -11h6m-6 38h6m-6 -46h6m-6 14h6m-5 6h6m-6 5h6m-6 32h6m-6 -96h6m-5 41h6m-6 40h6m-6 -20h6m-6 14h6m-5 6h6m-6 -4h6m-6 0h6m-6 -18h6m-5 -20h6m-6 0h6m-6 -4h6m-6 84h6m-6 -60h6m-5 3h6m-6 -10h6m-6 21h6m-6 -53h6m-6 22h6m-6 27h6m-6 -5h6m-5 16h6m-6 -53h6m-6 32h6m-6 8h6m-6 8h6m-6 3h6m-6 -19h6m-5 -25h6m-6 20h6m-6 -17h6m-6 -14h6m-6 59h6m-5 -22h6m-6 -11h6m-6 6h6m-5 -29h6m-6 36h6m-6 -1h6m-6 5h6m-6 -21h6m-5 44h6m-6 -49h6m-6 28h6m-6 -38h6m-5 14h6m-6 -9h6m-6 -2h6m-6 38h6m-6 -54h6m-6 58h6m-5 -67h6m-6 45h6m-6 15h6m-6 -40h6m-6 46h6m-6 -46h6m-6 31h6m-6 -25h6m-5 25h6m-6 -26h6m-6 16h6m-6 -11h6m-6 -10h6m-6 25h6m-5 -6h6m-6 -22h6m-6 80h6m-6 -43h6m-6 -51h6m-6 20h6m-6 52h6m-6 -12h6m-5 -18h6m-6 -23h6m-6 6h6m-6 15h6m-6 -26h6m-5 22h6m-6 -21h6m-6 -5h6m-6 33h6m-6 -51h6m-6 57h6m-6 -101h6m-5 48h6m-6 39h6m-6 -30h6m-6 90h6m-6 -138h6m-6 79h6m-5 12h6m-6 -5h6m-6 -64h6m-6 33h6m-5 61h6m-6 -32h6m-6 -11h6m-6 39h6m-5 -14h6m-6 -21h6m-6 16h6m-5 -24h6m-6 15h6m-6 29h6m-6 -26h6m-6 -6h6m-5 33h6m-6 -65h6m-6 24h6m-5 -14h6m-6 -28h6m-6 21h6m-5 80h6m-6 -74h6m-6 67h6m-5 -20h6m-6 -22h6m-6 -42h6m-6 84h6m-5 -75h6m-6 16h6m-6 15h6m-6 23h6m-6 -36h6m-6 11h6m-6 34h6m-6 -24h6m-5 -53h6m-6 54h6m-6 20h6m-5 55h6m-6 -83h6m-6 6h6m-6 -6h6m-6 -34h6m-6 20h6m-6 -22h6m-5 54h6m-6 -18h6m-6 -31h6m-6 47h6m-6 79h6m-6 -143h6m-5 46h6m-6 59h6m-6 -80h6m-6 28h6m-6 7h6m-6 -54h6m-5 32h6m-6 17h6m-6 -29h6m-6 7h6m-5 121h6m-6 -135h6m-6 18h6m-5 -17h6m-6 26h6m-6 -26h6m-6 36h6m-5 -86h6m-6 59h6m-6 -6h6m-6 -14h6m-5 76h6m-6 -68h6m-6 39h6m-6 -46h6m-6 29h6m-5 -1h6m-5 -36h6m-6 48h6m-6 5h6m-6 -102h6m-5 89h6m-6 -5h6m-6 -17h6m-6 36h6m-6 -42h6m-6 45h6m-6 -12h6m-6 -1h6m-5 14h6m-6 -75h6m-5 49h6m-6 -17h6m-6 7h6m-6 -14h6m-5 46h6m-6 -34h6m-6 -5h6m-6 2h6m-5 48h6m-6 -65h6m-6 17h6m-6 15h6m-6 -46h6m-6 21h6m-6 74h6m-5 -69h6m-6 2h6m-6 17h6m-6 -7h6m-5 10h6m-6 2h6m-6 -27h6m-6 7h6m-6 -32h6m-5 -8h6m-5 39h6m-5 8h6m-6 -11h6m-6 17h6m-5 5h6m-6 2h6m-6 -19h6m-6 -39h6m-6 -32h6m-6 68h6m-6 -18h6m-6 70h6m-5 -57h6m-6 54h6m-6 -35h6m-6 38h6m-6 -43h6m-5 -7h6m-6 2h6m-6 -36h6m-6 28h6m-6 -10h6m-6 67h6m-5 -27h6m-6 -61h6m-6 65h6m-6 -15h6m-6 40h6m-6 -34h6m-6 14h6m-6 -30h6m-6 -13h6m-5 10h6m-6 -52h6m-6 25h6m-6 11h6m-6 52h6" stroke="#3050f5" stroke-width="6" stroke-opacity="0.22" fill="none"/>
<path transform="scale(.1)" d="M4861 2646h6m-6 -166h6m-5 144h6m-6 -110h6m-6 24h6m-6 -56h6m-6 -50h6m-5 80h6m-6 -24h6m-6 60h6m-6 -22h6m-6 6h6m-6 -26h6m-5 1h6m-6 32h6m-6 97h6m-6 -151h6m-6 32h6m-6 -9h6m-5 -4h6m-6 20h6m-6 -16h6m-6 -76h6m-6 51h6m-6 10h6m-5 46h6m-6 -35h6m-6 62h6m-6 -48h6m-6 47h6m-5 -85h6m-6 30h6m-5 51h6m-6 -67h6m-6 74h6m-6 -54h6m-6 5h6m-5 56h6m-6 -78h6m-5 -9h6m-6 -11h6m-6 63h6m-6 -114h6m-6 117h6m-6 -75h6m-5 79h6m-6 -66h6m-6 44h6m-6 -108h6m-6 111h6m-6 -60h6m-5 56h6m-6 -21h6m-6 -26h6m-6 55h6m-6 -54h6m-5 32h6m-6 -11h6m-6 31h6m-6 -23h6m-6 -14h6m-6 -27h6m-5 44h6m-6 71h6m-6 -153h6m-6 -32h6m-6 54h6m-6 9h6m-6 38h6m-6 -5h6m-5 -79h6m-6 106h6m-6 114h6m-6 -109h6m-6 -53h6m-5 13h6m-6 16h6m-6 28h6m-6 18h6m-5 -2h6m-6 -85h6m-6 8h6m-6 -48h6m-5 123h6m-6 -87h6m-6 152h6m-6 -75h6m-5 15h6m-6 -23h6m-6 -7h6m-6 -1h6m-6 -27h6m-5 -34h6m-6 23h6m-6 -1h6m-6 -4h6m-5 -27h6m-5 59h6m-6 -80h6m-6 123h6m-6 -41h6m-6 -18h6m-5 3h6m-5 -14h6m-6 -1h6m-6 -2h6m-6 25h6m-6 -16h6m-6 80h6m-5 -37h6m-6 0h6m-6 9h6m-6 -10h6m-5 -8h6m-6 -65h6m-5 56h6m-6 0h6m-6 -6h6m-6 -12h6m-6 -19h6m-5 -19h6m-6 -6h6m-6 1h6m-6 86h6m-6 -83h6m-6 119h6m-6 -71h6m-6 -46h6m-5 -5h6m-6 -25h6m-6 115h6m-6 -146h6m-5 108h6m-6 -19h6m-6 -8h6m-6 14h6m-6 -45h6m-6 24h6m-5 72h6m-6 -93h6m-6 23h6m-6 102h6m-6 -98h6m-5 15h6m-6 -101h6m-6 -5h6m-6 56h6m-5 12h6m-6 -17h6m-6 54h6m-6 9h6m-5 -28h6m-6 -14h6m-6 26h6m-6 -51h6m-6 9h6m-5 -11h6m-6 39h6m-6 53h6m-6 -61h6m-5 35h6m-6 51h6m-6 -113h6m-5 8h6m-6 81h6m-6 -83h6m-6 45h6m-6 -59h6m-6 54h6m-5 -53h6m-6 -5h6m-6 112h6m-6 -108h6m-6 73h6m-6 -14h6m-5 20h6m-6 -22h6m-6 -44h6m-6 49h6m-6 14h6m-5 -50h6m-6 -5h6m-6 52h6m-6 15h6m-6 -57h6m-6 -31h6m-6 124h6m-6 -80h6m-6 12h6m-5 -22h6m-6 68h6m-6 -55h6m-5 -26h6m-6 22h6m-6 4h6m-6 4h6m-6 -43h6m-6 88h6m-6 -61h6m-5 -8h6m-6 -6h6m-6 56h6m-6 -35h6m-6 18h6m-6 -2h6m-6 -26h6m-6 -28h6m-6 22h6m-6 30h6m-5 -11h6m-6 31h6m-6 -17h6m-5 -40h6m-6 -65h6m-6 135h6m-6 -22h6m-6 40h6m-6 -66h6m-6 -56h6m-6 12h6m-6 27h6m-6 65h6m-6 -55h6m-5 -118h6m-6 109h6m-6 44h6m-6 -22h6m-6 59h6m-6 -46h6m-6 -23h6m-5 -15h6m-6 17h6m-6 61h6m-6 -64h6m-6 47h6m-6 -50h6m-6 61h6m-5 -145h6m-6 104h6m-6 -42h6m-6 -36h6m-6 70h6m-5 -93h6m-6 112h6m-6 -66h6m-6 -47h6m-6 71h6m-5 29h6m-6 -6h6m-6 -12h6m-5 131h6m-6 -102h6m-6 -24h6m-5 5h6m-5 -22h6m-6 34h6m-6 -28h6m-6 27h6m-6 42h6m-6 -108h6m-5 61h6m-6 -50h6m-6 37h6m-6 -12h6m-6 -35h6m-6 -37h6m-6 34h6m-5 93h6m-6 -59h6m-6 -42h6m-6 17h6m-5 38h6m-6 -9h6m-6 -17h6m-6 12h6m-6 3h6m-6 29h6m-5 0h6m-6 -36h6m-6 54h6m-5 -52h6m-6 8h6m-6 56h6m-6 -66h6m-6 -115h6m-6 91h6m-6 -45h6m-6 48h6m-6 -87h6m-6 141h6m-5 -25h6m-6 -2h6m-6 31h6m-5 -77h6m-6 132h6m-6 -27h6m-6 -30h6m-6 -86h6m-6 83h6m-6 29h6m-5 -55h6m-6 54h6m-6 -80h6m-6 -6h6m-6 0h6m-6 25h6m-6 1h6m-5 -2h6m-6 4h6m-5 18h6m-6 -11h6m-6 -88h6m-6 89h6m-6 -81h6m-6 87h6m-6 -55h6m-6 83h6m-5 -60h6m-6 28h6m-6 95h6m-6 -81h6m-6 6h6m-6 -72h6m-6 14h6m-6 47h6m-5 -43h6m-6 41h6m-5 -2h6m-6 -9h6m-6 -15h6m-6 -41h6m-5 75h6m-6 -43h6m-6 -1h6m-6 64h6m-6 -65h6m-6 -8h6m-6 17h6m-6 72h6m-6 -22h6m-6 18h6m-6 -68h6m-6 41h6m-6 -69h6m-5 54h6m-6 -84h6m-6 26h6m-6 32h6m-6 18h6m-6 -21h6m-5 11h6m-6 -46h6m-6 33h6m-6 -19h6m-6 72h6m-6 -46h6m-6 14h6m-6 13h6m-6 -68h6m-6 20h6m-5 40h6m-6 -21h6m-6 51h6m-6 -61h6m-6 -4h6m-5 59h6m-6 -64h6m-6 -71h6m-6 67h6m-6 9h6m-5 13h6m-6 1h6m-6 69h6m-6 -76h6m-6 24h6m-5 26h6m-6 -43h6m-6 -41h6m-6 25h6m-6 58h6m-6 -50h6m-5 31h6m-6 -17h6m-6 -13h6m-6 -24h6m-5 32h6m-6 13h6m-6 -92h6m-6 20h6m-6 48h6m-6 -53h6m-6 30h6m-6 1h6m-6 52h6m-5 -31h6m-6 55h6m-6 0h6m-6 -5h6m-5 -38h6m-6 2h6m-6 -19h6m-6 -25h6m-6 -3h6m-5 49h6m-6 -23h6m-6 31h6m-6 7h6m-6 -19h6m-5 24h6m-6 -11h6m-6 -73h6m-6 25h6m-6 92h6m-6 -40h6m-5 -66h6m-6 7h6m-6 60h6m-6 -45h6m-6 -20h6m-6 17h6m-6 32h6m-6 16h6m-5 -41h6m-6 17h6m-6 -9h6m-6 18h6m-6 15h6m-6 -99h6m-5 90h6m-6 -66h6m-6 67h6m-6 -17h6m-5 0h6m-6 -32h6m-6 53h6m-6 0h6m-5 -5h6m-6 -37h6m-6 -11h6m-6 -10h6m-6 67h6m-6 -12h6m-6 5h6m-5 39h6m-6 -75h6m-6 36h6m-6 -49h6m-6 1h6m-5 10h6m-6 -18h6m-6 29h6m-6 4h6m-6 -18h6m-6 33h6m-6 0h6m-6 -22h6m-6 -66h6m-5 16h6m-6 43h6m-6 -26h6m-6 53h6m-6 -26h6m-6 -9h6m-6 26h6m-6 -44h6m-5 95h6m-6 -68h6m-5 -55h6m-6 42h6m-6 -23h6m-6 8h6m-6 32h6m-5 -9h6m-6 96h6m-6 -109h6m-6 6h6m-6 24h6m-6 -37h6m-6 24h6m-6 65h6m-6 -85h6m-5 -5h6m-6 31h6m-6 43h6m-6 -72h6m-6 13h6m-5 -32h6m-6 43h6m-6 -5h6m-6 -54h6m-6 84h6m-6 -44h6m-6 14h6m-6 -61h6m-5 62h6m-5 -44h6m-6 74h6m-6 -3h6m-6 -10h6m-6 59h6m-6 -77h6m-5 12h6m-6 -31h6m-6 16h6m-6 -5h6m-6 -8h6m-6 17h6m-4 -28h6m-6 -32h6m-6 -2h6m-5 30h6m-6 87h6m-6 -113h6m-6 -16h6m-6 77h6m-6 -66h6m-6 27h6m-5 19h6m-6 -1h6m-6 122h6m-5 -88h6m-6 -30h6m-6 17h6m-6 -31h6m-6 0h6m-6 -55h6m-6 154h6m-6 -49h6m-5 20h6m-6 -49h6m-6 17h6m-5 -42h6m-6 50h6m-6 -50h6m-6 13h6m-5 -25h6m-6 57h6m-6 -42h6m-6 10h6m-5 24h6m-6 46h6m-6 -23h6m-6 -130h6m-6 44h6m-5 -73h6m-6 150h6m-6 2h6m-6 -34h6m-6 -12h6m-6 17h6m-6 -25h6m-6 -38h6m-5 66h6m-6 1h6m-6 -17h6m-6 3h6m-5 -3h6m-6 36h6m-6 -29h6m-6 -13h6m-6 26h6m-6 -92h6m-5 98h6m-6 68h6m-6 -130h6m-6 69h6m-6 15h6m-6 -50h6m-5 -20h6m-6 21h6m-6 -108h6m-5 84h6m-6 13h6m-5 -10h6m-6 -9h6m-6 73h6m-6 -95h6m-5 23h6m-5 33h6m-6 27h6m-6 -24h6m-6 -13h6m-6 101h6m-5 -74h6m-6 -42h6m-6 -15h6m-6 42h6m-6 -19h6m-6 -13h6m-5 2h6m-6 57h6m-6 -57h6m-6 -43h6m-6 35h6m-6 54h6m-6 -35h6m-5 -4h6m-6 -16h6m-6 30h6m-6 26h6m-5 39h6m-6 -12h6m-6 -32h6m-5 -33h6m-6 61h6m-6 -26h6m-6 5h6m-6 33h6m-6 -64h6m-6 -21h6m-6 66h6m-6 -84h6m-6 65h6m-6 -27h6m-6 -35h6m-6 20h6m-6 11h6m-5 1h6m-6 4h6m-6 -70h6m-6 25h6m-6 66h6m-5 -26h6m-6 -23h6m-6 13h6m-6 9h6m-6 26h6m-6 -102h6m-6 112h6m-6 -31h6m-6 -25h6m-5 23h6m-6 6h6m-6 8h6m-6 -17h6m-6 38h6m-6 -29h6m-5 -63h6m-6 62h6m-6 -21h6m-6 42h6m-5 -5h6m-6 -49h6m-6 67h6m-6 -27h6m-6 24h6m-6 -46h6m-5 22h6m-6 4h6m-6 -25h6m-6 16h6m-5 -2h6m-6 -38h6m-6 14h6m-6 3h6m-5 -56h6m-6 56h6m-6 0h6m-6 -12h6m-6 -22h6m-5 58h6m-6 23h6m-6 -33h6m-6 -2h6m-6 25h6m-6 -59h6m-5 114h6m-6 -71h6m-6 11h6m-6 -58h6m-6 90h6m-6 -82h6m-6 46h6m-5 -45h6m-6 -32h6m-6 79h6m-6 -29h6m-6 -2h6m-6 11h6m-6 -13h6m-5 1h6m-6 16h6m-6 16h6m-6 -14h6m-5 -35h6m-6 20h6m-5 -50h6m-6 145h6m-6 -102h6m-6 -23h6m-6 91h6m-5 -96h6m-6 45h6m-5 -15h6m-6 -5h6m-6 16h6m-6 -2h6m-5 39h6m-6 -66h6m-6 6h6m-6 26h6m-6 -20h6m-6 9h6m-6 1h6m-6 -16h6m-4 50h6m-6 12h6m-6 -98h6m-6 86h6m-5 -38h6m-6 21h6m-6 -53h6m-6 143h6m-6 -136h6m-6 13h6m-6 22h6m-5 -7h6m-6 -55h6m-5 49h6m-6 -35h6m-6 15h6m-6 26h6m-6 -43h6m-6 33h6m-5 73h6m-6 -63h6m-6 -35h6m-5 38h6m-6 -36h6m-6 62h6m-6 -57h6m-6 38h6m-6 -95h6m-6 96h6m-5 -16h6m-6 -20h6m-6 29h6m-6 45h6m-6 -38h6m-6 20h6m-6 -17h6m-5 -14h6m-6 39h6m-6 -55h6m-6 61h6m-6 -121h6m-5 52h6m-6 8h6m-6 34h6m-6 -82h6m-6 3h6m-6 63h6m-5 75h6m-6 -52h6m-6 0h6m-6 -65h6m-6 40h6m-5 -44h6m-6 -14h6m-6 33h6m-6 -36h6m-5 30h6m-6 7h6m-5 -54h6m-6 83h6m-6 -21h6m-6 22h6m-6 -41h6m-6 9h6m-6 -7h6m-5 10h6m-6 19h6m-6 -22h6m-6 8h6m-6 5h6m-6 -22h6m-6 16h6m-6 -10h6m-6 13h6m-6 -58h6m-5 68h6m-6 -68h6m-6 44h6m-6 13h6m-6 16h6m-5 -63h6m-6 21h6m-6 37h6m-6 -32h6m-6 41h6m-5 -74h6m-6 61h6m-6 -29h6m-6 -65h6m-6 26h6m-6 21h6m-5 73h6m-6 -29h6m-6 -72h6m-5 102h6m-6 -32h6m-6 -31h6m-6 -18h6m-6 63h6m-5 3h6m-6 -48h6m-6 -17h6m-6 29h6m-5 -130h6m-6 146h6m-6 9h6m-6 24h6m-5 -100h6m-6 7h6m-6 58h6m-6 -27h6m-6 -6h6m-6 21h6m-6 8h6m-5 -7h6m-6 39h6m-6 -34h6m-6 -4h6m-6 -6h6m-6 -61h6m-6 26h6m-6 17h6m-5 8h6m-6 17h6m-6 -9h6m-5 38h6m-6 -18h6m-5 -30h6m-6 21h6m-6 -31h6m-6 61h6m-6 6h6m-6 -37h6m-5 -13h6m-6 5h6m-5 -5h6m-6 3h6m-6 -68h6m-5 92h6m-6 -53h6m-6 37h6m-5 -4h6m-5 -5h6m-6 3h6m-6 -49h6m-6 36h6m-6 -28h6m-6 85h6m-5 -68h6m-6 11h6m-5 8h6m-6 -7h6m-6 -86h6m-6 94h6m-6 3h6m-5 -40h6m-6 59h6m-6 21h6m-6 -33h6m-6 -9h6m-6 -11h6m-6 16h6m-6 -10h6m-5 -9h6m-6 11h6m-6 -1h6m-6 -2h6m-5 6h6m-5 -11h6m-6 -33h6m-6 34h6m-5 -3h6m-6 16h6m-6 16h6m-6 -12h6m-6 -57h6m-6 27h6m-6 8h6m-6 45h6m-6 -14h6m-5 -65h6m-6 49h6m-6 -22h6m-6 18h6m-6 9h6m-6 -53h6m-5 16h6m-6 8h6m-6 21h6m-6 -54h6m-6 46h6m-6 26h6m-5 -22h6m-6 -21h6m-6 31h6m-5 -15h6m-6 -26h6m-6 12h6m-6 8h6m-6 17h6m-6 3h6m-6 -12h6m-6 2h6m-5 -13h6m-6 31h6m-6 -36h6m-5 -35h6m-6 93h6m-6 -32h6m-6 -21h6m-6 2h6m-6 10h6m-6 23h6m-6 16h6m-5 -48h6m-6 8h6m-6 22h6m-6 -26h6m-6 30h6m-6 -53h6m-6 26h6m-6 49h6m-5 -84h6m-6 6h6m-6 35h6m-6 -19h6m-6 -10h6m-6 9h6m-5 8h6m-6 23h6m-5 -57h6m-6 72h6m-6 -76h6m-6 37h6m-5 -6h6m-6 -4h6m-6 -53h6m-6 32h6m-6 -3h6m-5 22h6m-6 -16h6m-6 31h6m-6 -4h6m-6 -1h6m-5 -12h6m-6 -4h6m-6 27h6m-6 15h6m-6 -14h6m-6 11h6m-6 -31h6m-6 -40h6m-6 13h6m-6 32h6m-5 29h6m-6 -38h6m-6 24h6m-6 -48h6m-6 22h6m-6 26h6m-6 4h6m-6 -26h6m-6 14h6m-6 -27h6m-5 -1h6m-6 10h6m-6 -17h6m-6 27h6m-6 -6h6m-5 -13h6m-6 2h6m-6 19h6m-6 -7h6m-6 10h6m-6 -14h6m-6 4h6m-5 -13h6m-6 43h6m-6 -35h6m-6 29h6m-6 -2h6m-6 -25h6m-6 -20h6m-6 52h6m-5 -7h6m-6 -34h6m-6 38h6m-5 -17h6m-6 -21h6m-6 16h6m-6 23h6m-6 -28h6m-5 -26h6m-6 44h6m-6 -21h6m-6 -12h6m-5 14h6m-6 65h6m-6 -134h6m-6 71h6m-6 10h6m-6 -17h6m-5 39h6m-6 -46h6m-6 15h6m-6 2h6m-5 21h6m-6 4h6m-6 -45h6m-6 -43h6m-5 41h6m-6 -34h6m-6 74h6m-5 -35h6m-6 -10h6m-6 -34h6m-6 114h6m-6 -91h6m-6 8h6m-6 -15h6m-5 26h6m-6 24h6m-6 -17h6m-5 -9h6m-6 14h6m-6 2h6m-6 27h6m-6 5h6m-6 -79h6m-4 55h6m-6 -11h6m-6 33h6m-6 -90h6m-5 58h6m-6 -3h6m-6 8h6m-5 -17h6m-6 -20h6m-6 54h6m-6 -36h6m-6 4h6m-6 12h6m-6 -37h6m-6 32h6m-6 -35h6m-5 60h6m-6 -22h6m-6 3h6m-6 -5h6m-6 -16h6m-6 -1h6m-5 26h6m-6 -5h6m-6 -23h6m-6 26h6m-6 -23h6m-6 29h6m-5 -42h6m-6 25h6m-6 -7h6m-6 22h6m-5 4h6m-6 13h6m-6 -75h6m-6 52h6m-6 -9h6m-5 -12h6m-6 -17h6m-6 8h6m-6 1h6m-6 33h6m-6 2h6m-6 -23h6m-6 -20h6m-5 113h6m-6 -80h6m-6 26h6m-6 -29h6m-5 9h6m-6 57h6m-6 -78h6m-5 -55h6m-6 46h6m-6 31h6m-6 0h6m-6 -40h6m-6 34h6m-6 -26h6m-6 31h6m-6 -45h6m-5 27h6m-6 -4h6m-6 88h6m-5 -104h6m-6 34h6m-6 -19h6m-6 -3h6m-5 -12h6m-6 24h6m-5 46h6m-6 -3h6m-6 -41h6m-6 -18h6m-6 -1h6m-6 -10h6m-6 -15h6m-6 20h6m-5 -7h6m-6 -33h6m-6 100h6m-5 -47h6m-6 -42h6m-6 18h6m-5 29h6m-5 -4h6m-6 15h6m-6 -12h6m-6 -18h6m-6 -27h6m-6 -1h6m-6 21h6m-6 40h6m-6 -31h6m-6 17h6m-6 -29h6m-5 -16h6m-6 44h6m-6 10h6m-6 -39h6m-6 16h6m-6 -16h6m-6 54h6m-6 -32h6m-6 3h6m-6 3h6m-6 45h6m-5 -23h6m-6 -3h6m-6 -85h6m-6 42h6m-5 -9h6m-6 -34h6m-6 64h6m-5 -27h6m-6 56h6m-6 -57h6m-6 18h6m-6 -10h6m-6 -1h6m-5 11h6m-6 -15h6m-6 15h6m-6 -126h6m-6 118h6m-6 8h6m-5 14h6m-6 4h6m-6 -52h6m-4 21h6m-6 19h6m-6 -35h6m-6 72h6m-6 -55h6m-6 14h6m-6 -16h6m-6 29h6m-6 -44h6m-6 23h6m-5 15h6m-6 -27h6m-6 4h6m-5 0h6m-6 -34h6m-6 21h6m-6 48h6m-6 -73h6m-6 35h6m-6 10h6m-5 -13h6m-6 -7h6m-6 -1h6m-6 32h6m-6 -38h6m-6 40h6m-6 -5h6m-6 7h6m-6 12h6m-6 -37h6m-5 1h6m-6 25h6m-6 -4h6m-6 -16h6m-6 -4h6m-6 29h6m-6 6h6m-5 -47h6m-6 -3h6m-6 30h6m-5 -17h6m-6 7h6m-6 10h6m-6 -23h6m-6 -29h6m-6 73h6m-6 -52h6m-6 21h6m-6 14h6m-5 2h6m-6 -16h6m-6 -24h6m-6 20h6m-5 27h6m-6 -33h6m-6 8h6m-6 -3h6m-6 -16h6m-6 -4h6m-5 16h6m-6 -35h6m-6 51h6m-6 -28h6m-5 47h6m-6 -47h6m-6 41h6m-6 -30h6m-6 7h6m-6 9h6m-6 -26h6m-6 20h6m-6 -47h6m-5 8h6m-6 51h6m-6 -1h6m-6 -37h6m-6 37h6m-6 -13h6m-6 -4h6m-6 -3h6m-5 -14h6m-6 33h6m-6 -12h6m-6 -30h6m-6 54h6m-6 21h6m-5 -59h6m-6 -9h6m-6 19h6m-6 9h6m-5 -32h6m-6 28h6m-6 4h6m-5 -20h6m-6 -20h6m-6 37h6m-6 -27h6m-6 12h6m-6 10h6m-5 4h6m-6 -19h6m-6 21h6m-5 25h6m-6 -140h6m-6 112h6m-6 -36h6m-6 25h6m-6 -60h6m-6 40h6m-5 5h6m-6 36h6m-6 0h6m-6 2h6m-6 -47h6m-6 36h6m-6 -18h6m-6 23h6m-5 -25h6m-6 -41h6m-6 61h6m-6 9h6m-6 -72h6m-6 76h6m-5 -21h6m-6 -48h6m-6 34h6m-6 36h6m-5 9h6m-6 -30h6m-6 -44h6m-6 44h6m-6 -6h6m-5 0h6m-6 0h6m-6 -46h6m-6 41h6m-5 -42h6m-6 66h6m-6 -9h6m-6 -23h6m-6 0h6m-6 31h6m-6 -45h6m-6 25h6m-6 -7h6m-5 4h6m-6 -24h6m-6 13h6m-6 24h6m-6 -17h6m-6 20h6m-6 -18h6m-6 16h6m-6 -8h6m-6 -55h6m-6 40h6m-6 -23h6m-5 53h6m-6 -11h6m-6 -28h6m-5 10h6m-6 7h6m-6 7h6m-6 -29h6m-6 12h6m-5 31h6m-6 -14h6m-6 -24h6m-6 19h6m-6 -10h6m-6 -2h6m-5 4h6m-6 -21h6m-6 3h6m-6 22h6m-5 -15h6m-6 13h6m-6 8h6m-6 -25h6m-6 35h6m-5 2h6m-5 -44h6m-6 69h6m-6 -71h6m-6 65h6m-6 -85h6m-6 13h6m-6 11h6m-5 26h6m-6 -2h6m-6 -15h6m-6 24h6m-6 -4h6m-6 -34h6m-6 11h6m-5 23h6m-6 -13h6m-6 17h6m-6 -29h6m-6 12h6m-5 -13h6m-6 35h6m-6 -65h6m-6 42h6m-6 -1h6m-6 -36h6m-5 19h6m-6 1h6m-6 5h6m-6 13h6m-6 33h6m-6 -42h6m-5 1h6m-6 4h6m-6 11h6m-5 -6h6m-6 -21h6m-6 35h6m-6 -51h6m-6 19h6m-5 52h6m-6 -11h6m-6 -50h6m-6 57h6m-5 -52h6m-6 1h6m-6 9h6m-6 29h6m-6 -37h6m-6 18h6m-5 11h6m-6 -19h6m-6 2h6m-6 16h6m-6 -33h6m-6 8h6m-5 -9h6m-6 16h6m-6 -14h6m-5 21h6m-6 -17h6m-6 18h6m-6 7h6m-6 -39h6m-6 -33h6m-5 47h6m-6 -14h6m-6 19h6m-6 -4h6m-5 -8h6m-6 14h6m-6 -3h6m-5 -14h6m-6 23h6m-6 -12h6m-6 5h6m-6 -1h6m-6 9h6m-6 -39h6m-5 46h6m-6 -9h6m-6 -11h6m-6 -15h6m-6 35h6m-6 -11h6m-5 -15h6m-6 1h6m-6 10h6m-6 0h6m-6 -7h6m-6 13h6m-6 18h6m-6 -51h6m-6 21h6m-6 -5h6m-6 22h6m-5 -15h6m-6 12h6m-6 -39h6m-5 15h6m-6 -10h6m-6 25h6m-6 -3h6m-6 -30h6m-6 32h6m-6 17h6m-6 -16h6m-6 -38h6m-6 12h6m-5 29h6m-6 9h6m-5 -18h6m-6 11h6m-6 -13h6m-6 8h6m-5 3h6m-6 -22h6m-6 13h6m-6 -23h6m-6 51h6m-6 -33h6m-6 -8h6m-6 24h6m-5 0h6m-6 -41h6m-6 34h6m-5 -1h6m-6 -5h6m-6 -39h6m-6 44h6m-5 -3h6m-6 -26h6m-6 11h6m-5 26h6m-6 0h6m-5 42h6m-6 -40h6m-6 -37h6m-6 21h6m-6 -5h6m-6 -9h6m-6 5h6m-5 -21h6m-6 26h6m-6 -21h6m-6 25h6m-6 -9h6m-6 -2h6m-6 2h6m-6 -13h6m-5 22h6m-6 -52h6m-6 30h6m-5 41h6m-6 -38h6m-5 16h6m-6 29h6m-6 -31h6m-6 -33h6m-6 37h6m-6 -14h6m-6 13h6m-5 15h6m-6 -3h6m-6 -43h6m-6 7h6m-6 5h6m-6 66h6m-6 -58h6m-6 -10h6m-5 12h6m-6 -14h6m-6 -9h6m-6 18h6m-5 16h6m-6 40h6m-6 -45h6m-6 24h6m-6 -9h6m-6 -17h6m-6 1h6m-6 55h6m-5 -78h6m-6 8h6m-5 1h6m-6 -5h6m-5 49h6m-6 -50h6m-5 1h6m-6 -10h6m-6 31h6m-6 -8h6m-6 -40h6m-5 27h6m-6 21h6m-5 -15h6m-6 40h6m-6 -31h6m-6 -37h6m-6 33h6m-6 27h6m-5 10h6m-6 -49h6m-6 -23h6m-6 62h6m-6 -42h6m-6 1h6m-6 26h6m-5 -12h6m-6 -9h6m-6 47h6m-6 -34h6m-6 -5h6m-6 -13h6m-6 -1h6m-6 49h6m-6 -23h6m-6 18h6m-5 -9h6m-6 -19h6m-6 -33h6m-6 11h6m-6 17h6m-6 28h6m-6 -42h6m-6 17h6m-5 4h6m-6 -9h6m-6 18h6m-6 -24h6m-6 -11h6m-6 33h6m-5 37h6m-6 -48h6m-6 -18h6m-6 20h6m-6 -17h6m-5 -18h6m-6 52h6m-6 -29h6m-6 -7h6m-6 14h6m-5 -48h6m-5 51h6m-6 1h6m-6 -10h6m-6 3h6m-6 -11h6m-5 6h6m-6 17h6m-6 -22h6m-6 11h6m-6 -32h6m-6 12h6m-6 25h6m-5 20h6m-6 -16h6m-6 -25h6m-6 0h6m-6 7h6m-6 -1h6m-5 15h6m-6 -5h6m-6 -28h6m-6 -3h6m-5 12h6m-6 23h6m-6 -6h6m-6 -32h6m-6 16h6m-6 -9h6m-6 -2h6m-5 -39h6m-6 107h6m-6 -63h6m-6 52h6m-6 -50h6m-6 29h6m-6 28h6m-6 -17h6m-6 -53h6m-6 27h6m-5 -32h6m-6 19h6m-6 -12h6m-5 37h6m-6 -4h6m-6 2h6m-6 -11h6m-6 -17h6m-5 -15h6m-6 42h6m-6 -1h6m-6 40h6m-6 -63h6m-6 20h6m-5 -2h6m-6 -12h6m-6 -3h6m-6 -5h6m-6 22h6m-6 7h6m-6 -19h6m-6 33h6m-5 -26h6m-6 -3h6m-6 -11h6m-6 -5h6m-6 26h6m-6 13h6m-6 -43h6m-6 40h6m-5 61h6m-6 -97h6m-6 16h6m-6 1h6m-6 1h6m-6 19h6m-5 -17h6m-6 27h6m-6 19h6m-6 -62h6m-5 12h6m-6 -7h6m-6 -5h6m-6 -16h6m-6 13h6m-6 31h6m-5 -55h6m-6 25h6m-6 10h6m-5 0h6m-6 13h6m-6 -46h6m-6 23h6m-6 -41h6m-6 60h6m-5 21h6m-6 -46h6m-6 -2h6m-6 11h6m-6 6h6m-6 -9h6m-6 19h6m-6 -1h6m-6 -11h6m-5 -9h6m-6 -1h6m-6 29h6m-6 -37h6m-5 26h6m-6 -41h6m-6 12h6m-6 -21h6m-6 75h6m-6 -38h6m-5 14h6m-6 -22h6m-6 -25h6m-6 70h6m-6 -42h6m-6 9h6m-6 28h6m-5 -31h6m-6 14h6m-6 -40h6m-5 29h6m-6 15h6m-6 -18h6m-6 -22h6m-6 9h6m-5 35h6m-6 2h6m-5 -57h6m-6 25h6m-6 -1h6m-6 13h6m-6 -8h6m-6 42h6m-6 -42h6m-5 -26h6m-6 24h6m-6 -11h6m-6 18h6m-6 -31h6m-6 27h6m-6 -26h6m-6 26h6m-5 -3h6m-6 16h6m-6 -17h6m-5 10h6m-5 -22h6m-6 22h6m-6 -22h6m-5 -38h6m-6 45h6m-6 20h6m-6 -19h6m-5 -4h6m-6 -5h6m-6 -12h6m-6 9h6m-6 8h6m-6 43h6m-6 -38h6m-5 18h6m-6 -23h6m-6 -17h6m-6 25h6m-6 5h6m-5 -18h6m-6 16h6m-6 -2h6m-6 -33h6m-6 8h6m-5 92h6m-6 -65h6m-6 -19h6m-6 10h6m-6 -12h6m-6 -4h6m-6 21h6m-5 -23h6m-6 -7h6m-6 29h6m-6 -37h6m-5 22h6m-6 -10h6m-6 36h6m-6 -7h6m-5 -6h6m-6 20h6m-6 -34h6m-6 18h6m-6 -23h6m-6 11h6m-5 -41h6m-6 58h6m-6 -13h6m-6 3h6m-6 49h6m-6 -68h6m-6 23h6m-5 -8h6m-6 -18h6m-6 -11h6m-6 11h6m-6 0h6m-6 8h6m-6 22h6m-5 4h6m-6 -4h6m-6 -38h6m-6 -6h6m-6 8h6m-6 17h6m-5 13h6m-6 -12h6m-6 -18h6m-6 22h6m-6 4h6m-6 3h6m-5 20h6m-6 -34h6m-6 -30h6m-6 72h6m-6 -47h6m-6 26h6m-6 -21h6m-6 3h6m-5 8h6m-6 -32h6m-6 4h6m-6 5h6m-5 -2h6m-6 26h6m-6 -8h6m-5 11h6m-6 -31h6m-6 27h6m-6 5h6m-6 -25h6m-6 8h6m-6 16h6m-6 16h6m-5 -61h6m-6 29h6m-6 52h6m-6 -26h6m-6 -31h6m-5 5h6m-6 -5h6m-6 22h6m-6 -23h6m-6 32h6m-5 -23h6m-6 -27h6m-6 -1h6m-6 1h6m-6 28h6m-6 -17h6m-6 37h6m-5 -31h6m-6 35h6m-6 2h6m-6 -38h6m-6 -40h6m-6 20h6m-6 28h6m-6 -5h6m-5 -17h6m-6 16h6m-6 -4h6m-6 -11h6m-6 27h6m-5 -7h6m-6 17h6m-6 -46h6m-6 30h6m-6 -13h6m-6 -23h6m-5 -11h6m-6 52h6m-6 -34h6m-6 24h6m-6 22h6m-5 -8h6m-6 10h6m-6 -35h6m-6 32h6m-5 -24h6m-6 -26h6m-6 52h6m-6 -11h6m-5 -17h6m-6 -37h6m-6 39h6m-6 -13h6m-6 17h6m-5 -1h6m-6 20h6m-5 -27h6m-6 30h6m-6 -27h6m-6 -9h6m-6 -27h6m-6 23h6m-6 15h6m-6 1h6m-6 16h6m-5 -38h6m-6 8h6m-6 38h6m-6 -35h6m-6 -20h6m-5 20h6m-6 -1h6m-6 -11h6m-5 32h6m-6 -30h6m-6 22h6m-6 9h6m-5 -57h6m-6 43h6m-6 -4h6m-6 24h6m-6 16h6m-6 -25h6m-5 -2h6m-6 -9h6m-6 8h6m-5 3h6m-6 -41h6m-6 34h6m-6 -8h6m-6 -1h6m-5 12h6m-6 -9h6m-6 -26h6m-6 26h6m-6 -9h6m-5 -3h6m-6 19h6m-6 -17h6m-6 -10h6m-6 2h6m-5 4h6m-6 19h6m-6 -11h6m-6 6h6m-6 -4h6m-6 37h6m-5 -22h6m-6 -20h6m-6 -10h6m-6 18h6m-6 2h6m-6 5h6m-5 -10h6m-6 12h6m-6 -19h6m-6 -12h6m-6 -3h6m-6 -9h6m-5 12h6m-6 11h6m-6 -11h6m-5 7h6m-6 29h6m-6 -35h6m-6 7h6m-6 20h6m-6 -31h6m-6 44h6m-6 4h6m-6 1h6m-6 -29h6m-5 9h6m-6 -13h6m-6 7h6m-6 -10h6m-6 7h6m-5 0h6m-6 -11h6m-6 7h6m-5 5h6m-6 -26h6m-6 22h6m-6 6h6m-6 -31h6m-6 29h6m-6 6h6m-6 -44h6m-5 29h6m-6 -12h6m-6 10h6m-6 3h6m-6 9h6m-6 -39h6m-5 28h6m-6 -15h6m-5 -1h6m-6 21h6m-6 -8h6m-6 -20h6m-6 18h6m-6 2h6m-5 -19h6m-6 2h6m-6 25h6m-6 6h6m-6 -25h6m-5 -4h6m-6 19h6m-6 -13h6m-6 13h6m-6 3h6m-5 9h6m-6 -2h6m-6 -40h6m-6 28h6m-6 -12h6m-5 5h6m-5 -6h6m-6 1h6m-5 9h6m-6 -43h6m-6 22h6m-6 28h6m-6 -34h6m-6 28h6m-6 -1h6m-6 7h6m-5 -18h6m-6 15h6m-6 -19h6m-5 28h6m-6 -27h6m-6 4h6m-6 25h6m-6 11h6m-6 -53h6m-5 33h6m-6 -27h6m-6 40h6m-6 -19h6m-6 -7h6m-6 62h6m-5 -72h6m-6 1h6m-6 -1h6m-6 -2h6m-6 26h6m-6 11h6m-6 -28h6m-6 20h6m-6 -11h6m-5 -13h6m-6 15h6m-6 14h6m-6 8h6m-5 -21h6m-6 24h6m-6 -32h6m-6 39h6m-5 -50h6m-6 6h6m-6 4h6m-6 -5h6m-6 34h6m-6 -30h6m-6 -11h6m-5 2h6m-6 15h6m-6 27h6m-6 -46h6m-6 36h6m-6 -43h6m-6 35h6m-5 -11h6m-6 40h6m-6 -30h6m-6 27h6m-6 -26h6m-6 8h6m-6 -26h6m-6 1h6m-6 -22h6m-5 28h6m-6 -6h6m-6 18h6m-6 -59h6m-6 28h6m-6 13h6m-6 -14h6m-5 19h6m-6 -14h6m-6 -7h6m-6 11h6m-6 16h6m-6 -27h6m-6 3h6m-5 15h6m-6 -18h6m-6 18h6m-6 -7h6m-6 3h6m-6 15h6m-6 -37h6m-6 24h6m-5 -6h6m-6 17h6m-6 -67h6m-6 53h6m-5 -3h6m-6 7h6m-6 -42h6m-6 43h6m-6 33h6m-6 -41h6m-6 -15h6m-5 -2h6m-6 18h6m-6 32h6m-5 -86h6m-6 70h6m-6 -70h6m-6 43h6m-6 -2h6m-6 35h6m-5 -34h6m-6 19h6m-6 32h6m-6 -25h6m-6 -35h6m-6 -11h6m-5 41h6m-6 -15h6m-6 -16h6m-6 5h6m-6 31h6m-6 -11h6m-6 -6h6m-5 4h6m-6 45h6m-6 -79h6m-6 35h6m-6 -22h6m-6 20h6m-5 3h6m-6 17h6m-5 -26h6m-6 -7h6m-6 14h6m-6 -33h6m-6 22h6m-5 -3h6m-6 1h6m-6 -21h6m-6 17h6m-6 -14h6m-6 34h6m-6 -22h6m-6 32h6m-5 -15h6m-6 -19h6m-6 -5h6m-6 28h6m-6 62h6m-5 -53h6m-6 -14h6m-5 -8h6m-6 8h6m-6 -10h6m-6 9h6m-6 0h6m-6 11h6m-5 -33h6m-6 5h6m-6 8h6m-6 -7h6m-6 17h6m-6 -6h6m-5 -1h6m-6 -13h6m-6 18h6m-6 12h6m-6 -13h6m-5 -20h6m-6 4h6m-6 49h6m-6 -27h6m-6 -5h6m-6 -34h6m-6 0h6m-6 34h6m-6 -27h6m-5 19h6m-6 8h6m-6 0h6m-6 -9h6m-6 11h6m-6 -26h6m-6 18h6m-6 -10h6m-5 12h6m-6 -3h6m-6 2h6m-6 -4h6m-6 29h6m-6 -29h6m-5 -19h6m-5 17h6m-6 2h6m-6 -25h6m-6 44h6m-6 -14h6m-6 5h6m-6 -15h6m-6 21h6m-5 -6h6m-6 -4h6m-6 7h6m-5 -13h6m-6 16h6m-6 -1h6m-6 -26h6m-6 15h6m-5 -51h6m-6 33h6m-6 -20h6m-6 98h6m-6 -60h6m-6 -35h6m-5 15h6m-6 34h6m-6 -32h6m-6 -5h6m-6 12h6m-6 5h6m-6 -5h6m-5 1h6m-6 10h6m-6 -8h6m-5 -22h6m-6 43h6m-6 -34h6m-6 4h6m-6 7h6m-6 28h6m-6 -19h6m-5 42h6m-6 -21h6m-6 -38h6m-6 11h6m-6 -8h6m-5 -1h6m-6 53h6m-5 -26h6m-6 -23h6m-6 17h6m-6 -15h6m-6 -14h6m-6 23h6m-6 -20h6m-5 -34h6m-6 32h6m-6 18h6m-6 -27h6m-6 23h6m-5 6h6m-6 -44h6m-6 32h6m-6 25h6m-6 -39h6m-5 15h6m-6 4h6m-6 -15h6m-6 5h6m-5 -13h6m-6 41h6m-6 -13h6m-5 -19h6m-6 26h6m-6 -14h6m-6 -10h6m-5 -14h6m-6 -8h6m-6 31h6m-6 10h6m-6 -28h6m-5 2h6m-5 32h6m-6 -6h6m-6 0h6m-6 -34h6m-6 7h6m-6 18h6m-5 -21h6m-6 -3h6m-6 47h6m-6 -10h6m-5 -32h6m-6 27h6m-6 -29h6m-6 0h6m-6 20h6m-6 5h6m-6 -58h6m-6 40h6m-5 16h6m-6 -26h6m-6 15h6m-6 -16h6m-6 -10h6m-6 73h6m-5 -40h6m-6 -4h6m-6 -9h6m-6 9h6m-6 -5h6m-6 -7h6m-6 -5h6m-6 3h6m-5 15h6m-6 1h6m-6 -1h6m-6 12h6m-6 -26h6m-6 -21h6m-5 37h6m-6 -2h6m-6 25h6m-6 -52h6m-6 24h6m-5 -6h6m-6 31h6m-6 -20h6m-6 8h6m-6 -30h6m-5 25h6m-6 20h6m-6 -37h6m-5 1h6m-6 11h6m-6 -2h6m-6 -8h6m-6 2h6m-5 -16h6m-6 40h6m-6 -45h6m-6 27h6m-5 -4h6m-6 -33h6m-6 -11h6m-6 23h6m-6 27h6m-6 -17h6m-6 19h6m-6 -8h6m-5 5h6m-6 -41h6m-6 9h6m-6 25h6m-6 -14h6m-6 11h6m-6 3h6m-6 7h6m-5 -7h6m-6 20h6m-6 -32h6m-6 21h6m-6 -50h6m-6 50h6m-5 -58h6m-6 -30h6m-6 77h6m-6 -24h6m-6 -10h6m-5 15h6m-6 2h6m-6 22h6m-6 -8h6m-5 9h6m-6 -62h6m-6 79h6m-6 -27h6m-6 44h6m-6 -63h6m-6 -13h6m-5 40h6m-6 3h6m-6 -2h6m-6 -34h6m-5 15h6m-6 25h6m-6 -7h6m-6 -12h6m-6 13h6m-5 24h6m-6 -52h6m-6 -6h6m-5 36h6m-6 -4h6m-6 -33h6m-5 19h6m-6 -35h6m-6 41h6m-6 5h6m-5 -43h6m-6 50h6m-6 -4h6m-6 -14h6m-5 44h6m-6 -45h6m-6 -43h6m-6 14h6m-6 47h6m-6 -20h6m-5 16h6m-6 -4h6m-6 0h6m-6 -19h6m-6 -4h6m-5 -34h6m-6 48h6m-6 13h6m-6 -20h6m-6 20h6m-5 -38h6m-6 13h6m-6 34h6m-6 -38h6m-6 29h6m-6 -16h6m-6 9h6m-6 -16h6m-6 16h6m-5 -45h6m-6 20h6m-6 -4h6m-6 63h6m-6 -35h6m-6 3h6m-6 -28h6m-5 -23h6m-6 47h6m-6 23h6m-6 -15h6m-5 -27h6m-6 13h6m-5 -3h6m-6 -12h6m-6 22h6m-6 -17h6m-5 7h6m-6 23h6m-5 -26h6m-6 42h6m-5 -33h6m-6 -19h6m-6 -2h6m-6 17h6m-6 -17h6m-6 10h6m-6 -3h6m-6 -22h6m-5 26h6m-6 -3h6m-6 -7h6m-6 9h6m-6 1h6m-6 -7h6m-6 -35h6m-6 31h6m-5 2h6m-6 24h6m-6 -34h6m-6 26h6m-6 12h6m-5 -49h6m-6 38h6m-6 -32h6m-6 38h6m-6 2h6m-6 -49h6m-6 32h6m-6 -5h6m-6 41h6m-5 -61h6m-6 25h6m-6 3h6m-5 -26h6m-6 14h6m-6 -9h6m-6 22h6m-6 -19h6m-6 17h6m-5 25h6m-6 -31h6m-6 76h6m-6 -115h6m-6 19h6m-6 19h6m-6 -5h6m-6 135h6m-6 -114h6m-5 -26h6m-5 18h6m-6 -27h6m-6 18h6m-5 0h6m-6 2h6m-6 -33h6m-6 18h6m-6 65h6m-5 -81h6m-6 16h6m-5 29h6m-6 -35h6m-6 29h6m-5 -11h6m-6 -7h6m-6 4h6m-6 -10h6m-6 -12h6m-6 24h6m-4 37h6m-6 37h6m-6 -108h6m-6 36h6m-6 10h6m-5 5h6m-6 4h6m-6 -69h6m-6 49h6m-6 8h6m-6 -47h6m-5 30h6m-6 -8h6m-6 15h6m-5 15h6m-6 -42h6m-6 30h6m-6 18h6m-6 -6h6m-6 -17h6m-6 -28h6m-5 29h6m-6 35h6m-6 -41h6m-6 14h6m-6 -17h6m-5 7h6m-6 -8h6m-6 2h6m-5 22h6m-5 -4h6m-6 -17h6m-6 36h6m-6 -122h6m-6 78h6m-5 18h6m-6 -10h6m-6 -8h6m-6 -6h6m-6 20h6m-6 -5h6m-6 9h6m-6 -10h6m-6 -1h6m-5 -33h6m-6 59h6m-6 -24h6m-6 -21h6m-6 27h6m-5 -20h6m-6 -6h6m-6 23h6m-6 -17h6m-6 -21h6m-5 5h6m-6 28h6m-6 -12h6m-6 18h6m-6 -32h6m-6 31h6m-6 -7h6m-6 -3h6m-5 65h6m-6 -78h6m-6 13h6m-6 -24h6m-6 45h6m-5 -27h6m-6 24h6m-6 -120h6m-6 92h6m-6 0h6m-6 20h6m-5 -19h6m-6 37h6m-6 -32h6m-6 11h6m-6 -2h6m-6 -29h6m-5 21h6m-6 -12h6m-6 6h6m-6 -10h6m-6 44h6m-6 -9h6m-6 -19h6m-6 -13h6m-6 10h6m-5 -3h6m-6 -16h6m-6 24h6m-6 -8h6m-6 30h6m-5 4h6m-6 -34h6m-6 17h6m-6 -5h6m-5 6h6m-6 4h6m-6 -25h6m-6 -31h6m-6 26h6m-5 -68h6m-6 95h6m-6 28h6m-6 -57h6m-6 -17h6m-6 13h6m-6 19h6m-5 -16h6m-6 7h6m-6 -14h6m-6 7h6m-6 52h6m-5 -29h6m-6 -14h6m-6 -2h6m-6 -9h6m-6 54h6m-5 -20h6m-6 8h6m-6 -23h6m-6 4h6m-5 -35h6m-6 44h6m-6 -9h6m-6 -14h6m-6 11h6m-6 2h6m-5 -15h6m-6 -125h6m-6 163h6m-6 -44h6m-6 -6h6m-6 16h6m-5 -2h6m-6 64h6m-6 -69h6m-6 -12h6m-6 7h6m-5 30h6m-5 -20h6m-6 -9h6m-6 40h6m-6 -35h6m-6 -22h6m-5 0h6m-6 43h6m-6 -14h6m-6 -3h6m-6 -14h6m-6 70h6m-5 -64h6m-6 -13h6m-6 24h6m-6 -8h6m-6 0h6m-6 -10h6m-6 12h6m-5 11h6m-6 6h6m-6 -13h6m-6 8h6m-6 29h6m-6 -56h6m-5 31h6m-6 56h6m-6 -56h6m-6 36h6m-5 -18h6m-6 -35h6m-6 19h6m-5 -28h6m-6 15h6m-6 0h6m-6 -7h6m-5 27h6m-6 -16h6m-6 -18h6m-5 35h6m-6 -18h6m-6 -18h6m-5 6h6m-6 14h6m-6 -1h6m-6 -15h6m-6 -7h6m-5 53h6m-6 -2h6m-5 -21h6m-6 -21h6m-6 10h6m-6 31h6m-6 -21h6m-6 -17h6m-6 -16h6m-6 28h6m-6 24h6m-6 -19h6m-5 -25h6m-6 -13h6m-6 9h6m-6 17h6m-6 -26h6m-6 30h6m-5 -17h6m-6 9h6m-6 1h6m-6 -12h6m-6 13h6m-5 -5h6m-6 3h6m-6 5h6m-6 12h6m-6 12h6m-6 -11h6m-6 5h6m-6 2h6m-6 -27h6m-6 3h6m-6 -15h6m-5 11h6m-6 0h6m-6 15h6m-5 -23h6m-6 4h6m-6 16h6m-6 -25h6m-6 8h6m-6 -8h6m-6 -11h6m-6 19h6m-6 -41h6m-6 64h6m-6 -11h6m-6 -43h6m-5 35h6m-6 -31h6m-6 35h6m-6 9h6m-6 16h6m-6 -37h6m-6 -6h6m-6 46h6m-6 -18h6m-5 -51h6m-6 47h6m-6 -35h6m-6 9h6m-6 10h6m-6 -18h6m-6 4h6m-5 -45h6m-6 91h6m-6 -23h6m-6 -20h6m-6 28h6m-6 -17h6m-6 4h6m-6 -20h6m-5 3h6m-6 29h6m-6 -19h6m-6 -24h6m-6 39h6m-6 -15h6m-5 26h6m-6 -9h6m-6 -26h6m-6 12h6m-6 -1h6m-6 3h6m-6 -17h6m-5 25h6m-6 -33h6m-6 16h6m-6 -2h6m-6 34h6m-5 -36h6m-6 2h6m-6 -26h6m-6 40h6m-6 -6h6m-6 41h6m-6 -62h6m-5 26h6m-6 -28h6m-6 1h6m-6 44h6m-6 -35h6m-5 27h6m-6 14h6m-6 -73h6m-6 68h6m-6 -88h6m-6 61h6m-6 -21h6m-5 0h6m-6 12h6m-6 52h6m-6 -40h6m-6 9h6m-6 -8h6m-5 -1h6m-6 -8h6m-6 21h6m-6 -12h6m-6 -9h6m-6 -12h6m-6 12h6m-5 43h6m-6 -40h6m-6 2h6m-6 23h6m-6 -33h6m-6 5h6m-5 -26h6m-6 43h6m-6 -14h6m-6 7h6m-6 20h6m-6 -25h6m-5 -24h6m-6 31h6m-6 -37h6m-6 16h6m-5 4h6m-6 -4h6m-6 13h6m-6 -2h6m-6 0h6m-6 26h6m-5 -53h6m-6 43h6m-6 -9h6m-6 -12h6m-5 -8h6m-6 15h6m-6 -22h6m-6 19h6m-5 0h6m-6 -26h6m-6 45h6m-6 -19h6m-5 11h6m-6 5h6m-6 -14h6m-6 8h6m-6 -8h6m-6 -25h6m-6 21h6m-6 -9h6m-5 -4h6m-6 -8h6m-6 27h6m-6 15h6m-6 -16h6m-6 10h6m-6 10h6m-5 -34h6m-6 8h6m-6 -2h6m-5 31h6m-6 -15h6m-6 -13h6m-6 18h6m-6 0h6m-6 -7h6m-6 17h6m-6 -17h6m-6 -15h6m-5 -28h6m-6 19h6m-6 17h6m-5 -19h6m-6 52h6m-6 -46h6m-6 29h6m-6 -15h6m-6 14h6m-6 -42h6m-6 34h6m-5 -16h6m-6 -20h6m-6 14h6m-6 5h6m-5 -14h6m-6 -11h6m-6 6h6m-6 38h6m-6 -24h6m-6 19h6m-6 -10h6m-6 -11h6m-5 -6h6m-6 9h6m-6 -62h6m-6 117h6m-6 -28h6m-5 3h6m-6 -16h6m-6 -23h6m-6 27h6m-6 -41h6m-6 33h6m-6 -6h6m-6 5h6m-6 -2h6m-5 5h6m-6 -1h6m-6 -63h6m-6 59h6m-6 23h6m-5 -59h6m-6 37h6m-5 1h6m-6 16h6m-6 -22h6m-6 14h6m-6 -29h6m-5 8h6m-6 -7h6m-6 29h6m-6 -24h6m-6 -3h6m-5 16h6m-6 18h6m-6 -59h6m-6 50h6m-6 -12h6m-6 -15h6m-6 -29h6m-6 24h6m-5 42h6m-6 -21h6m-6 -5h6m-5 -20h6m-6 12h6m-6 -8h6m-6 -5h6m-6 39h6m-6 -58h6m-6 12h6m-5 26h6m-6 -47h6m-6 6h6m-5 72h6m-6 -52h6m-6 8h6m-6 27h6m-6 -1h6m-6 -11h6m-5 11h6m-6 -2h6m-6 4h6m-6 -11h6m-6 -6h6m-6 -6h6m-6 109h6m-5 -77h6m-6 -48h6m-6 17h6m-6 19h6m-6 -57h6m-6 34h6m-6 9h6m-6 -27h6m-5 35h6m-6 -10h6m-6 6h6m-6 5h6m-6 -32h6m-5 -6h6m-6 2h6m-6 60h6m-6 -21h6m-5 -19h6m-6 2h6m-6 12h6m-6 -24h6m-5 12h6m-6 -2h6m-6 -1h6m-6 41h6m-6 -47h6m-5 19h6m-6 -1h6m-6 -39h6m-5 30h6m-6 -2h6m-6 4h6m-5 10h6m-6 -2h6m-6 -12h6m-6 -7h6m-6 -28h6m-6 46h6m-6 -19h6m-6 29h6m-5 -26h6m-6 4h6m-6 3h6m-6 4h6m-6 -35h6m-5 32h6m-6 -4h6m-6 28h6m-5 -22h6m-6 17h6m-6 -20h6m-5 -33h6m-6 49h6m-6 12h6m-6 -11h6m-6 3h6m-6 -38h6m-6 46h6m-6 -17h6m-6 -5h6m-6 6h6m-5 -7h6m-6 10h6m-6 -19h6m-5 9h6m-6 17h6m-6 -12h6m-5 -24h6m-6 -27h6m-5 18h6m-6 33h6m-6 -3h6m-6 -15h6m-5 11h6m-6 5h6m-6 -14h6m-6 18h6m-6 -63h6m-6 57h6m-6 5h6m-6 -25h6m-6 80h6m-6 -64h6m-6 14h6m-5 -6h6m-6 -19h6m-6 7h6m-6 -10h6m-5 18h6m-6 -39h6m-6 4h6m-6 77h6m-6 -76h6m-6 17h6m-5 23h6m-6 -1h6m-6 -60h6m-6 50h6m-6 -35h6m-5 68h6m-6 -60h6m-6 -2h6m-6 7h6m-6 21h6m-6 -3h6m-6 3h6m-6 -22h6m-6 25h6m-5 6h6m-6 -39h6m-6 18h6m-6 17h6m-6 -20h6m-6 -10h6m-5 39h6m-6 -31h6m-6 27h6m-6 5h6m-6 -24h6m-6 15h6m-5 20h6m-6 -54h6m-6 3h6m-6 9h6m-6 17h6m-6 5h6m-6 -34h6m-6 59h6m-6 -38h6m-5 1h6m-6 -26h6m-6 3h6m-6 12h6m-6 1h6m-6 2h6m-6 35h6m-6 -26h6m-6 -69h6m-5 81h6m-6 -18h6m-6 -13h6m-6 21h6m-6 -30h6m-6 10h6m-6 0h6m-6 11h6m-6 19h6m-5 -20h6m-6 -12h6m-5 27h6m-6 -19h6m-6 13h6m-6 -7h6m-6 -35h6m-5 17h6m-6 26h6m-6 -35h6m-6 8h6m-6 38h6m-5 -16h6m-6 1h6m-6 -11h6m-6 12h6m-6 -33h6m-6 14h6m-5 39h6m-5 -48h6m-6 27h6m-6 -24h6m-6 -10h6m-6 32h6m-5 -77h6m-6 43h6m-6 13h6m-6 8h6m-6 22h6m-5 0h6m-6 -12h6m-6 -21h6m-6 50h6m-5 -38h6m-6 -2h6m-6 18h6m-6 -13h6m-6 -33h6m-5 23h6m-6 -27h6m-6 37h6m-6 -16h6m-6 21h6m-6 8h6m-6 -31h6m-6 -16h6m-6 34h6m-5 17h6m-6 -66h6m-6 8h6m-6 6h6m-6 61h6m-6 -38h6m-6 25h6m-6 -45h6m-5 27h6m-6 -10h6m-6 29h6m-6 -18h6m-6 17h6m-5 -6h6m-6 -26h6m-6 69h6m-5 -131h6m-6 85h6m-6 -37h6m-6 14h6m-6 16h6m-6 -4h6m-5 -4h6m-6 24h6m-6 -15h6m-6 30h6m-6 -22h6m-5 -27h6m-6 7h6m-6 9h6m-6 -29h6m-6 55h6m-6 -30h6m-6 39h6m-5 -49h6m-5 -6h6m-6 -13h6m-6 16h6m-6 21h6m-6 -22h6m-6 -11h6m-6 21h6m-6 26h6m-6 11h6m-6 -30h6m-5 3h6m-6 -2h6m-6 -6h6m-6 38h6m-5 -104h6m-6 75h6m-6 -22h6m-6 -4h6m-6 7h6m-5 39h6m-6 -34h6m-6 -101h6m-6 107h6m-6 32h6m-6 -38h6m-5 11h6m-6 -26h6m-6 18h6m-6 6h6m-6 3h6m-6 61h6m-6 -91h6m-6 29h6m-5 -52h6m-6 60h6m-6 -11h6m-6 -1h6m-6 -20h6m-6 21h6m-6 -15h6m-6 66h6m-6 -65h6m-5 -8h6m-6 39h6m-6 -23h6m-6 -29h6m-6 29h6m-6 19h6m-6 -31h6m-6 -15h6m-5 37h6m-6 4h6m-6 -17h6m-6 -7h6m-6 18h6m-6 59h6m-6 -28h6m-6 49h6m-6 -107h6m-5 104h6m-6 -90h6m-6 -20h6m-6 3h6m-6 0h6m-6 6h6m-6 -18h6m-5 63h6m-6 -46h6m-6 54h6m-6 -45h6m-6 7h6m-5 52h6m-6 -2h6m-6 -34h6m-6 12h6m-6 -2h6m-5 2h6m-6 -13h6m-6 2h6m-6 55h6m-6 -60h6m-5 12h6m-6 -43h6m-5 13h6m-6 -6h6m-6 -35h6m-6 34h6m-5 -6h6m-6 9h6m-5 54h6m-6 -39h6m-5 -4h6m-6 -24h6m-6 28h6m-6 -8h6m-6 10h6m-5 -7h6m-6 13h6m-6 -62h6m-5 55h6m-6 -17h6m-6 -11h6m-6 -7h6m-6 3h6m-5 37h6m-6 -2h6m-6 -21h6m-6 9h6m-5 -11h6m-6 -1h6m-6 -5h6m-6 22h6m-6 24h6m-6 -68h6m-5 41h6m-6 16h6m-6 -2h6m-6 19h6m-6 -31h6m-6 -32h6m-6 35h6m-5 15h6m-6 -28h6m-6 51h6m-6 -101h6m-6 89h6m-6 -4h6m-5 -64h6m-6 42h6m-6 -65h6m-6 40h6m-6 90h6m-6 -69h6m-5 -15h6m-6 -13h6m-6 -8h6m-6 11h6m-6 -16h6m-6 38h6m-5 -43h6m-6 53h6m-6 -36h6m-6 31h6m-6 -25h6m-6 12h6m-5 -18h6m-6 38h6m-6 -3h6m-6 -36h6m-6 -7h6m-5 -3h6m-6 28h6m-6 -13h6m-6 42h6m-6 -17h6m-6 -51h6m-5 49h6m-6 18h6m-6 -51h6m-6 41h6m-6 -3h6m-6 -4h6m-6 -9h6m-6 30h6m-6 -2h6m-5 6h6m-6 -33h6m-6 41h6m-6 -79h6m-6 8h6m-5 68h6m-6 -42h6m-6 9h6m-6 2h6m-6 16h6m-6 -56h6m-6 112h6m-5 -110h6m-6 58h6m-5 -38h6m-6 -24h6m-5 47h6m-6 -19h6m-6 -13h6m-6 15h6m-6 -23h6m-6 30h6m-6 -16h6m-6 53h6m-5 -29h6m-6 13h6m-6 -11h6m-6 16h6m-6 -23h6m-6 41h6m-6 -148h6m-6 95h6m-6 -2h6m-6 -5h6m-6 18h6m-6 14h6m-5 1h6m-6 -29h6m-5 -52h6m-6 44h6m-6 38h6m-6 -39h6m-5 63h6m-6 -33h6m-6 -15h6m-6 -13h6m-6 56h6m-6 -69h6m-6 31h6m-6 -25h6m-6 41h6m-6 7h6m-5 -57h6m-6 8h6m-5 10h6m-6 -3h6m-6 29h6m-6 -64h6m-6 27h6m-6 18h6m-5 -18h6m-6 -11h6m-6 4h6m-6 47h6m-5 -35h6m-6 -7h6m-6 30h6m-6 -4h6m-6 -22h6m-6 23h6m-6 -22h6m-5 -3h6m-6 -73h6m-6 78h6m-6 17h6m-6 14h6m-5 -26h6m-6 1h6m-6 -12h6m-6 16h6m-6 8h6m-5 -32h6m-6 2h6m-6 15h6m-6 4h6m-5 -6h6m-6 26h6m-6 10h6m-5 -48h6m-6 9h6m-6 12h6m-6 96h6m-6 -68h6m-6 -28h6m-6 -61h6m-5 29h6m-6 24h6m-6 7h6m-5 -25h6m-6 16h6m-6 -1h6m-6 -8h6m-6 8h6m-6 39h6m-6 -57h6m-5 30h6m-6 -33h6m-6 43h6m-6 13h6m-6 -33h6m-6 37h6m-6 -33h6m-5 -36h6m-6 70h6m-6 -38h6m-6 16h6m-6 0h6m-5 26h6m-6 -58h6m-6 26h6m-5 -26h6m-6 8h6m-6 6h6m-6 0h6m-6 8h6m-5 -4h6m-6 0h6m-6 -18h6m-6 40h6m-6 -29h6m-6 33h6m-5 15h6m-6 -83h6m-6 125h6m-6 -93h6m-6 2h6m-6 2h6m-5 19h6m-6 -52h6m-6 35h6m-6 36h6m-6 -29h6m-6 8h6m-6 29h6m-5 -32h6m-6 19h6m-6 18h6m-5 -70h6m-6 -33h6m-6 106h6m-6 -21h6m-5 -3h6m-6 1h6m-6 -47h6m-6 2h6m-5 31h6m-6 -4h6m-6 -28h6m-6 29h6m-6 -25h6m-6 72h6m-6 -82h6m-5 50h6m-6 8h6m-6 -92h6m-6 39h6m-6 1h6m-6 16h6m-5 -9h6m-6 4h6m-6 13h6m-6 8h6m-6 -2h6m-5 -26h6m-6 -10h6m-5 15h6m-6 28h6m-6 8h6m-6 -43h6m-6 29h6m-5 35h6m-6 -42h6m-6 33h6m-5 -59h6m-6 -31h6m-6 29h6m-6 29h6m-6 -13h6m-6 -35h6m-6 -30h6m-6 54h6m-5 -34h6m-6 42h6m-6 20h6m-6 -32h6m-6 20h6m-6 8h6m-6 5h6m-6 -16h6m-5 -4h6m-6 -26h6m-6 40h6m-6 -7h6m-6 4h6m-6 -13h6m-6 21h6m-6 11h6m-5 -30h6m-6 1h6m-6 24h6m-6 -33h6m-6 3h6m-6 66h6m-6 -62h6m-5 7h6m-6 -58h6m-6 79h6m-6 -49h6m-6 -38h6m-6 65h6m-6 -8h6m-6 -24h6m-6 15h6m-5 -8h6m-6 -1h6m-6 6h6m-6 -20h6m-6 62h6m-5 -52h6m-6 27h6m-6 0h6m-6 -26h6m-6 33h6m-6 20h6m-6 -28h6m-5 43h6m-6 -23h6m-6 -15h6m-6 -7h6m-5 -28h6m-6 12h6m-5 8h6m-6 12h6m-6 -32h6m-5 3h6m-6 26h6m-6 19h6m-6 -41h6m-6 25h6m-6 -3h6m-5 -5h6m-6 -23h6m-6 43h6m-6 9h6m-5 -28h6m-6 -3h6m-5 -23h6m-6 -6h6m-6 19h6m-6 34h6m-5 -37h6m-5 18h6m-6 38h6m-6 -97h6m-6 62h6m-6 -1h6m-6 34h6m-6 -35h6m-6 6h6m-6 -25h6m-5 -3h6m-6 50h6m-6 -70h6m-6 -42h6m-5 66h6m-6 25h6m-6 -14h6m-6 21h6m-6 -18h6m-5 -38h6m-6 24h6m-6 -74h6m-6 90h6m-6 -8h6m-5 7h6m-6 -5h6m-6 11h6m-6 15h6m-6 -49h6m-6 33h6m-6 0h6m-6 -86h6m-5 51h6m-6 -8h6m-6 11h6m-6 49h6m-5 8h6m-6 4h6m-6 -23h6m-6 10h6m-6 -6h6m-6 32h6m-6 -30h6m-5 55h6m-6 -80h6m-6 11h6m-6 -30h6m-6 77h6m-6 -37h6m-6 -56h6m-6 32h6m-6 49h6m-6 -47h6m-5 -7h6m-6 7h6m-6 74h6m-6 -83h6m-6 56h6m-6 35h6m-6 -100h6m-6 -16h6m-6 55h6m-5 82h6m-6 -110h6m-5 25h6m-5 5h6m-6 10h6m-6 -44h6m-5 10h6m-6 21h6m-6 23h6m-6 -33h6m-6 7h6m-6 -58h6m-5 25h6m-6 16h6m-6 39h6m-6 -20h6m-6 26h6m-5 -9h6m-6 -76h6m-6 45h6m-6 -11h6m-6 45h6m-6 -87h6m-6 26h6m-5 39h6m-6 -28h6m-6 66h6m-6 -63h6m-6 -19h6m-6 36h6m-5 27h6m-6 -57h6m-6 84h6m-6 -12h6m-5 -76h6m-6 53h6m-6 -55h6m-6 50h6m-6 -15h6m-6 -40h6m-6 51h6m-5 -98h6m-6 67h6m-6 37h6m-6 -34h6m-6 -29h6m-6 42h6m-5 24h6m-6 -45h6m-6 74h6m-6 -64h6m-6 -29h6m-6 27h6m-5 -14h6m-6 -46h6m-6 64h6m-6 1h6m-5 9h6m-6 -28h6m-6 62h6m-6 -46h6m-5 6h6m-6 -15h6m-6 -5h6m-5 8h6m-6 -2h6m-6 -26h6m-5 -15h6m-6 59h6m-6 -11h6m-6 25h6m-6 1h6m-6 -36h6m-6 23h6m-6 -3h6m-5 -18h6m-6 11h6m-6 -48h6m-6 59h6m-6 -8h6m-5 0h6m-6 28h6m-6 -41h6m-6 28h6m-5 -24h6m-6 -8h6m-6 -17h6m-6 2h6m-6 38h6m-6 -31h6m-6 17h6m-6 22h6m-6 -4h6m-5 -8h6m-6 -2h6m-6 17h6m-6 -60h6m-6 48h6m-6 54h6m-5 -90h6m-6 32h6m-6 -2h6m-6 -37h6m-6 38h6m-5 -16h6m-6 27h6m-6 -33h6m-6 20h6m-6 -1h6m-6 -29h6m-5 96h6m-6 -52h6m-6 -47h6m-5 -13h6m-6 24h6m-6 54h6m-6 -23h6m-6 -25h6m-6 25h6m-6 -55h6m-6 29h6m-5 -86h6m-6 106h6m-6 -5h6m-6 -2h6m-5 -26h6m-6 37h6m-6 -51h6m-6 42h6m-6 -50h6m-5 27h6m-6 74h6m-6 -53h6m-6 14h6m-6 -14h6m-6 97h6m-5 -145h6m-6 57h6m-6 37h6m-6 -71h6m-6 -6h6m-6 -79h6m-6 85h6m-5 124h6m-6 -90h6m-6 -9h6m-6 -24h6m-5 17h6m-6 -34h6m-6 13h6m-5 20h6m-6 2h6m-6 26h6m-6 -12h6m-6 4h6m-6 -14h6m-6 20h6m-6 -40h6m-6 6h6m-5 10h6m-5 5h6m-6 15h6m-6 -24h6m-6 44h6m-6 -103h6m-5 121h6m-6 -42h6m-6 -16h6m-6 1h6m-6 -31h6m-6 52h6m-6 -4h6m-5 -52h6m-6 -33h6m-6 45h6m-6 -14h6m-6 23h6m-5 -7h6m-6 45h6m-6 -71h6m-6 60h6m-6 -59h6m-5 71h6m-6 -10h6m-6 -63h6m-5 6h6m-6 16h6m-6 -8h6m-6 37h6m-5 10h6m-5 -68h6m-6 41h6m-6 -21h6m-6 24h6m-6 -2h6m-6 -65h6m-6 58h6m-6 37h6m-5 -6h6m-6 -4h6m-6 -16h6m-6 6h6m-6 9h6m-6 11h6m-6 -57h6m-6 45h6m-5 -68h6m-6 4h6m-6 89h6m-6 -69h6m-5 84h6m-6 -31h6m-6 -32h6m-6 -64h6m-6 69h6m-6 40h6m-5 -15h6m-6 10h6m-6 -28h6m-5 69h6m-6 -5h6m-6 -74h6m-6 -9h6m-6 -12h6m-5 4h6m-6 48h6m-6 5h6m-6 25h6m-6 -69h6m-6 8h6m-6 13h6m-5 3h6m-5 3h6m-6 -31h6m-6 -32h6m-6 42h6m-6 58h6m-6 -66h6m-5 40h6m-6 -18h6m-6 1h6m-6 24h6m-6 3h6m-6 -45h6m-5 13h6m-6 1h6m-6 -6h6m-6 -15h6m-5 32h6m-6 28h6m-6 -70h6m-6 3h6m-6 -15h6m-5 107h6m-6 -148h6m-6 38h6m-6 20h6m-6 25h6m-5 -58h6m-6 47h6m-6 -49h6m-6 7h6m-6 35h6m-6 23h6m-6 17h6m-6 -14h6m-6 17h6m-6 26h6m-5 -17h6m-6 -34h6m-6 9h6m-6 -10h6m-6 53h6m-6 -62h6m-5 6h6m-6 82h6m-6 -69h6m-6 14h6m-6 3h6m-6 -89h6m-5 66h6m-6 15h6m-6 12h6m-6 -70h6m-6 -2h6m-6 46h6m-6 40h6m-5 -15h6m-6 -40h6m-6 -54h6m-6 18h6m-6 41h6m-6 -41h6m-5 108h6m-6 -82h6m-6 63h6m-6 -71h6m-6 11h6m-6 -25h6m-5 -28h6m-6 35h6m-6 -11h6m-6 81h6m-6 -33h6m-6 -30h6m-5 0h6m-6 10h6m-6 -18h6m-6 43h6m-6 -3h6m-6 -16h6m-5 -20h6m-6 41h6" stroke="#3050f5" stroke-width="6" stroke-opacity="0.2" fill="none"/>
<path transform="scale(.1)" d="M6012 2510h6m-5 48h6m-6 -26h6m-6 29h6m-6 -18h6m-6 1h6m-6 -26h6m-6 28h6m-6 -140h6m-6 111h6m-6 97h6m-6 -112h6m-6 13h6m-5 -10h6m-6 50h6m-6 -144h6m-5 58h6m-6 -88h6m-6 210h6m-6 -24h6m-6 -59h6m-6 80h6m-6 -22h6m-5 49h6m-6 -206h6m-6 131h6m-6 -91h6m-6 87h6m-6 -110h6m-6 93h6m-5 -10h6m-6 125h6m-6 -114h6m-6 30h6m-6 -42h6m-6 -15h6m-6 -55h6m-6 88h6m-6 20h6m-6 -31h6m-6 129h6m-5 -63h6m-6 -64h6m-6 65h6m-6 -156h6m-6 40h6m-5 51h6m-6 -48h6m-6 36h6m-6 5h6m-6 40h6m-6 -84h6m-6 18h6m-6 -3h6m-6 44h6m-6 33h6m-5 16h6m-6 -106h6m-6 -5h6m-6 4h6m-6 98h6m-6 -48h6m-6 -8h6m-6 -42h6m-6 -75h6m-6 118h6m-5 -58h6m-6 117h6m-6 -255h6m-6 232h6m-6 -114h6m-6 55h6m-6 98h6m-6 9h6m-6 -152h6m-6 98h6m-5 -102h6m-6 73h6m-6 -19h6m-6 32h6m-5 28h6m-6 -4h6m-6 2h6m-6 -61h6m-6 46h6m-5 -23h6m-6 -2h6m-6 65h6m-6 -93h6m-6 86h6m-6 -67h6m-6 10h6m-5 -10h6m-6 -22h6m-6 3h6m-6 -19h6m-5 -105h6m-6 169h6m-6 49h6m-6 -52h6m-5 54h6m-6 -158h6m-6 83h6m-6 -38h6m-5 -22h6m-6 6h6m-6 -28h6m-5 174h6m-6 -9h6m-6 -171h6m-6 77h6m-5 -54h6m-6 77h6m-6 30h6m-6 -48h6m-6 24h6m-5 -1h6m-6 -125h6m-6 68h6m-6 -3h6m-5 12h6m-6 22h6m-6 77h6m-6 -111h6m-5 95h6m-6 -54h6m-5 -51h6m-6 -55h6m-6 15h6m-6 65h6m-6 -33h6m-5 24h6m-6 37h6m-6 -41h6m-6 -159h6m-6 237h6m-6 49h6m-6 -103h6m-6 -11h6m-6 19h6m-5 93h6m-6 -143h6m-6 17h6m-6 16h6m-6 40h6m-5 -34h6m-6 -9h6m-6 -157h6m-6 174h6m-6 -14h6m-6 57h6m-6 -92h6m-6 8h6m-6 37h6m-5 -43h6m-6 -30h6m-6 76h6m-6 -10h6m-5 18h6m-6 15h6m-6 14h6m-6 -34h6m-6 16h6m-6 -92h6m-6 43h6m-6 -24h6m-6 117h6m-6 -128h6m-5 71h6m-6 91h6m-6 -75h6m-6 -50h6m-6 -101h6m-5 81h6m-6 -5h6m-6 -22h6m-6 189h6m-6 -37h6m-5 -84h6m-6 -59h6m-6 54h6m-6 -23h6m-6 26h6m-5 -41h6m-6 -38h6m-6 105h6m-5 114h6m-6 -132h6m-6 -53h6m-6 -50h6m-6 218h6m-6 -145h6m-6 27h6m-6 -40h6m-5 -9h6m-6 48h6m-6 -39h6m-6 38h6m-6 -59h6m-6 45h6m-5 -27h6m-6 104h6m-6 28h6m-6 -86h6m-5 -3h6m-6 107h6m-6 -172h6m-6 91h6m-6 13h6m-5 -59h6m-6 -39h6m-6 63h6m-6 13h6m-6 -12h6m-6 -119h6m-6 159h6m-5 48h6m-6 -125h6m-6 -111h6m-6 123h6m-6 68h6m-6 -55h6m-6 59h6m-6 -22h6m-6 -14h6m-5 81h6m-6 -140h6m-6 58h6m-6 -26h6m-6 92h6m-5 -142h6m-6 -103h6m-6 110h6m-6 -7h6m-5 49h6m-6 57h6m-6 -64h6m-5 13h6m-6 12h6m-6 -60h6m-6 91h6m-6 -215h6m-6 161h6m-6 -21h6m-5 6h6m-5 -115h6m-6 56h6m-6 110h6m-6 -55h6m-6 -4h6m-6 29h6m-5 -33h6m-6 83h6m-5 -123h6m-6 42h6m-6 -25h6m-6 138h6m-6 -83h6m-5 -8h6m-6 -17h6m-6 52h6m-6 -328h6m-6 307h6m-5 47h6m-6 -86h6m-6 -37h6m-6 146h6m-6 -24h6m-5 -195h6m-6 224h6m-6 4h6m-6 -111h6m-6 -27h6m-5 -38h6m-6 60h6m-6 19h6m-6 111h6m-6 -204h6m-6 101h6m-5 -76h6m-6 4h6m-6 32h6m-5 58h6m-6 123h6m-6 -209h6m-6 73h6m-6 21h6m-6 35h6m-6 -175h6m-6 37h6m-5 82h6m-6 -58h6m-6 72h6m-6 -18h6m-6 -47h6m-5 45h6m-6 5h6m-6 -99h6m-6 10h6m-6 148h6m-6 -154h6m-5 80h6m-6 -24h6m-6 27h6m-6 21h6m-6 -9h6m-5 15h6m-6 14h6m-6 -34h6m-6 102h6m-6 -163h6m-6 63h6m-6 -27h6m-5 51h6m-6 -90h6m-6 97h6m-6 -59h6m-6 -101h6m-6 84h6m-6 7h6m-6 -66h6m-6 181h6m-5 -77h6m-6 -37h6m-5 2h6m-6 36h6m-6 10h6m-6 -34h6m-6 44h6m-6 -55h6m-6 116h6m-6 -92h6m-6 -38h6m-5 26h6m-6 39h6m-6 -65h6m-6 123h6m-6 -99h6m-6 17h6m-6 -136h6m-6 90h6m-5 67h6m-6 -37h6m-6 13h6m-6 -14h6m-6 -21h6m-5 -19h6m-6 31h6m-6 22h6m-6 -32h6m-6 16h6m-6 -20h6m-6 11h6m-6 -12h6m-6 104h6m-6 -59h6m-6 -111h6m-6 78h6m-5 -16h6m-6 -40h6m-6 87h6m-6 -15h6m-6 93h6m-6 -137h6m-5 61h6m-6 -51h6m-6 25h6m-6 -23h6m-6 72h6m-6 4h6m-6 -76h6m-6 49h6m-5 23h6m-6 -1h6m-6 -104h6m-6 27h6m-6 195h6m-6 -131h6m-6 -39h6m-6 -24h6m-6 -5h6m-6 65h6m-6 -35h6m-5 -35h6m-6 97h6m-6 -48h6m-6 -104h6m-6 186h6m-6 -37h6m-4 -7h6m-6 -78h6m-6 -24h6m-6 47h6m-6 -38h6m-6 -8h6m-6 -46h6m-6 71h6m-6 100h6m-6 -125h6m-6 -8h6m-6 83h6m-6 -57h6m-6 53h6m-5 -97h6m-6 22h6m-6 133h6m-6 -92h6m-6 -62h6m-6 84h6m-6 -32h6m-5 20h6m-6 20h6m-6 -85h6m-6 102h6m-6 -124h6m-6 134h6m-5 -76h6m-6 35h6m-6 -35h6m-6 63h6m-6 -67h6m-6 8h6m-6 63h6m-6 4h6m-5 -46h6m-6 -58h6m-6 27h6m-6 46h6m-6 38h6m-6 8h6m-6 14h6m-5 -39h6m-6 31h6m-6 -71h6m-6 -77h6m-5 149h6m-6 -126h6m-6 73h6m-6 -7h6m-6 -29h6m-5 6h6m-6 40h6m-6 -11h6m-6 -7h6m-6 -31h6m-6 87h6m-6 -60h6m-6 11h6m-5 -36h6m-6 17h6m-6 -16h6m-6 16h6m-5 35h6m-6 -12h6m-6 -53h6m-6 110h6m-6 -157h6m-5 29h6m-6 76h6m-6 -66h6m-6 38h6m-6 -37h6m-6 36h6m-6 -10h6m-6 27h6m-5 5h6m-6 -54h6m-6 121h6m-6 -66h6m-6 78h6m-6 -34h6m-6 39h6m-6 -153h6m-6 -4h6m-5 49h6m-6 100h6m-6 -12h6m-6 -81h6m-6 -7h6m-6 -65h6m-6 94h6m-6 -8h6m-5 21h6m-6 -92h6m-6 17h6m-6 46h6m-6 12h6m-6 -40h6m-6 51h6m-6 -88h6m-6 120h6m-6 -59h6m-6 18h6m-5 -60h6m-6 48h6m-6 -4h6m-5 -34h6m-6 -10h6m-6 7h6m-6 138h6m-6 -87h6m-6 1h6m-5 -60h6m-6 95h6m-6 -119h6m-6 31h6m-6 -16h6m-6 70h6m-6 -46h6m-6 2h6m-6 60h6m-5 -96h6m-6 39h6m-6 -31h6m-6 6h6m-6 41h6m-6 68h6m-6 -93h6m-6 19h6m-6 36h6m-6 -94h6m-6 27h6m-6 -21h6m-6 20h6m-6 42h6m-6 64h6m-5 -153h6m-6 50h6m-6 69h6m-6 11h6m-6 -88h6m-5 93h6m-6 -8h6m-6 -53h6m-6 2h6m-6 -9h6m-6 -24h6m-6 -23h6m-6 101h6m-6 0h6m-6 -92h6m-5 -26h6m-6 81h6m-6 -44h6m-6 52h6m-6 10h6m-6 -31h6m-6 -1h6m-5 32h6m-6 15h6m-6 -17h6m-6 -33h6m-6 -8h6m-6 36h6m-5 39h6m-6 -71h6m-6 38h6m-6 -2h6m-6 -41h6m-5 99h6m-6 -98h6m-6 -32h6m-6 3h6m-6 56h6m-6 -83h6m-5 81h6m-6 189h6m-6 -247h6m-6 25h6m-6 8h6m-6 39h6m-6 -41h6m-6 40h6m-5 -115h6m-6 164h6m-6 -50h6m-6 52h6m-6 -172h6m-6 -21h6m-6 114h6m-6 0h6m-5 8h6m-6 -64h6m-6 -21h6m-6 147h6m-5 -58h6m-6 -3h6m-6 17h6m-6 -23h6m-5 -35h6m-6 -18h6m-6 18h6m-6 3h6m-5 53h6m-6 -22h6m-6 11h6m-6 -53h6m-6 28h6m-6 22h6m-6 -21h6m-6 -18h6m-6 23h6m-5 43h6m-6 -109h6m-5 113h6m-6 -43h6m-6 24h6m-6 -62h6m-6 77h6m-6 -62h6m-5 -23h6m-6 9h6m-6 46h6m-6 -32h6m-6 60h6m-6 -101h6m-6 90h6m-6 -21h6m-5 -32h6m-6 -28h6m-6 35h6m-6 43h6m-6 -121h6m-6 38h6m-5 0h6m-6 78h6m-6 -25h6m-5 58h6m-6 -3h6m-6 -103h6m-6 31h6m-6 -10h6m-6 35h6m-6 -40h6m-5 80h6m-6 -68h6m-6 13h6m-6 64h6m-6 -20h6m-6 -103h6m-5 80h6m-6 -72h6m-6 38h6m-6 47h6m-6 -12h6m-6 -108h6m-6 77h6m-5 67h6m-6 -45h6m-6 8h6m-6 -37h6m-5 16h6m-6 -86h6m-6 -13h6m-6 132h6m-6 -67h6m-6 -36h6m-6 107h6m-6 -92h6m-6 105h6m-6 -59h6m-5 -26h6m-6 51h6m-6 -52h6m-6 45h6m-6 -14h6m-6 -118h6m-6 65h6m-5 35h6m-6 -29h6m-6 54h6m-6 -8h6m-6 91h6m-5 -82h6m-6 -42h6m-6 70h6m-6 -16h6m-6 -43h6m-6 33h6m-6 75h6m-6 -72h6m-5 -23h6m-6 47h6m-6 -22h6m-6 84h6m-6 -132h6m-6 29h6m-6 20h6m-5 -51h6m-6 27h6m-6 36h6m-5 -41h6m-6 158h6m-6 -140h6m-6 -112h6m-6 82h6m-6 -10h6m-6 22h6m-6 -52h6m-5 79h6m-6 -39h6m-6 24h6m-6 -32h6m-6 -41h6m-6 34h6m-6 44h6m-5 -35h6m-6 -92h6m-6 51h6m-6 34h6m-6 72h6m-6 24h6m-6 -74h6m-6 49h6m-6 -1h6m-5 6h6m-6 -61h6m-6 51h6m-6 5h6m-6 -30h6m-5 -18h6m-6 -27h6m-6 42h6m-6 -16h6m-5 -111h6m-6 106h6m-6 53h6m-5 -52h6m-6 -41h6m-6 41h6m-6 65h6m-6 -96h6m-5 34h6m-6 -38h6m-6 38h6m-6 58h6m-6 -46h6m-5 -10h6m-6 33h6m-6 -35h6m-6 8h6m-6 2h6m-6 -3h6m-5 -31h6m-6 41h6m-6 -64h6m-6 65h6m-6 103h6m-6 -60h6m-5 -70h6m-6 27h6m-6 1h6m-6 -49h6m-6 50h6m-6 -12h6m-5 32h6m-6 -53h6m-6 19h6m-5 -3h6m-6 -14h6m-6 38h6m-6 -40h6m-6 11h6m-6 38h6m-6 -40h6m-5 11h6m-6 -37h6m-6 37h6m-6 3h6m-5 -46h6m-6 101h6m-6 -73h6m-6 -27h6m-6 80h6m-5 -10h6m-6 -82h6m-6 41h6m-5 -64h6m-6 -3h6m-6 83h6m-6 -39h6m-6 27h6m-6 31h6m-6 -44h6m-5 20h6m-6 16h6m-6 -46h6m-6 32h6m-5 56h6m-6 -26h6m-5 -58h6m-6 33h6m-6 5h6m-6 1h6m-6 2h6m-6 -43h6m-6 28h6m-6 40h6m-6 -55h6m-5 39h6m-6 -9h6m-6 38h6m-6 -81h6m-6 58h6m-6 0h6m-6 -63h6m-5 80h6m-6 -141h6m-6 128h6m-6 -76h6m-6 37h6m-6 -62h6m-6 40h6m-6 27h6m-6 37h6m-5 -89h6m-6 104h6m-6 8h6m-6 -90h6m-6 21h6m-6 11h6m-6 -108h6m-6 33h6m-6 -16h6m-5 128h6m-6 -34h6m-6 -158h6m-6 191h6m-6 46h6m-5 -150h6m-6 30h6m-6 -11h6m-6 -143h6m-5 245h6m-6 -57h6m-6 -27h6m-6 -23h6m-6 9h6m-6 58h6m-6 -17h6m-6 66h6m-5 -72h6m-6 34h6m-6 -23h6m-6 38h6m-5 -138h6m-6 29h6m-6 91h6m-6 -41h6m-6 99h6m-6 -163h6m-6 43h6m-6 -99h6m-6 168h6m-6 -34h6m-5 -3h6m-6 -36h6m-6 26h6m-6 -7h6m-6 -55h6m-5 99h6m-6 -56h6m-6 35h6m-6 -54h6m-6 20h6m-6 -82h6m-6 -34h6m-5 162h6m-6 20h6m-6 -101h6m-6 10h6m-5 75h6m-6 -57h6m-6 40h6m-6 9h6m-6 -49h6m-5 -137h6m-6 92h6m-6 56h6m-6 13h6m-6 -37h6m-6 43h6m-5 -54h6m-6 184h6m-6 -112h6m-6 -20h6m-5 -49h6m-6 19h6m-6 7h6m-6 45h6m-6 -29h6m-6 -1h6m-6 50h6m-6 -65h6m-5 -16h6m-6 -71h6m-6 104h6m-6 -10h6m-6 -30h6m-6 36h6m-6 63h6m-5 -44h6m-6 21h6m-6 -19h6m-6 -43h6m-6 106h6m-5 -131h6m-6 17h6m-5 47h6m-6 -54h6m-6 63h6m-6 -30h6m-6 -3h6m-6 -32h6m-5 -65h6m-6 97h6m-6 -9h6m-6 27h6m-5 -12h6m-6 -14h6m-6 22h6m-6 55h6m-6 -116h6m-6 46h6m-6 -13h6m-5 -51h6m-6 117h6m-6 -24h6m-6 -85h6m-6 30h6m-6 46h6m-5 -26h6m-6 18h6m-6 -2h6m-6 -106h6m-6 106h6m-6 -53h6m-6 41h6m-6 32h6m-5 -10h6m-6 -40h6m-6 58h6m-6 -103h6m-6 14h6m-5 -34h6m-6 56h6m-6 25h6m-6 14h6m-6 -59h6m-6 -60h6m-6 150h6m-5 6h6m-6 -84h6m-6 33h6m-6 43h6m-6 -33h6m-6 -97h6m-6 54h6m-6 4h6m-6 86h6m-6 2h6m-5 -26h6m-6 105h6m-6 -151h6m-6 0h6m-6 -70h6m-6 68h6m-6 83h6m-5 -49h6m-6 -65h6m-6 73h6m-6 -23h6m-6 0h6m-6 -2h6m-5 -46h6m-6 -5h6m-6 78h6m-6 -39h6m-6 31h6m-5 -84h6m-6 76h6m-6 -12h6m-5 -63h6m-6 64h6m-6 -6h6m-6 16h6m-6 -44h6m-6 51h6m-6 -27h6m-5 71h6m-6 -90h6m-6 53h6m-6 7h6m-6 -11h6m-6 -15h6m-6 -48h6m-6 70h6m-6 57h6m-6 -104h6m-5 68h6m-6 -93h6m-6 55h6m-6 -118h6m-6 189h6m-6 -84h6m-6 1h6m-5 33h6m-6 -29h6m-5 -38h6m-6 -77h6m-6 102h6m-6 62h6m-6 -46h6m-6 33h6m-5 -25h6m-6 -40h6m-6 22h6m-6 -48h6m-6 75h6m-6 63h6m-6 -93h6m-5 15h6m-6 15h6m-6 -73h6m-6 16h6m-6 -25h6m-5 -24h6m-6 111h6m-6 -40h6m-6 33h6m-6 -16h6m-6 -48h6m-6 17h6m-5 21h6m-6 4h6m-6 -3h6m-6 -31h6m-6 -5h6m-6 100h6m-5 -133h6m-6 44h6m-6 -14h6m-6 16h6m-6 52h6m-5 -8h6m-6 -73h6m-6 -53h6m-5 162h6m-6 -76h6m-6 -152h6m-6 174h6m-5 1h6m-6 -20h6m-6 74h6m-6 -78h6m-6 4h6m-6 22h6m-6 35h6m-5 -49h6m-6 15h6m-6 0h6m-6 -13h6m-6 -37h6m-6 66h6m-6 -80h6m-6 80h6m-6 -63h6m-5 -14h6m-6 70h6m-6 -25h6m-6 4h6m-6 -14h6m-6 0h6m-6 1h6m-5 -28h6m-6 31h6m-6 -15h6m-6 -8h6m-5 10h6m-6 9h6m-6 -10h6m-6 -23h6m-6 22h6m-6 -53h6m-6 88h6m-6 -50h6m-5 -15h6m-6 -15h6m-6 -20h6m-6 107h6m-6 -2h6m-6 -21h6m-6 13h6m-6 -30h6m-6 -12h6m-5 -13h6m-6 46h6m-6 -45h6m-6 49h6m-6 3h6m-6 -83h6m-6 137h6m-6 -135h6m-6 52h6m-6 -20h6m-5 11h6m-6 -33h6m-6 -3h6m-6 104h6m-6 -59h6m-6 3h6m-6 120h6m-6 -128h6m-6 12h6m-6 101h6m-6 -56h6m-5 -76h6m-6 79h6m-6 -75h6m-6 6h6m-6 -22h6m-6 -5h6m-6 35h6m-6 1h6m-5 49h6m-6 -140h6m-6 117h6m-6 -33h6m-6 89h6m-5 -128h6m-6 61h6m-6 -40h6m-6 7h6m-6 -13h6m-6 47h6m-5 61h6m-6 -38h6m-5 -4h6m-6 -19h6m-6 -56h6m-6 31h6m-6 -61h6m-5 85h6m-6 -24h6m-6 -58h6m-6 45h6m-5 140h6m-6 -116h6m-6 7h6m-6 -8h6m-6 25h6m-6 -46h6m-6 -20h6m-6 35h6m-5 -12h6m-6 10h6m-6 13h6m-6 39h6m-6 -182h6m-6 143h6m-5 9h6m-6 -73h6m-6 -55h6m-6 95h6m-6 9h6m-6 85h6m-6 -78h6m-5 -2h6m-6 -31h6m-6 12h6m-6 -17h6m-6 -26h6m-6 196h6m-6 -87h6m-6 -44h6m-6 -33h6m-5 34h6m-6 -49h6m-6 32h6m-6 40h6m-6 -64h6m-6 48h6m-5 -68h6m-6 121h6m-6 -49h6m-6 -7h6m-6 126h6m-6 -35h6m-6 -121h6m-6 30h6m-6 -66h6m-5 48h6m-6 -38h6m-6 43h6m-5 17h6m-6 -37h6m-6 2h6m-6 89h6m-6 -51h6m-5 3h6m-6 -50h6m-6 94h6m-6 -62h6m-6 -16h6m-6 -60h6m-6 64h6m-6 6h6m-6 -24h6m-6 7h6m-6 28h6m-5 -58h6m-6 55h6m-6 -54h6m-5 -23h6m-6 71h6m-6 11h6m-6 -22h6m-6 -7h6m-6 24h6m-5 10h6m-6 3h6m-6 -65h6m-6 22h6m-6 3h6m-6 -24h6m-5 10h6m-6 -28h6m-6 41h6m-6 42h6m-6 -43h6m-6 27h6m-6 -50h6m-6 20h6m-5 15h6m-6 2h6m-6 35h6m-5 -33h6m-6 22h6m-6 -37h6m-6 -27h6m-6 92h6m-6 -63h6m-6 50h6m-6 -21h6m-5 -10h6m-6 -5h6m-6 -24h6m-6 91h6m-6 -82h6m-6 29h6m-6 -44h6m-5 76h6m-6 -25h6m-6 -74h6m-6 68h6m-6 18h6m-6 -68h6m-6 5h6m-6 87h6m-6 -94h6m-6 -13h6m-6 81h6m-5 -68h6m-6 66h6m-6 -41h6m-6 38h6m-6 -80h6m-6 -14h6m-5 83h6m-6 -50h6m-6 15h6m-6 -35h6m-6 79h6m-6 -33h6m-5 -40h6m-6 49h6m-6 23h6m-6 3h6m-6 -3h6m-6 -76h6m-6 -6h6m-6 47h6m-5 17h6m-6 -18h6m-6 -15h6m-6 6h6m-6 -27h6m-6 44h6m-6 -3h6m-5 -17h6m-6 70h6m-6 -43h6m-6 -78h6m-6 104h6m-6 -127h6m-6 126h6m-4 -3h6m-6 -37h6m-5 -15h6m-6 52h6m-6 -5h6m-6 -13h6m-6 20h6m-6 -49h6m-6 29h6m-5 5h6m-6 80h6m-6 -120h6m-6 -24h6m-6 74h6m-6 -42h6m-6 7h6m-6 -8h6m-6 16h6m-5 -18h6m-6 -5h6m-6 66h6m-6 -52h6m-6 14h6m-6 -42h6m-6 6h6m-5 31h6m-6 -11h6m-6 13h6m-6 -81h6m-6 111h6m-6 -32h6m-5 11h6m-6 -9h6m-6 -15h6m-5 35h6m-6 -8h6m-6 -23h6m-6 25h6m-6 -25h6m-6 -15h6m-6 34h6m-5 -33h6m-6 31h6m-6 -42h6m-6 6h6m-6 -37h6m-6 27h6m-5 2h6m-6 -34h6m-6 42h6m-6 18h6m-6 -44h6m-6 2h6m-6 53h6m-6 -38h6m-5 1h6m-6 43h6m-6 -97h6m-6 52h6m-6 73h6m-6 -32h6m-5 -36h6m-6 0h6m-6 8h6m-6 -39h6m-6 36h6m-6 -23h6m-6 60h6m-5 -114h6m-6 101h6m-6 60h6m-6 -58h6m-6 -12h6m-6 95h6m-6 -138h6m-6 18h6m-6 114h6m-6 -103h6m-6 -11h6m-5 23h6m-6 -50h6m-6 -12h6m-6 60h6m-6 9h6m-6 -43h6m-6 -10h6m-5 83h6m-6 -22h6m-6 -63h6m-6 -6h6m-6 19h6m-6 18h6m-6 -32h6m-6 64h6m-5 -21h6m-6 94h6m-6 -106h6m-6 1h6m-5 10h6m-6 12h6m-6 -21h6m-6 -33h6m-6 94h6m-5 -108h6m-6 50h6m-6 29h6m-6 -8h6m-6 -29h6m-6 79h6m-6 -45h6m-6 -42h6m-6 58h6m-5 -88h6m-6 123h6m-6 -150h6m-6 44h6m-5 10h6m-6 9h6m-6 31h6m-6 28h6m-5 7h6m-6 -76h6m-6 31h6m-6 14h6m-6 23h6m-6 -66h6m-6 91h6m-6 -40h6m-6 -70h6m-5 20h6m-6 55h6m-6 -23h6m-6 0h6m-5 -25h6m-6 -3h6m-6 -33h6m-6 38h6m-5 5h6m-6 -23h6m-6 36h6m-6 -26h6m-5 21h6m-6 7h6m-6 -34h6m-6 24h6m-6 22h6m-6 -34h6m-6 -33h6m-5 69h6m-6 -30h6m-6 -31h6m-6 38h6m-6 2h6m-6 72h6m-6 -66h6m-6 -9h6m-6 -22h6m-6 52h6m-5 -51h6m-6 49h6m-6 -78h6m-6 -27h6m-5 63h6m-6 0h6m-6 9h6m-6 5h6m-6 -44h6m-6 -39h6m-6 55h6m-6 7h6m-6 37h6m-5 -10h6m-6 -18h6m-6 38h6m-6 -53h6m-6 26h6m-6 -114h6m-6 104h6m-6 -6h6m-6 3h6m-6 125h6m-6 -95h6m-5 -46h6m-6 55h6m-6 -35h6m-6 15h6m-6 9h6m-5 7h6m-6 -61h6m-6 28h6m-6 12h6m-6 0h6m-6 5h6m-5 52h6m-6 -41h6m-6 3h6m-6 -60h6m-6 60h6m-6 -53h6m-6 8h6m-6 47h6m-6 -80h6m-5 112h6m-6 -95h6m-6 37h6m-5 -26h6m-6 -8h6m-6 6h6m-6 3h6m-6 7h6m-6 -27h6m-6 18h6m-5 -119h6m-6 168h6m-6 -52h6m-6 -25h6m-6 -52h6m-5 194h6m-6 -71h6m-6 3h6m-6 -67h6m-6 106h6m-6 -74h6m-6 -34h6m-5 108h6m-6 -73h6m-5 9h6m-6 -22h6m-6 -10h6m-6 63h6m-6 0h6m-6 -31h6m-6 -43h6m-6 -22h6m-6 -22h6m-5 83h6m-6 -15h6m-6 24h6m-6 -13h6m-6 15h6m-6 -11h6m-5 32h6m-6 -15h6m-6 0h6m-6 56h6m-6 -80h6m-6 -6h6m-6 4h6m-6 -40h6m-5 7h6m-6 146h6m-6 -100h6m-6 -20h6m-6 25h6m-6 14h6m-6 -64h6m-6 63h6m-5 0h6m-6 -94h6m-6 74h6m-6 6h6m-6 67h6m-6 -78h6m-6 53h6m-6 -54h6m-6 -48h6m-5 39h6m-6 60h6m-6 171h6m-6 -218h6m-6 -14h6m-6 19h6m-6 -56h6m-6 40h6m-6 -9h6m-5 21h6m-6 -59h6m-6 43h6m-6 20h6m-6 -37h6m-6 25h6m-6 -33h6m-6 -16h6m-6 93h6m-6 -49h6m-6 -68h6m-6 41h6m-5 51h6m-6 8h6m-6 -84h6m-6 60h6m-6 14h6m-6 -30h6m-6 29h6m-5 -24h6m-6 20h6m-6 14h6m-6 -155h6m-6 203h6m-6 -1h6m-6 -125h6m-5 41h6m-6 -65h6m-6 123h6m-6 -85h6m-6 53h6m-6 6h6m-6 -41h6m-6 11h6m-5 -41h6m-6 72h6m-6 -5h6m-5 19h6m-6 -48h6m-6 -20h6m-6 -24h6m-6 50h6m-6 9h6m-6 -35h6m-5 -23h6m-6 66h6m-6 -41h6m-6 26h6m-6 -20h6m-6 -28h6m-6 27h6m-5 16h6m-6 12h6m-6 19h6m-6 -7h6m-6 3h6m-6 -43h6m-6 -3h6m-6 4h6m-6 56h6m-5 -42h6m-6 70h6m-6 -43h6m-6 2h6m-5 51h6m-6 -45h6m-6 -28h6m-6 -34h6m-6 -7h6m-6 70h6m-6 -67h6m-6 -18h6m-6 -34h6m-5 143h6m-6 -16h6m-6 -70h6m-6 6h6m-6 78h6m-6 -49h6m-6 20h6m-5 -25h6m-6 4h6m-6 -19h6m-6 10h6m-6 -60h6m-6 51h6m-5 34h6m-6 -9h6m-5 -34h6m-6 -37h6m-6 52h6m-6 -57h6m-6 -15h6m-5 88h6m-6 -30h6m-6 0h6m-6 -44h6m-6 54h6m-6 -25h6m-6 5h6m-5 63h6m-6 -109h6m-6 156h6m-6 -44h6m-6 -27h6m-6 62h6m-6 -96h6m-6 -17h6m-6 46h6m-6 1h6m-6 -47h6m-6 -13h6m-5 38h6m-6 -12h6m-6 32h6m-6 9h6m-6 -91h6m-6 94h6m-6 -44h6m-5 -1h6m-6 3h6m-6 -51h6m-6 41h6m-6 20h6m-6 2h6m-6 39h6m-6 -8h6m-6 -95h6m-6 73h6m-5 1h6m-6 2h6m-6 4h6m-6 -12h6m-6 -42h6m-6 0h6m-5 98h6m-6 -133h6m-6 120h6m-6 -29h6m-6 -6h6m-6 -17h6m-6 21h6m-5 -41h6m-6 67h6m-6 -48h6m-6 -58h6m-6 43h6m-6 0h6m-5 -38h6m-6 63h6m-6 24h6m-6 25h6m-6 -91h6m-6 36h6m-5 23h6m-6 0h6m-6 -29h6m-6 -13h6m-6 30h6m-5 16h6m-6 -76h6m-6 67h6m-6 -37h6m-6 20h6m-6 1h6m-5 73h6m-6 -40h6m-6 -30h6m-6 -24h6m-5 26h6m-6 36h6m-6 -119h6m-6 91h6m-6 -101h6m-6 110h6m-6 -41h6m-6 47h6m-6 -59h6m-5 29h6m-6 -3h6m-6 13h6m-6 35h6m-6 -64h6m-5 52h6m-6 -47h6m-6 -3h6m-6 5h6m-6 -69h6m-6 81h6m-6 -38h6m-5 -8h6m-6 89h6m-6 -46h6m-6 -3h6m-6 -11h6m-6 89h6m-6 -108h6m-6 30h6m-6 19h6m-6 -57h6m-5 21h6m-6 5h6m-6 29h6m-6 -115h6m-6 75h6m-6 48h6m-6 -25h6m-5 40h6m-6 -54h6m-6 11h6m-6 64h6m-6 -70h6m-6 21h6m-5 -23h6m-6 40h6m-6 -31h6m-6 -31h6m-6 -8h6m-6 -15h6m-5 51h6m-5 -5h6m-6 2h6m-6 5h6m-6 2h6m-6 -30h6m-5 10h6m-6 -1h6m-6 60h6m-6 -25h6m-6 -35h6m-6 -17h6m-6 61h6m-6 -37h6m-5 22h6m-6 -18h6m-6 -4h6m-6 -45h6m-6 16h6m-6 57h6m-6 -42h6m-6 12h6m-6 13h6m-5 31h6m-6 -43h6m-6 -4h6m-6 -46h6m-5 40h6m-6 63h6m-6 -53h6m-6 -7h6m-6 120h6m-6 -123h6m-5 24h6m-6 -12h6m-6 36h6m-6 2h6m-6 -42h6m-6 -75h6m-6 82h6m-6 13h6m-5 -49h6m-6 -4h6m-5 48h6m-6 -15h6m-6 9h6m-6 -11h6m-6 44h6m-6 -41h6m-6 7h6m-6 -17h6m-6 -19h6m-5 -5h6m-6 66h6m-6 29h6m-6 -97h6m-6 40h6m-6 27h6m-6 -74h6m-5 59h6m-6 -39h6m-6 -16h6m-6 11h6m-5 13h6m-5 34h6m-6 -47h6m-6 26h6m-6 -46h6m-6 -17h6m-5 62h6m-6 0h6m-6 4h6m-6 3h6m-6 -21h6m-6 46h6m-5 19h6m-6 -81h6m-6 76h6m-6 -32h6m-6 26h6m-6 -69h6m-6 20h6m-5 -8h6m-6 34h6m-6 -19h6m-6 1h6m-6 25h6m-5 -32h6m-5 8h6m-6 -27h6m-6 26h6m-6 10h6m-6 -55h6m-6 19h6m-6 6h6m-5 -23h6m-6 34h6m-6 16h6m-6 -15h6m-6 -51h6m-6 52h6m-6 19h6m-6 20h6m-5 2h6m-6 -55h6m-6 51h6m-6 -99h6m-6 75h6m-5 30h6m-6 -104h6m-6 74h6m-6 -33h6m-6 -17h6m-6 -4h6m-6 68h6m-6 -3h6m-5 21h6m-6 -9h6m-6 -48h6m-6 1h6m-6 -2h6m-6 17h6m-6 -4h6m-5 11h6m-6 -17h6m-5 17h6m-6 28h6m-6 -51h6m-6 21h6m-6 -14h6m-6 49h6m-6 -86h6m-5 27h6m-6 -48h6m-6 96h6m-6 -96h6m-6 89h6m-6 -6h6m-6 -35h6m-6 -6h6m-6 3h6m-6 50h6m-6 5h6m-5 -70h6m-6 31h6m-6 71h6m-6 -70h6m-5 -25h6m-6 33h6m-6 -18h6m-5 -16h6m-6 -52h6m-6 46h6m-6 15h6m-6 -50h6m-6 63h6m-6 45h6m-6 -64h6m-6 19h6m-5 20h6m-6 -4h6m-6 32h6m-6 -92h6m-6 67h6m-6 -29h6m-6 6h6m-6 38h6m-6 -79h6m-6 -13h6m-5 45h6m-6 12h6m-6 -43h6m-6 54h6m-6 -48h6m-6 -19h6m-6 13h6m-6 22h6m-5 33h6m-6 -15h6m-6 2h6m-6 -5h6m-6 0h6m-6 27h6m-6 -10h6m-6 28h6m-5 -32h6m-6 27h6m-6 -36h6m-6 -2h6m-6 -12h6m-5 38h6m-6 -57h6m-6 -19h6m-6 35h6m-6 61h6m-6 -78h6m-6 14h6m-5 38h6m-6 -55h6m-6 16h6m-6 -19h6m-5 15h6m-6 64h6m-6 -75h6m-6 23h6m-6 17h6m-6 -9h6m-6 -27h6m-5 -4h6m-6 32h6m-6 -24h6m-6 66h6m-5 -55h6m-6 -9h6m-6 -5h6m-6 22h6m-6 45h6m-6 -69h6m-6 42h6m-5 -29h6m-5 18h6m-6 14h6m-6 5h6m-6 -43h6m-6 32h6m-5 16h6m-6 5h6m-6 -59h6m-6 58h6m-6 -20h6m-6 -20h6m-6 -6h6m-6 -22h6m-6 16h6m-5 110h6m-6 40h6m-6 -153h6m-6 48h6m-5 -48h6m-6 45h6m-6 -13h6m-6 -12h6m-6 30h6m-6 -40h6m-6 5h6m-6 28h6m-5 -19h6m-6 -77h6m-6 80h6m-5 -11h6m-6 -5h6m-6 44h6m-6 -36h6m-6 -37h6m-6 -25h6m-6 23h6m-5 36h6m-6 7h6m-6 11h6m-6 -1h6m-6 -38h6m-6 24h6m-6 -113h6m-5 133h6m-6 -31h6m-6 64h6m-6 -84h6m-6 100h6m-6 -35h6m-6 -47h6m-6 1h6m-6 -49h6m-5 16h6m-6 22h6m-6 36h6m-6 11h6m-6 -93h6m-6 21h6m-6 35h6m-6 -1h6m-6 27h6m-5 38h6m-6 -57h6m-6 -12h6m-6 -10h6m-6 37h6m-5 -4h6m-6 12h6m-6 -32h6m-6 19h6m-6 -36h6m-6 54h6m-6 -35h6m-6 -4h6m-6 -57h6m-5 46h6m-6 -35h6m-6 40h6m-5 46h6m-6 -25h6m-6 20h6m-6 42h6m-6 -75h6m-6 -67h6m-5 56h6m-6 39h6m-6 -31h6m-6 7h6m-5 -6h6m-6 9h6m-6 -29h6m-6 13h6m-6 21h6m-6 -23h6m-5 45h6m-6 -47h6m-6 -1h6m-6 17h6m-6 -5h6m-6 -25h6m-5 26h6m-6 48h6m-6 -28h6m-6 -21h6m-6 7h6m-6 -2h6m-5 -15h6m-6 10h6m-6 4h6m-6 6h6m-6 -19h6m-5 -20h6m-6 -23h6m-6 57h6m-6 3h6m-6 -21h6m-6 9h6m-5 -4h6m-6 -43h6m-6 30h6m-6 29h6m-6 24h6m-6 1h6m-5 14h6m-6 -72h6m-6 12h6m-6 61h6m-6 -41h6m-6 -56h6m-5 35h6m-6 28h6m-6 -5h6m-5 -26h6m-6 25h6m-6 69h6m-5 -111h6m-6 110h6m-6 -66h6m-6 24h6m-6 -62h6m-6 88h6m-5 -112h6m-6 64h6m-6 -11h6m-5 -44h6m-6 33h6m-6 37h6m-6 -93h6m-5 84h6m-6 -3h6m-6 -59h6m-6 98h6m-6 -74h6m-6 14h6m-6 -65h6m-5 85h6m-6 -19h6m-6 -22h6m-6 13h6m-6 -31h6m-5 69h6m-6 -7h6m-6 -22h6m-6 -10h6m-6 -5h6m-5 0h6m-6 -30h6m-6 9h6m-6 18h6m-6 -1h6m-6 58h6m-6 -33h6m-5 -26h6m-6 7h6m-6 -66h6m-6 38h6m-6 54h6m-5 -11h6m-6 -8h6m-6 -64h6m-6 55h6m-6 35h6m-6 -20h6m-6 -1h6m-6 -21h6m-6 47h6m-6 -16h6m-6 -10h6m-5 -22h6m-6 -13h6m-6 41h6m-6 -53h6m-6 44h6m-6 -41h6m-6 144h6m-6 -61h6m-5 10h6m-6 11h6m-6 -102h6m-6 21h6m-6 0h6m-6 6h6m-6 6h6m-6 15h6m-5 -35h6m-6 10h6m-6 18h6m-6 -51h6m-6 17h6m-6 33h6m-5 -31h6m-6 69h6m-6 -40h6m-5 5h6m-6 -5h6m-6 -6h6m-6 -32h6m-6 27h6m-6 -24h6m-5 27h6m-6 40h6m-6 -77h6m-6 28h6m-6 -34h6m-5 57h6m-6 5h6m-6 -23h6m-6 24h6m-6 40h6m-6 -69h6m-5 52h6m-6 -15h6m-6 -47h6m-6 -46h6m-6 82h6m-6 -80h6m-6 41h6m-5 -16h6m-6 42h6m-6 -3h6m-6 -81h6m-5 35h6m-6 42h6m-6 2h6m-6 -21h6m-5 -3h6m-6 14h6m-6 2h6m-6 -3h6m-6 -12h6m-5 45h6m-6 -46h6m-6 -4h6m-6 37h6m-6 -29h6m-6 23h6m-5 -37h6m-6 -11h6m-6 54h6m-6 -9h6m-6 -1h6m-6 10h6m-6 -68h6m-5 72h6m-6 -14h6m-6 -49h6m-5 13h6m-6 2h6m-6 58h6m-6 -172h6m-5 140h6m-6 5h6m-6 -88h6m-6 -23h6m-6 107h6m-5 -23h6m-6 -14h6m-6 59h6m-6 29h6m-6 30h6m-6 16h6m-5 -104h6m-6 -17h6m-6 33h6m-6 -42h6m-6 34h6m-6 -8h6m-6 -29h6m-5 54h6m-6 -42h6m-6 40h6m-6 -19h6m-6 42h6m-6 -69h6m-5 29h6m-6 -2h6m-6 21h6m-6 -10h6m-6 23h6m-6 -41h6m-5 21h6m-6 -26h6m-6 40h6m-6 -21h6m-6 -59h6m-6 -62h6m-6 120h6m-5 -45h6m-6 69h6m-6 -6h6m-5 -65h6m-6 57h6m-6 13h6m-5 -59h6m-6 38h6m-6 -26h6m-5 13h6m-5 37h6m-6 -53h6m-6 47h6m-6 -45h6m-6 25h6m-6 -39h6m-5 29h6m-6 -16h6m-6 -6h6m-6 122h6m-6 -133h6m-6 16h6m-6 4h6m-6 12h6m-6 -14h6m-6 -44h6m-6 76h6m-6 2h6m-5 -15h6m-6 24h6m-6 -38h6m-6 -29h6m-5 0h6m-6 30h6m-6 -41h6m-6 30h6m-6 111h6m-5 -85h6m-6 -91h6m-6 45h6m-6 26h6m-6 -6h6m-6 -19h6m-6 30h6m-6 14h6m-6 -23h6m-5 -100h6m-6 106h6m-6 10h6m-6 -2h6m-6 -13h6m-6 29h6m-6 -28h6m-6 4h6m-6 3h6m-5 10h6m-6 5h6m-6 -35h6m-6 4h6m-6 -10h6m-6 1h6m-5 11h6m-6 -1h6m-6 -17h6m-5 49h6m-6 -57h6m-6 32h6m-6 -12h6m-6 18h6m-6 33h6m-5 -99h6m-6 28h6m-6 39h6m-6 -12h6m-6 33h6m-6 -26h6m-6 -8h6m-6 20h6m-6 -30h6m-6 4h6m-5 51h6m-6 -41h6m-6 19h6m-6 2h6m-6 -29h6m-6 -22h6m-6 28h6m-6 24h6m-6 24h6m-5 -53h6m-6 59h6m-6 -21h6m-6 -6h6m-6 -37h6m-6 23h6m-5 -42h6m-6 38h6m-6 -15h6m-6 -12h6m-6 64h6m-6 -49h6m-5 18h6m-6 -85h6m-6 95h6m-6 -26h6m-6 -14h6m-5 9h6m-6 -5h6m-6 19h6m-6 -45h6m-6 19h6m-5 44h6m-6 6h6m-6 32h6m-6 -50h6m-6 7h6m-6 -53h6m-5 1h6m-6 41h6m-6 -52h6m-6 44h6m-5 -23h6m-6 28h6m-6 -64h6m-6 41h6m-6 -24h6m-5 121h6m-6 -67h6m-5 12h6m-6 -64h6m-6 26h6m-6 -2h6m-6 12h6m-6 -7h6m-5 -38h6m-6 26h6m-6 46h6m-5 -31h6m-6 15h6m-6 -34h6m-6 16h6m-6 -2h6m-5 -33h6m-6 10h6m-6 53h6m-6 -70h6m-6 15h6m-6 53h6m-5 -12h6m-6 9h6m-6 -55h6m-6 24h6m-6 -30h6m-6 26h6m-6 2h6m-6 27h6m-6 -21h6m-6 -28h6m-5 11h6m-6 25h6m-6 -84h6m-6 99h6m-6 -10h6m-6 -7h6m-6 8h6m-5 14h6m-6 7h6m-6 -52h6m-5 5h6m-5 -8h6m-6 7h6m-6 29h6m-6 -25h6m-6 10h6m-5 49h6m-6 -30h6m-6 14h6m-6 1h6m-6 -37h6m-5 28h6m-6 -85h6m-6 94h6m-6 -40h6m-6 4h6m-6 -33h6m-6 24h6m-6 19h6m-6 -4h6m-6 -26h6m-5 30h6m-6 -10h6m-6 23h6m-6 -4h6m-6 -97h6m-6 79h6m-6 19h6m-5 -76h6m-6 67h6m-5 25h6m-6 -96h6m-6 73h6m-6 32h6m-6 -110h6m-6 70h6m-6 -9h6m-5 46h6m-6 -37h6m-6 69h6m-6 -6h6m-6 -14h6m-6 -120h6m-6 73h6m-5 -19h6m-6 30h6m-6 3h6m-6 -23h6m-6 -36h6m-5 49h6m-6 -27h6m-6 46h6m-6 2h6m-6 -38h6m-6 -7h6m-6 39h6m-6 -74h6m-5 18h6m-6 45h6m-6 -12h6m-6 -3h6m-6 32h6m-6 -37h6m-6 -22h6m-6 14h6m-5 -39h6m-5 34h6m-6 52h6m-6 -46h6m-6 52h6m-6 -3h6m-6 -60h6m-6 15h6m-6 42h6m-5 -85h6m-6 65h6m-6 -18h6m-6 1h6m-6 0h6m-6 -37h6m-6 -10h6m-6 23h6m-5 -38h6m-6 12h6m-6 33h6m-6 -16h6m-6 17h6m-6 14h6m-6 25h6m-5 27h6m-6 -63h6m-6 -4h6m-6 80h6m-6 -64h6m-5 -6h6m-6 63h6m-6 -46h6m-6 -30h6m-6 83h6m-6 -71h6m-5 7h6m-6 7h6m-6 -29h6m-6 11h6m-5 -25h6m-6 64h6m-6 -16h6m-6 -35h6m-6 46h6m-6 -11h6m-6 -35h6m-6 35h6m-6 -4h6m-5 -20h6m-6 -61h6m-6 67h6m-6 33h6m-6 -58h6m-5 -17h6m-6 -1h6m-6 49h6m-6 -9h6m-5 -20h6m-6 15h6m-6 1h6m-6 13h6m-6 -23h6m-5 -4h6m-6 33h6m-6 4h6m-6 -18h6m-6 14h6m-5 -14h6m-6 11h6m-6 -84h6m-6 17h6m-6 54h6m-5 20h6m-6 -99h6m-6 48h6m-5 84h6m-6 -56h6m-6 1h6m-6 15h6m-6 32h6m-6 -19h6m-6 -24h6m-6 -6h6m-6 9h6m-6 17h6m-5 -55h6m-6 42h6m-6 1h6m-6 -40h6m-6 23h6m-6 -55h6m-6 -11h6m-6 25h6m-6 60h6m-5 1h6m-6 -32h6m-6 -13h6m-6 85h6m-6 -22h6m-6 -37h6m-6 0h6m-6 -28h6m-6 29h6m-6 48h6m-5 -5h6m-6 2h6m-6 -62h6m-6 12h6m-6 -4h6m-6 -49h6m-6 86h6m-5 -56h6m-6 35h6m-6 10h6m-5 -23h6m-6 4h6m-6 11h6m-6 14h6m-5 -64h6m-6 74h6m-6 -72h6m-6 49h6m-6 60h6m-6 -92h6m-6 1h6m-6 -20h6m-6 -38h6m-6 79h6m-6 -9h6m-6 0h6m-5 39h6m-5 -40h6m-6 -8h6m-6 8h6m-6 32h6m-6 -59h6m-6 41h6m-6 32h6m-5 -4h6m-6 -96h6m-6 107h6m-6 19h6m-6 -83h6m-6 53h6m-6 27h6m-6 -122h6m-5 69h6m-6 19h6m-6 -7h6m-6 -88h6m-6 50h6m-5 37h6m-6 -12h6m-6 -44h6m-6 54h6m-6 0h6m-6 -60h6m-6 50h6m-6 -20h6m-6 -8h6m-6 -37h6m-5 61h6m-6 -51h6m-6 66h6m-6 -28h6m-6 33h6m-6 14h6m-6 -24h6m-6 -5h6m-6 -21h6m-5 8h6m-6 -10h6m-6 -43h6m-6 51h6m-6 58h6m-6 -40h6m-6 -52h6m-5 -4h6m-6 14h6m-6 44h6m-6 21h6m-6 -46h6m-6 61h6m-6 -63h6m-6 -5h6m-5 36h6m-6 -9h6m-6 -26h6m-6 35h6m-6 -63h6m-6 39h6m-6 0h6m-6 -55h6m-6 66h6m-6 -5h6m-5 -7h6m-6 -18h6m-6 63h6m-6 -28h6m-6 -25h6m-6 69h6m-6 -25h6m-5 -37h6m-6 19h6m-6 -50h6m-6 27h6m-6 20h6m-6 15h6m-6 -56h6m-6 20h6m-6 82h6m-5 -50h6m-6 -27h6m-6 -33h6m-6 -98h6m-6 76h6m-5 37h6m-6 152h6m-6 -133h6m-6 -21h6m-6 -41h6m-6 31h6m-6 6h6m-5 3h6m-6 36h6m-6 2h6m-6 -32h6m-6 2h6m-6 48h6m-5 -41h6m-6 -23h6m-6 23h6m-6 -14h6m-6 9h6m-6 9h6m-6 5h6m-5 -1h6m-6 -89h6m-6 70h6m-6 -53h6m-6 50h6m-6 -30h6m-6 -17h6m-6 37h6m-6 2h6m-6 6h6m-6 -27h6m-5 41h6m-6 36h6m-6 -40h6m-6 -25h6m-6 -18h6m-6 42h6m-6 -29h6m-5 65h6m-6 -63h6m-6 17h6m-6 59h6m-6 -17h6m-6 -7h6m-6 -57h6m-6 22h6m-6 59h6m-5 -63h6m-6 21h6m-6 1h6m-6 -30h6m-6 49h6m-6 -22h6m-6 -17h6m-6 16h6m-6 19h6m-5 -75h6m-6 71h6m-6 -12h6m-6 -22h6m-6 9h6m-6 -25h6m-6 4h6m-6 34h6m-5 -8h6m-6 8h6m-6 -30h6m-6 16h6m-6 28h6m-6 -6h6m-5 -2h6m-6 -6h6m-6 -5h6m-6 -21h6m-6 90h6m-6 -36h6m-6 -62h6m-6 31h6m-5 -8h6m-6 35h6m-6 -44h6m-6 14h6m-6 -39h6m-6 20h6m-6 23h6m-6 21h6m-5 -123h6m-6 75h6m-6 -1h6m-6 4h6m-6 57h6m-6 -18h6m-6 -49h6m-5 23h6m-6 32h6m-6 -48h6m-6 18h6m-6 7h6m-6 5h6m-6 -49h6m-5 83h6m-6 -62h6m-6 39h6m-6 -22h6m-6 26h6m-6 -18h6m-6 6h6m-6 -38h6m-6 62h6m-6 -25h6m-5 -10h6m-6 20h6m-6 -11h6m-6 -31h6m-6 32h6m-6 33h6m-6 -30h6m-5 -7h6m-6 -19h6m-6 52h6m-6 -9h6m-6 -38h6m-6 9h6m-6 20h6m-5 -12h6m-6 -22h6m-6 71h6m-5 -53h6m-6 3h6m-6 5h6m-6 -5h6m-5 19h6m-6 6h6m-6 -77h6m-5 46h6m-6 -4h6m-6 41h6m-6 8h6m-6 -67h6m-5 38h6m-6 -21h6m-6 -6h6m-5 9h6m-6 -8h6m-6 -87h6m-6 82h6m-5 26h6m-6 -35h6m-6 44h6m-6 -86h6m-6 64h6m-6 -113h6m-5 123h6m-6 -44h6m-6 57h6m-6 -82h6m-6 26h6m-6 25h6m-6 -13h6m-5 -8h6m-6 7h6m-6 -18h6m-6 59h6m-5 -20h6m-6 69h6m-5 -106h6m-5 35h6m-6 1h6m-6 -34h6m-6 38h6m-6 -41h6m-6 -5h6m-5 24h6m-6 -26h6m-6 26h6m-6 6h6m-5 -19h6m-6 7h6m-6 -29h6m-6 58h6m-6 1h6m-6 12h6m-6 -88h6m-6 24h6m-6 67h6m-6 -52h6m-6 23h6m-6 18h6m-5 -21h6m-6 25h6m-6 -32h6m-6 -8h6m-6 16h6m-5 19h6m-6 -34h6m-6 -37h6m-6 62h6m-6 -38h6m-6 9h6m-5 -67h6m-6 61h6m-6 -5h6m-6 63h6m-5 -57h6m-6 26h6m-6 24h6m-6 -47h6m-6 -14h6m-6 31h6m-6 -1h6m-6 -13h6m-6 41h6m-6 21h6m-6 -96h6m-6 90h6m-5 -91h6m-6 39h6m-5 0h6m-6 -23h6m-6 33h6m-5 11h6m-6 -52h6m-6 -94h6m-5 173h6m-6 -37h6m-6 -22h6m-6 25h6m-6 -29h6m-6 40h6m-5 -8h6m-6 -38h6m-6 32h6m-6 -15h6m-6 16h6m-6 17h6m-6 -45h6m-6 1h6m-5 30h6m-6 4h6m-6 -18h6m-6 -23h6m-6 25h6m-6 16h6m-5 -44h6m-6 38h6m-6 11h6m-6 50h6m-6 -91h6m-6 15h6m-6 4h6m-6 -7h6m-5 36h6m-6 -58h6m-5 41h6m-6 -2h6m-6 -15h6m-6 28h6m-6 -54h6m-6 51h6m-6 -45h6m-6 55h6m-6 -17h6m-6 -42h6m-5 66h6m-6 -63h6m-6 42h6m-6 -13h6m-6 -45h6m-6 49h6m-6 -31h6m-5 59h6m-6 -49h6m-6 21h6m-6 23h6m-6 -97h6m-6 66h6m-5 -16h6m-6 35h6m-5 -38h6m-6 6h6m-6 6h6m-5 6h6m-6 47h6m-6 -78h6m-5 6h6m-6 6h6m-6 79h6m-6 -34h6m-6 -79h6m-6 107h6m-6 -51h6m-6 1h6m-5 -14h6m-6 -1h6m-6 -9h6m-6 13h6m-6 -17h6m-5 69h6m-6 -46h6m-6 -14h6m-6 21h6m-6 -88h6m-6 73h6m-6 18h6m-6 3h6m-6 -49h6m-6 44h6m-6 19h6m-6 -35h6m-6 16h6m-5 -1h6m-6 -95h6m-6 92h6m-6 -26h6m-5 43h6m-6 -13h6m-6 6h6m-6 -7h6m-6 -3h6m-6 0h6m-6 13h6m-5 -39h6m-6 41h6m-6 -23h6m-6 9h6m-5 -11h6m-6 34h6m-6 -32h6m-6 -18h6m-6 14h6m-6 36h6m-5 -2h6m-6 -32h6m-6 39h6m-5 -34h6m-6 3h6m-6 59h6m-5 -44h6m-6 -50h6m-6 7h6m-6 -14h6m-6 37h6m-6 -11h6m-6 18h6m-6 -7h6m-5 -71h6m-6 37h6m-6 36h6m-6 -14h6m-5 63h6m-6 -42h6m-6 -11h6m-6 -27h6m-6 54h6m-6 27h6m-6 -64h6m-6 -1h6m-5 19h6m-6 -6h6m-6 19h6m-6 -51h6m-6 -46h6m-5 126h6m-6 -82h6m-6 37h6m-6 -20h6m-6 35h6m-5 -71h6m-6 -153h6m-6 183h6m-6 31h6m-6 -89h6m-5 35h6m-6 77h6m-6 -48h6m-6 19h6m-6 25h6m-5 -23h6m-6 9h6m-6 -24h6m-6 -46h6m-5 40h6m-6 16h6m-6 6h6m-6 -44h6m-6 57h6m-6 -25h6m-6 -57h6m-6 54h6m-5 -14h6m-6 30h6m-6 -13h6m-6 12h6m-5 -16h6m-6 -5h6m-6 -19h6m-6 63h6m-6 2h6m-5 -23h6m-6 -37h6m-6 55h6m-6 3h6m-6 -110h6m-6 47h6m-6 -1h6m-6 53h6m-5 -93h6m-6 53h6m-6 -67h6m-5 85h6m-6 -16h6m-6 21h6m-6 -13h6m-6 64h6m-5 -2h6m-6 -48h6m-6 -3h6m-6 -1h6m-5 -30h6m-6 27h6m-6 25h6m-5 -37h6m-6 -39h6m-6 37h6m-6 50h6m-5 -36h6m-6 -13h6m-6 26h6m-6 -20h6m-6 -3h6m-6 -13h6m-6 -17h6m-6 25h6m-6 3h6m-5 58h6m-6 -49h6m-6 -81h6m-6 69h6m-6 -16h6m-5 12h6m-6 -11h6m-6 -12h6m-6 58h6m-6 -38h6m-5 9h6m-6 -29h6m-6 13h6m-5 -22h6m-6 44h6m-6 -27h6m-6 -29h6m-6 -1h6m-6 41h6m-5 18h6m-6 13h6m-6 -75h6m-6 8h6m-6 96h6m-6 -145h6m-6 55h6m-6 -5h6m-5 41h6m-6 -18h6m-6 -28h6m-6 62h6m-6 -3h6m-5 -23h6m-6 37h6m-6 -17h6m-6 -24h6m-6 108h6m-5 -26h6m-6 -122h6m-6 83h6m-6 -39h6m-6 -6h6m-6 -8h6m-6 10h6m-6 -9h6m-5 18h6m-6 -52h6m-6 54h6m-6 8h6m-6 1h6m-6 -31h6m-6 7h6m-6 -49h6m-6 67h6m-6 -80h6m-5 85h6m-6 9h6m-6 1h6m-6 -49h6m-5 50h6m-6 -14h6m-6 -2h6m-6 45h6m-6 -83h6m-6 25h6m-6 -1h6m-5 -3h6m-6 -8h6m-6 7h6m-6 -12h6m-6 12h6m-5 -5h6m-6 27h6m-6 -32h6m-6 23h6m-6 -41h6m-6 30h6m-5 -20h6m-6 -16h6m-6 -31h6m-6 64h6m-6 -33h6m-6 53h6m-6 -7h6m-5 4h6m-6 43h6m-6 -61h6m-6 -6h6m-6 16h6m-6 5h6m-6 -4h6m-6 35h6m-6 -106h6m-6 80h6m-6 5h6m-6 -8h6m-5 -42h6m-6 69h6m-6 -121h6m-6 84h6m-5 48h6m-6 -68h6m-6 1h6m-6 46h6m-6 -13h6m-6 25h6m-5 18h6m-6 -27h6m-6 -43h6m-6 40h6m-5 -50h6m-6 6h6m-6 -6h6m-6 8h6m-6 28h6m-5 -32h6m-6 17h6m-6 22h6m-6 -46h6m-6 60h6m-5 -60h6m-6 67h6m-6 -50h6m-6 26h6m-5 -52h6m-6 19h6m-6 9h6m-6 9h6m-6 31h6m-6 -23h6m-6 -36h6m-6 -41h6m-6 64h6m-6 10h6m-5 -12h6m-6 -46h6m-6 -9h6m-6 9h6m-6 59h6m-6 -27h6m-6 -2h6m-6 11h6m-5 -32h6m-6 59h6m-6 -113h6m-6 99h6m-6 -26h6m-6 29h6m-6 -78h6m-6 67h6m-5 69h6m-6 -73h6m-6 -34h6m-6 29h6m-6 30h6m-6 -17h6m-5 -3h6m-6 -43h6m-6 6h6m-6 31h6m-6 -43h6m-6 56h6m-5 -69h6m-6 59h6m-6 57h6m-6 -110h6m-6 58h6m-6 -27h6m-6 7h6m-6 28h6m-6 19h6m-5 -55h6m-6 0h6m-6 -13h6m-6 -19h6m-6 73h6m-6 -17h6m-6 -7h6m-5 19h6m-6 -20h6m-6 -11h6m-6 36h6m-5 -74h6m-6 78h6m-6 1h6m-6 -64h6m-5 41h6m-6 -12h6m-6 32h6m-6 -23h6m-6 -9h6m-5 38h6m-6 -70h6m-6 38h6m-6 36h6m-6 -51h6m-6 62h6m-6 23h6m-6 -60h6m-5 23h6m-6 -40h6m-6 -4h6m-6 3h6m-6 -8h6m-6 -28h6m-6 54h6m-6 -25h6m-5 -57h6m-6 96h6m-6 -21h6m-6 -3h6m-6 27h6m-5 -17h6m-6 6h6m-6 18h6m-5 -45h6m-6 -16h6m-6 38h6m-6 -36h6m-6 10h6m-6 18h6m-6 1h6m-6 -4h6m-5 15h6m-6 10h6m-6 -24h6m-5 72h6m-6 -75h6m-6 -2h6m-6 29h6m-6 -35h6m-6 -62h6m-6 -1h6m-6 62h6m-5 22h6m-6 -71h6m-6 70h6m-6 -21h6m-6 108h6m-6 -145h6m-6 21h6m-5 -11h6m-6 70h6m-6 -61h6m-6 6h6m-5 9h6m-6 21h6m-6 -49h6m-6 -3h6m-6 14h6m-5 4h6m-6 48h6m-6 -26h6m-6 14h6m-6 28h6m-6 -44h6m-6 39h6m-6 5h6m-6 -4h6m-5 -95h6m-6 71h6m-6 -10h6m-6 -60h6m-6 26h6m-6 46h6m-5 -15h6m-6 -23h6m-6 23h6m-6 -2h6m-6 11h6m-6 -34h6m-6 88h6m-6 -31h6m-6 -56h6m-6 4h6m-6 3h6m-5 -35h6m-6 101h6m-6 -153h6m-6 127h6m-6 11h6m-6 -43h6m-6 -32h6m-6 12h6m-6 1h6m-5 -72h6m-6 106h6m-6 -24h6m-6 7h6m-6 12h6m-6 -21h6m-6 55h6m-6 -50h6m-6 25h6m-6 -16h6m-5 -5h6m-6 8h6m-6 17h6m-6 -3h6m-6 46h6m-6 -34h6m-6 -26h6m-6 4h6m-6 -39h6m-6 -3h6m-6 35h6m-5 -25h6m-6 17h6m-6 -37h6m-6 24h6m-6 -16h6m-6 36h6m-5 10h6m-6 25h6m-6 -14h6m-5 -68h6m-6 11h6m-6 81h6m-6 -54h6m-6 30h6m-6 18h6m-6 -21h6m-5 -32h6m-6 -2h6m-6 16h6m-6 20h6m-6 -27h6m-5 55h6m-6 -85h6m-6 26h6m-6 -36h6m-5 38h6m-5 -5h6m-6 4h6m-6 10h6m-6 -25h6m-6 0h6m-5 27h6m-6 -15h6m-6 -16h6m-6 18h6m-5 -46h6m-6 52h6m-6 -24h6m-6 -5h6m-6 74h6m-6 16h6m-5 -78h6m-6 37h6m-6 -68h6m-6 2h6m-6 21h6m-6 45h6m-5 -57h6m-6 54h6m-6 -25h6m-6 10h6m-6 -4h6m-6 44h6m-5 1h6m-6 -56h6m-5 51h6m-6 -83h6m-6 40h6m-5 -35h6m-6 44h6m-6 29h6m-6 -66h6m-6 60h6m-6 -76h6m-6 52h6m-6 -85h6m-5 90h6m-6 -24h6m-6 24h6m-6 -4h6m-6 -21h6m-6 20h6m-6 -34h6m-5 32h6m-6 38h6m-6 -54h6m-6 -27h6m-6 57h6m-6 -16h6m-5 44h6m-6 -54h6m-6 67h6m-6 -104h6m-6 -26h6m-5 72h6m-6 20h6m-6 -14h6m-6 -45h6m-6 40h6m-5 8h6m-6 19h6m-6 -21h6m-6 -23h6m-6 8h6m-6 -29h6m-6 76h6m-6 -37h6m-5 -60h6m-6 5h6m-6 58h6m-5 25h6m-6 4h6m-6 -39h6m-6 -1h6m-6 -14h6m-6 -11h6m-6 77h6m-6 -42h6m-5 5h6m-6 -5h6m-6 27h6m-5 -59h6m-6 -22h6m-5 70h6m-6 -19h6m-6 -34h6m-6 13h6m-6 7h6m-6 9h6m-6 7h6m-6 10h6m-6 -65h6m-5 20h6m-6 -50h6m-6 30h6m-6 67h6m-6 -25h6m-6 57h6m-6 -34h6m-6 -41h6m-5 -81h6m-6 74h6m-6 43h6m-6 -67h6m-6 59h6m-5 -39h6m-6 81h6m-6 -41h6m-6 -13h6m-6 56h6m-6 -75h6m-5 7h6m-6 29h6m-6 -7h6m-6 12h6m-6 16h6m-6 -87h6m-5 46h6m-6 -58h6m-6 0h6m-6 52h6m-6 21h6m-6 -56h6m-6 76h6m-6 -15h6m-6 -28h6m-6 -26h6m-6 6h6m-6 18h6m-5 8h6m-6 -13h6m-6 75h6m-6 -8h6m-6 -109h6m-5 55h6m-6 19h6m-6 -47h6m-6 156h6m-5 -126h6m-6 3h6m-6 20h6m-6 -28h6m-6 -10h6m-6 -8h6m-6 11h6m-5 -97h6m-6 114h6m-6 -61h6m-6 -57h6m-6 124h6m-6 41h6m-5 -50h6m-6 16h6m-6 8h6m-6 -37h6m-6 -32h6m-6 -9h6m-6 122h6m-6 -85h6m-6 8h6m-5 14h6m-6 -14h6m-6 16h6m-6 -66h6m-6 14h6m-5 70h6m-6 -50h6m-6 -19h6m-6 14h6m-6 80h6m-6 -63h6m-6 -70h6m-6 71h6m-6 10h6m-5 18h6m-6 -33h6m-6 -27h6m-6 30h6m-6 31h6m-6 57h6m-5 -101h6m-6 -53h6m-6 93h6m-6 28h6m-5 15h6m-6 -16h6m-6 -119h6m-6 36h6m-6 47h6m-5 54h6m-6 -62h6m-6 87h6m-6 -49h6m-6 -96h6m-6 82h6m-6 17h6m-5 -37h6m-6 18h6m-6 25h6m-6 -30h6m-5 -16h6m-6 29h6m-6 -79h6m-6 129h6m-5 -164h6m-6 62h6m-6 -101h6m-6 127h6m-5 -34h6m-6 26h6m-6 -66h6m-6 104h6m-6 -58h6m-5 61h6m-6 -158h6m-6 92h6m-6 -5h6m-5 -29h6m-6 30h6m-6 15h6m-6 -4h6m-6 48h6m-6 -66h6m-5 34h6m-6 -3h6m-6 -25h6m-5 50h6m-6 -45h6m-6 52h6m-6 -14h6m-6 -32h6m-5 -29h6m-6 52h6m-6 -62h6m-6 59h6m-6 -38h6m-6 -18h6m-6 83h6m-5 -56h6m-6 0h6m-6 -34h6m-6 72h6m-6 9h6m-6 -67h6m-6 82h6m-6 4h6m-6 -35h6m-6 -49h6m-5 114h6m-6 -141h6m-6 73h6m-5 -33h6m-6 68h6m-6 -48h6m-6 -34h6m-5 18h6m-6 7h6m-6 20h6m-6 -30h6m-6 89h6m-6 -56h6m-6 22h6m-6 -58h6m-6 160h6m-5 -153h6m-6 -20h6m-5 -32h6m-6 97h6m-6 -28h6m-6 -21h6m-6 42h6m-6 -36h6m-6 -28h6m-5 33h6m-6 -38h6m-6 73h6m-5 -80h6m-6 18h6m-6 12h6m-5 24h6m-6 -38h6m-6 58h6m-6 -4h6m-5 56h6m-6 -72h6m-6 2h6m-6 -10h6m-6 -65h6m-6 79h6m-6 -42h6m-6 35h6m-6 -31h6m-5 5h6m-6 47h6m-6 -52h6m-6 44h6m-6 -57h6m-6 63h6m-6 -9h6m-6 4h6m-5 -36h6m-6 6h6m-6 -12h6m-6 127h6m-6 -117h6m-5 42h6m-6 -21h6m-6 11h6m-5 -160h6m-6 121h6m-6 -21h6m-5 8h6m-6 39h6m-6 -4h6m-6 36h6m-6 -61h6m-6 -10h6m-5 67h6m-6 -39h6m-6 -46h6m-6 -17h6m-5 37h6m-6 63h6m-6 -23h6m-6 -62h6m-6 39h6m-5 -102h6m-6 119h6m-6 -20h6m-6 44h6m-6 -29h6m-6 12h6m-6 0h6m-5 20h6m-6 -60h6m-6 -58h6m-6 102h6m-6 -36h6m-5 -13h6m-6 22h6m-6 -27h6m-6 56h6m-6 -8h6m-4 37h6m-6 -33h6m-6 -51h6m-5 16h6m-6 30h6m-6 22h6m-6 -25h6m-6 16h6m-6 -48h6m-6 14h6m-6 30h6m-5 -3h6m-6 -41h6m-6 9h6m-6 5h6m-6 -22h6m-6 -40h6m-6 154h6m-5 -46h6m-6 -63h6m-6 7h6m-6 -34h6m-6 32h6m-6 126h6m-6 -130h6m-6 -4h6m-6 9h6m-6 -7h6m-5 -14h6m-6 -20h6m-6 26h6m-6 -73h6m-6 127h6m-6 16h6m-6 -91h6m-6 12h6m-5 44h6m-6 -15h6m-6 -38h6m-6 63h6m-6 -101h6m-6 88h6m-6 -33h6m-6 -58h6m-5 216h6m-6 -150h6m-6 22h6m-6 -40h6m-6 34h6m-6 -103h6m-6 50h6m-6 87h6m-6 -11h6m-5 -39h6m-6 49h6m-6 -24h6m-5 -95h6m-6 107h6m-6 24h6m-6 -66h6m-6 1h6m-6 -48h6m-6 117h6m-6 -50h6m-6 -44h6m-6 43h6m-6 66h6m-6 -17h6m-5 -43h6m-6 26h6m-6 -25h6m-5 0h6m-6 -47h6m-6 131h6m-6 -27h6m-6 -77h6m-6 46h6m-5 -109h6m-6 94h6m-6 -41h6m-6 43h6m-6 39h6m-6 -60h6m-6 -6h6m-5 10h6m-6 -66h6m-5 58h6m-6 -17h6m-6 56h6m-6 -48h6m-6 33h6m-5 -53h6m-6 52h6m-6 -135h6m-6 86h6m-6 -34h6m-6 16h6m-5 46h6m-6 -6h6m-6 -25h6m-5 69h6m-6 -41h6m-6 -28h6m-6 100h6m-6 -119h6m-6 48h6m-6 -26h6m-5 77h6m-6 -66h6m-6 91h6m-6 -78h6m-6 -15h6m-6 -17h6m-6 130h6m-5 -111h6m-6 16h6m-6 -89h6m-6 87h6m-5 43h6m-6 -40h6m-6 -52h6m-6 54h6m-6 -17h6m-6 8h6m-6 38h6m-6 -94h6m-6 77h6m-6 -3h6m-5 51h6m-6 -73h6m-6 7h6m-6 32h6m-6 -23h6m-6 -28h6m-6 36h6m-5 -138h6m-6 100h6m-6 -22h6m-6 -70h6m-6 125h6m-6 -7h6m-6 -66h6m-6 41h6m-6 38h6m-5 -77h6m-6 13h6m-6 13h6m-5 -16h6m-6 92h6m-6 23h6m-6 -80h6m-6 -35h6m-6 105h6m-6 -77h6m-6 26h6m-6 -8h6m-5 9h6m-6 -57h6m-6 31h6m-6 27h6m-6 -64h6m-5 46h6m-6 -53h6m-6 31h6m-6 60h6m-6 -43h6m-5 29h6m-6 -47h6m-6 37h6m-6 -7h6m-5 4h6m-6 86h6m-5 -133h6m-6 59h6m-6 -125h6m-6 87h6m-6 -33h6m-5 99h6m-6 -128h6m-6 49h6m-6 24h6m-6 -14h6m-6 62h6m-5 -16h6m-6 -11h6m-6 66h6m-6 -132h6m-6 28h6m-6 -31h6m-6 53h6m-6 -21h6m-6 127h6m-6 -73h6m-5 12h6m-6 -89h6m-6 -17h6m-6 44h6m-6 -11h6m-6 -37h6m-6 87h6m-5 -66h6m-6 45h6m-6 -30h6m-6 -11h6m-6 -48h6m-6 56h6m-6 41h6m-5 9h6m-6 -4h6m-6 -28h6m-6 49h6m-6 -59h6m-6 -4h6m-5 135h6m-6 -125h6m-6 63h6m-6 23h6m-6 -101h6m-5 42h6m-6 -57h6m-6 15h6m-6 40h6m-6 -1h6m-6 36h6m-6 -33h6m-6 -34h6m-6 -38h6m-5 76h6m-6 -19h6m-6 35h6m-6 -36h6m-6 -49h6m-6 99h6m-5 -2h6m-6 -86h6m-6 15h6m-6 57h6m-6 -90h6m-6 64h6m-5 -21h6m-6 -8h6m-6 32h6m-6 -8h6m-6 69h6m-6 -89h6m-6 86h6m-6 -131h6m-5 17h6m-6 112h6m-6 0h6m-6 -102h6m-6 32h6m-6 2h6m-6 28h6m-5 42h6m-6 -86h6m-6 -23h6m-6 110h6m-6 -15h6m-6 -8h6m-5 -61h6m-6 3h6m-6 -13h6m-6 2h6m-6 -19h6m-6 6h6m-6 26h6m-6 16h6m-6 -47h6m-6 47h6m-5 -5h6m-6 -11h6m-5 107h6m-6 -6h6m-6 -47h6m-6 -35h6m-6 3h6m-6 -34h6m-6 -2h6m-6 92h6m-6 -65h6m-6 81h6m-6 -54h6m-5 18h6m-6 -106h6m-6 95h6m-6 -43h6m-6 -6h6m-5 -22h6m-6 8h6m-6 -1h6m-6 -89h6m-6 147h6m-5 49h6m-6 -75h6m-6 -105h6m-6 286h6m-6 -184h6m-6 45h6m-6 -34h6m-6 -31h6m-5 44h6m-6 -57h6m-6 40h6m-6 -6h6m-6 15h6m-6 12h6m-5 -19h6m-6 -22h6m-6 -36h6m-5 112h6m-6 -106h6m-6 -21h6m-6 108h6m-6 9h6m-6 -52h6m-6 -22h6m-6 -10h6m-6 48h6m-5 3h6m-6 -87h6m-6 122h6m-6 -8h6m-6 -35h6m-5 161h6m-6 -175h6m-6 9h6m-6 -76h6m-6 165h6m-6 -206h6m-5 88h6m-6 20h6m-6 -16h6m-6 70h6m-6 -40h6m-6 -6h6m-5 -100h6m-6 76h6m-6 32h6m-6 -33h6m-6 34h6m-5 -51h6m-6 -21h6m-6 59h6m-6 -55h6m-6 9h6m-5 97h6m-6 -88h6m-6 95h6m-6 -38h6m-6 -46h6m-6 -20h6m-6 5h6m-6 15h6m-6 68h6m-5 -126h6m-6 117h6m-6 -68h6m-6 38h6m-6 30h6m-6 -130h6m-6 20h6m-6 52h6m-5 57h6m-6 11h6m-6 -20h6m-5 25h6m-5 -58h6m-6 -85h6m-6 89h6m-5 -114h6m-5 156h6m-6 -37h6m-6 -10h6m-6 -23h6m-6 -36h6m-6 91h6m-5 -20h6m-6 -33h6m-6 2h6m-6 63h6m-6 -59h6m-6 23h6m-6 -70h6m-6 70h6m-6 -53h6m-6 4h6m-5 23h6m-6 6h6m-6 8h6m-6 25h6m-6 -29h6m-5 16h6m-6 90h6m-6 -113h6m-6 49h6m-6 -6h6m-6 -38h6m-6 48h6m-6 -34h6m-6 -93h6m-5 71h6m-6 -11h6m-6 53h6m-6 -14h6m-6 11h6m-6 -90h6m-5 49h6m-6 -6h6m-6 130h6m-6 -19h6m-6 -110h6m-6 61h6m-6 -28h6m-6 -43h6m-6 59h6m-5 -22h6m-6 -26h6m-6 -10h6m-6 -2h6m-6 49h6m-5 -32h6m-6 -15h6m-6 14h6m-6 -43h6m-5 -36h6m-6 45h6m-6 -8h6m-6 19h6m-6 57h6m-6 -23h6m-6 69h6m-6 -97h6m-6 0h6m-6 19h6m-5 -12h6m-6 -65h6m-6 150h6m-6 -114h6m-6 88h6m-5 15h6m-6 -99h6m-6 35h6m-6 -16h6m-6 36h6m-6 -20h6m-6 57h6m-5 -25h6m-6 -59h6m-6 66h6m-6 -1h6m-6 25h6m-5 -100h6m-6 62h6m-6 11h6m-6 -57h6m-6 -22h6m-6 -5h6m-6 49h6m-6 43h6m-6 -39h6m-6 -45h6m-6 49h6m-5 15h6m-6 -13h6m-6 52h6m-6 -29h6m-6 -69h6m-6 72h6m-5 -12h6m-6 6h6m-6 -49h6m-6 5h6m-6 22h6m-6 -100h6m-6 153h6m-6 -55h6m-5 50h6m-6 -14h6m-6 -48h6m-6 15h6m-6 9h6m-6 -66h6m-6 77h6m-6 -62h6m-6 -38h6m-6 103h6m-5 70h6m-6 -147h6m-6 55h6m-6 -12h6m-5 -15h6m-6 9h6m-6 21h6m-5 1h6m-6 -36h6m-6 136h6m-6 -63h6m-5 -60h6m-6 53h6m-6 12h6m-6 -121h6m-6 65h6m-6 15h6m-6 -91h6m-6 107h6m-6 -26h6m-6 34h6m-5 -8h6m-6 -45h6m-6 116h6m-6 -81h6m-6 -77h6m-6 25h6m-6 23h6m-5 -2h6m-6 -54h6m-6 42h6m-6 14h6m-6 14h6m-6 100h6m-6 -118h6m-6 8h6m-5 11h6m-6 -49h6m-6 -25h6m-6 103h6m-6 -95h6m-6 54h6m-6 -41h6m-6 62h6m-6 -5h6m-6 24h6m-5 -45h6m-6 78h6m-6 -81h6m-6 -41h6m-6 7h6m-6 83h6m-6 -97h6m-5 22h6m-6 32h6m-6 3h6m-6 19h6m-6 -40h6m-6 31h6m-6 41h6m-6 -118h6m-6 93h6m-5 -50h6m-6 30h6m-6 -18h6m-6 -5h6m-6 119h6m-6 -142h6m-5 40h6m-6 -37h6m-6 11h6m-6 12h6m-6 -1h6m-5 32h6m-6 -67h6m-6 -31h6m-5 65h6m-6 61h6m-6 -1h6m-6 -104h6m-6 121h6m-6 -62h6m-6 54h6m-5 -34h6m-6 5h6m-6 -106h6m-5 159h6m-5 -79h6m-6 35h6m-5 -106h6m-6 116h6m-6 62h6m-6 -147h6m-6 102h6m-5 -71h6m-6 76h6m-6 5h6m-6 -1h6m-6 -102h6m-6 -7h6m-6 40h6m-6 3h6m-6 3h6m-6 49h6m-5 -31h6m-6 -90h6m-6 72h6m-6 -6h6m-6 35h6m-6 -88h6m-6 68h6m-5 -56h6m-6 71h6m-5 136h6m-6 -160h6m-6 -17h6m-6 95h6m-6 -136h6m-6 95h6m-6 -27h6m-6 117h6m-5 -164h6m-6 48h6m-6 36h6m-6 -122h6m-6 94h6m-5 -83h6m-6 10h6m-6 78h6m-6 -77h6m-5 31h6m-6 -37h6m-6 16h6m-6 -14h6m-5 106h6m-6 -101h6m-6 -21h6m-6 83h6m-6 -1h6m-6 -71h6m-5 60h6m-6 57h6m-6 -84h6m-6 46h6m-6 -94h6m-5 100h6m-6 10h6m-5 26h6m-6 -14h6m-6 -43h6m-6 -45h6m-5 47h6m-6 -41h6m-6 45h6m-6 0h6m-6 -56h6m-6 66h6m-5 -48h6m-6 89h6m-6 -97h6m-5 37h6m-6 -30h6m-6 28h6m-6 13h6m-6 -54h6m-5 25h6m-6 57h6m-6 -88h6m-6 11h6m-6 91h6m-6 -110h6m-5 93h6m-6 -106h6m-6 118h6m-6 -38h6m-5 -74h6m-6 38h6m-6 -1h6m-5 -33h6m-6 -15h6m-6 42h6m-6 16h6m-5 40h6m-6 -41h6m-6 -13h6m-6 0h6m-6 85h6m-5 -19h6m-6 -69h6m-6 64h6m-6 5h6m-6 42h6m-6 -145h6m-5 -3h6m-6 -13h6m-6 100h6" stroke="#3050f5" stroke-width="6" stroke-opacity="0.18" fill="none"/>
</g></svg></body></html>
